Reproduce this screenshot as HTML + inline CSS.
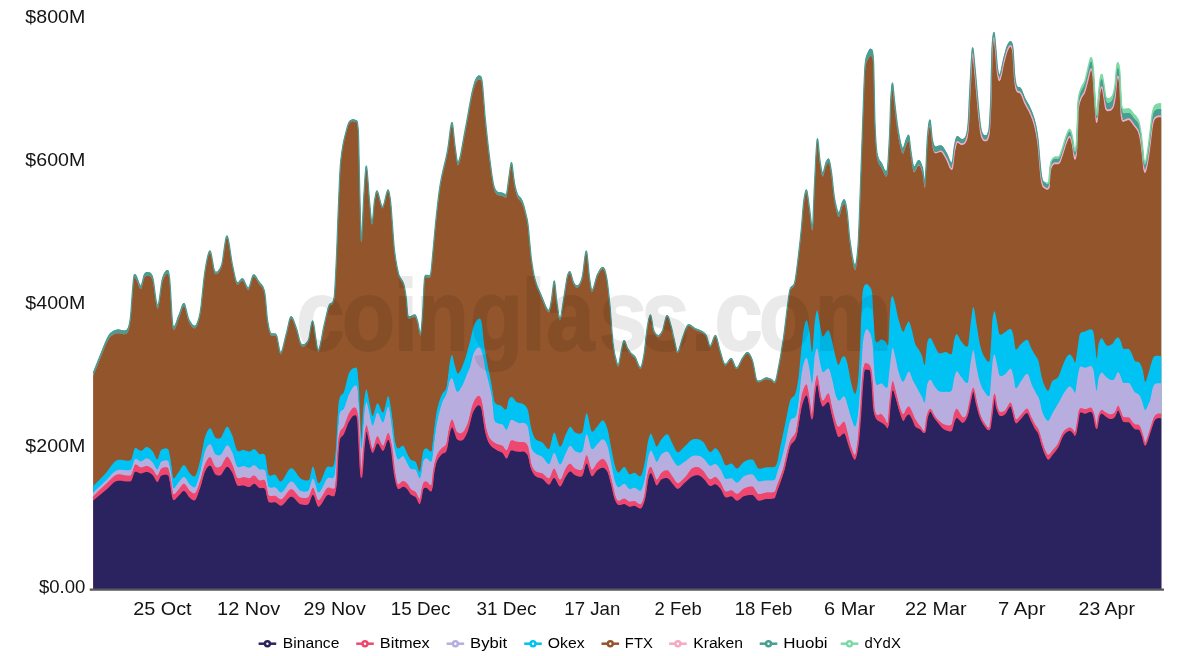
<!DOCTYPE html>
<html lang="en">
<head>
<meta charset="utf-8">
<title>Open Interest by Exchange</title>
<style>
html,body{margin:0;padding:0;background:#fff;}
body{width:1183px;height:656px;overflow:hidden;position:relative;font-family:"Liberation Sans",sans-serif;}
svg{position:absolute;left:0;top:0;display:block;}
.ax{font-family:"Liberation Sans",sans-serif;font-size:18.4px;fill:#141414;}
.lg{font-family:"Liberation Sans",sans-serif;font-size:15.4px;fill:#000;}
.wm{font-family:"Liberation Sans",sans-serif;font-weight:700;font-size:101px;fill:#000;stroke:#000;stroke-width:2px;stroke-linejoin:round;opacity:0.08;}
</style>
</head>
<body>
<svg width="1183" height="656" viewBox="0 0 1183 656">
<rect width="1183" height="656" fill="#fff"/>
<g>
<path d="M93.20 589.6L93.20 372.59L97.95 360.58L105.20 342.58L106.45 339.77L107.70 337.21L108.95 335.00L109.95 333.57L110.95 332.54L112.95 331.18L114.70 330.31L116.45 329.77L117.70 329.58L118.70 329.60L119.95 329.78L122.45 330.31L123.70 330.46L124.70 330.44L125.70 330.23L126.45 329.92L126.95 329.55L127.20 329.28L127.70 328.53L128.20 327.46L128.70 326.00L129.20 324.11L129.70 321.71L130.20 318.62L130.95 310.95L132.45 290.24L133.20 281.15L133.70 276.91L133.95 275.54L134.20 274.67L134.45 274.19L134.70 274.01L134.95 274.06L135.70 274.69L136.20 275.44L136.95 277.14L138.70 282.12L139.45 283.96L139.95 284.86L140.20 285.18L140.45 285.39L140.70 285.49L140.95 285.45L141.20 285.16L141.70 283.98L142.20 282.20L143.45 276.88L143.95 275.08L144.45 273.88L144.95 273.20L145.45 272.69L146.20 272.20L146.95 271.97L147.70 271.96L148.95 272.18L149.70 272.42L150.45 272.89L151.20 273.70L151.70 274.50L152.20 275.54L152.70 276.93L152.95 277.94L153.45 280.61L153.95 283.93L155.45 295.37L156.20 300.40L156.70 302.94L156.95 303.88L157.20 304.55L157.45 304.93L157.70 304.98L157.95 304.71L158.20 304.13L158.45 303.29L158.95 300.93L159.70 296.13L161.45 283.28L161.95 280.28L162.45 278.00L162.95 276.47L163.70 274.53L164.45 272.95L165.20 271.70L165.95 270.80L166.70 270.24L167.45 270.01L167.70 270.01L167.95 270.19L168.20 270.57L168.45 271.18L168.95 273.16L169.45 276.31L169.70 278.40L169.95 281.18L170.45 288.53L171.70 310.83L172.20 318.41L172.70 323.55L172.95 324.86L173.20 325.43L173.45 325.83L173.70 326.07L173.95 326.17L174.20 326.13L174.45 325.97L174.70 325.71L175.20 324.88L175.70 323.74L176.20 322.38L178.20 316.40L179.20 314.11L179.70 312.79L181.45 307.41L182.20 305.33L182.70 304.22L183.20 303.43L183.45 303.17L183.70 303.02L183.95 302.99L184.20 303.11L184.45 303.40L184.70 303.86L185.20 305.19L185.95 307.96L187.45 314.49L187.95 316.42L188.45 317.99L188.95 319.09L189.95 320.93L190.95 322.60L191.95 324.00L192.70 324.81L193.45 325.38L194.20 325.66L194.95 325.62L195.45 325.36L195.70 325.15L196.45 324.18L196.95 323.26L197.45 322.10L197.95 320.72L198.70 318.21L199.20 316.24L200.20 311.54L200.70 308.27L201.20 304.28L203.70 280.08L204.70 271.91L205.95 264.49L206.95 259.12L207.70 255.68L208.45 252.96L208.95 251.65L209.20 251.16L209.45 250.81L209.70 250.58L209.95 250.50L210.20 250.61L210.45 250.98L210.70 251.58L211.20 253.41L211.70 255.85L213.70 267.29L214.20 269.45L214.70 270.88L214.95 271.26L215.20 271.44L215.70 271.68L216.20 271.78L216.95 271.65L217.45 271.39L217.95 270.99L218.45 270.47L218.95 269.82L219.95 268.17L220.95 266.08L221.45 264.87L221.70 264.08L222.20 261.86L222.70 258.95L224.70 244.57L225.45 239.87L225.95 237.50L226.20 236.62L226.45 235.98L226.70 235.60L226.95 235.50L227.20 235.67L227.45 236.05L227.70 236.64L227.95 237.42L228.45 239.47L229.45 245.08L231.45 258.57L232.20 263.02L234.45 273.94L235.20 277.26L235.95 279.93L236.45 281.21L236.70 281.65L236.95 281.96L237.45 282.23L237.70 282.25L238.20 282.10L238.95 281.50L240.70 279.39L241.45 278.64L241.95 278.34L242.20 278.28L242.70 278.34L243.20 278.73L243.95 279.84L244.70 281.39L246.20 284.86L246.95 286.31L247.45 287.02L247.70 287.27L247.95 287.43L248.20 287.51L248.45 287.49L248.70 287.32L248.95 286.99L249.20 286.53L249.70 285.26L250.20 283.65L251.70 278.17L252.45 275.92L252.95 274.92L253.20 274.62L253.45 274.48L253.95 274.46L254.20 274.54L254.70 274.84L255.20 275.33L255.70 275.97L256.45 277.12L258.20 280.18L258.95 281.37L259.70 282.33L261.20 283.90L261.95 284.81L262.70 286.00L263.20 287.03L263.70 288.29L264.20 289.83L264.70 291.74L264.95 293.23L265.45 297.51L266.95 314.40L267.45 318.94L268.45 325.06L268.95 327.57L269.45 329.66L269.95 331.29L270.20 331.90L270.70 332.72L271.20 333.20L271.70 333.47L272.20 333.59L272.70 333.59L274.20 333.40L274.95 333.47L275.70 333.84L276.20 334.33L276.45 334.68L276.70 335.23L276.95 336.02L277.45 338.19L278.95 346.69L279.45 349.20L279.95 351.06L280.20 351.65L280.45 351.96L280.70 351.98L280.95 351.83L281.45 351.17L281.95 350.08L282.70 347.79L283.70 343.90L285.70 335.25L286.95 330.47L289.20 320.33L289.70 318.54L290.20 317.19L290.45 316.73L290.70 316.42L290.95 316.29L291.20 316.28L291.45 316.35L291.70 316.52L292.20 317.06L292.70 317.87L293.45 319.48L294.45 322.12L296.95 329.24L297.70 332.00L299.45 339.07L300.20 341.58L300.70 342.83L301.20 343.63L301.70 343.97L302.45 344.26L303.20 344.33L303.95 344.21L304.70 343.89L305.45 343.39L306.20 342.70L306.95 341.83L307.95 340.40L308.45 339.45L308.70 338.65L309.20 336.45L310.95 326.06L311.45 323.47L311.95 321.57L312.20 320.96L312.45 320.62L312.70 320.60L312.95 320.90L313.20 321.50L313.45 322.37L313.95 324.79L314.70 329.67L316.45 342.69L317.20 347.00L317.70 348.85L317.95 349.38L318.20 349.60L318.45 349.56L318.70 349.34L318.95 348.95L319.45 347.72L320.20 344.91L320.95 341.26L322.95 330.07L323.70 326.31L326.95 312.08L328.20 307.35L328.95 305.13L329.20 304.54L329.70 303.72L329.95 303.46L330.45 303.14L331.45 302.86L331.95 302.62L332.45 302.12L332.70 301.74L333.20 300.61L333.45 299.83L333.95 297.75L334.20 296.18L334.45 293.73L334.95 286.62L335.70 272.28L336.70 250.62L337.95 216.18L339.45 180.14L340.20 166.14L340.70 160.59L341.20 156.21L341.95 150.55L342.45 147.31L343.20 143.10L344.45 137.34L347.20 126.63L347.95 124.28L348.45 122.97L348.95 121.89L349.45 121.08L349.95 120.54L350.95 119.89L351.95 119.46L352.70 119.28L353.45 119.25L354.20 119.38L354.95 119.67L355.70 120.09L356.45 120.08L356.70 120.24L356.95 120.62L357.20 121.29L357.45 122.36L357.70 123.89L358.20 128.71L358.45 132.78L358.70 140.35L359.70 187.45L360.45 218.24L360.95 235.91L361.20 240.14L361.45 240.05L361.70 237.95L361.95 234.43L362.45 224.42L363.45 201.20L364.95 176.93L365.45 170.41L365.70 167.99L365.95 166.32L366.20 165.53L366.45 165.73L366.70 166.71L367.20 170.59L367.70 176.35L369.20 196.72L370.70 213.79L371.20 218.79L371.45 220.65L371.70 221.92L371.95 222.48L372.20 222.18L372.45 220.97L372.70 219.04L373.95 204.79L374.45 200.31L375.20 195.95L375.70 193.45L376.20 191.58L376.45 190.95L376.70 190.58L376.95 190.48L377.20 190.65L377.45 190.98L377.95 192.07L378.70 194.50L380.45 201.62L380.95 203.43L381.70 205.47L381.95 205.91L382.20 206.19L382.45 206.30L382.70 206.23L382.95 205.98L383.20 205.56L383.45 205.00L383.95 203.50L384.70 200.59L386.20 194.08L386.95 191.42L387.45 190.18L387.70 189.77L387.95 189.53L388.20 189.50L388.45 189.76L388.70 190.28L388.95 191.05L389.45 193.24L390.20 197.83L390.70 201.68L391.20 207.23L392.45 224.73L393.95 244.50L394.45 249.60L395.70 258.53L396.45 263.11L397.20 267.13L398.20 271.60L398.95 274.29L399.45 275.69L400.20 277.27L400.70 278.09L402.20 280.24L402.95 281.60L403.70 283.49L404.45 286.28L404.95 288.74L405.45 291.65L406.45 298.81L407.45 311.67L407.70 314.10L407.95 315.41L408.45 315.94L408.95 316.25L409.45 316.39L409.95 316.39L410.45 316.27L410.95 316.07L412.95 314.91L413.95 314.50L414.45 314.43L414.95 314.49L415.20 314.60L415.45 314.85L415.95 315.67L416.45 316.86L417.70 320.73L418.20 323.17L419.45 330.36L419.95 332.33L420.20 332.87L420.45 333.02L420.70 332.63L420.95 331.54L421.20 329.84L421.70 324.99L422.45 315.65L422.95 307.18L423.95 285.23L424.20 281.10L424.45 278.35L424.70 276.89L424.95 275.89L425.20 275.24L425.45 274.88L425.70 274.75L425.95 274.77L426.70 275.07L427.45 274.87L427.95 274.98L428.95 275.39L429.45 275.35L429.70 275.19L429.95 274.92L430.20 274.51L430.45 273.94L430.70 273.05L431.20 269.67L431.70 264.75L432.70 253.21L435.45 223.44L437.70 202.56L439.20 190.37L440.20 183.80L441.70 175.81L442.95 170.14L445.95 157.50L447.45 150.26L447.95 147.30L448.45 143.71L450.20 129.82L450.70 126.51L451.20 123.94L451.45 123.01L451.70 122.36L451.95 122.03L452.20 122.14L452.45 122.89L452.70 124.18L453.20 128.02L454.70 142.74L456.70 157.67L457.20 160.44L457.45 161.37L457.70 161.92L457.95 162.03L458.45 161.40L458.95 160.30L459.70 157.92L460.20 155.92L460.95 152.41L461.95 147.06L464.20 134.19L466.70 121.02L470.20 101.32L471.45 94.85L472.70 89.15L473.45 86.13L474.20 83.44L474.95 81.11L475.70 79.20L476.45 77.75L477.20 76.67L477.95 75.93L478.70 75.54L479.20 75.47L480.20 75.66L480.70 76.03L480.95 76.39L481.45 77.61L481.70 78.54L482.20 81.28L482.45 83.34L482.95 88.68L484.45 108.65L484.95 114.49L486.45 129.22L487.95 142.96L489.70 157.64L491.95 174.71L492.70 179.54L493.20 182.30L493.70 184.60L494.20 186.42L494.95 188.45L495.70 189.83L496.45 190.77L496.95 191.25L497.45 191.63L498.20 191.93L499.95 192.19L503.45 193.09L503.95 193.34L504.95 194.19L505.45 194.42L505.70 194.40L505.95 194.25L506.20 193.96L506.45 193.45L506.70 192.51L507.20 189.60L508.45 179.88L509.20 174.78L510.45 165.48L510.95 162.94L511.20 162.23L511.45 161.98L511.70 162.29L511.95 163.12L512.45 166.05L513.95 178.85L514.45 182.24L515.45 187.00L516.20 189.98L516.70 191.66L517.20 193.08L517.95 194.70L518.70 195.80L520.45 197.59L521.20 198.53L521.95 199.89L522.45 201.09L523.45 204.07L524.45 207.61L526.70 216.63L527.20 218.87L527.95 223.42L528.45 227.71L530.45 249.61L531.20 256.71L531.95 262.28L532.95 268.80L533.95 274.26L534.70 277.63L535.45 280.41L536.20 282.85L536.95 285.01L537.95 287.57L541.70 295.93L544.45 302.88L545.70 305.81L546.45 307.32L546.95 308.17L547.45 308.89L547.95 309.46L548.45 309.84L548.70 309.97L548.95 309.98L549.20 309.68L549.45 309.08L549.95 307.18L551.45 299.15L551.70 297.48L552.95 286.95L553.45 283.30L553.70 281.93L553.95 280.98L554.20 280.52L554.45 280.68L554.70 281.55L555.20 285.01L556.70 300.22L558.45 312.53L558.95 315.38L559.45 317.32L559.70 317.85L559.95 318.01L560.20 317.81L560.45 317.32L560.95 315.58L561.70 311.54L563.20 301.27L564.45 293.46L565.95 283.18L566.70 278.62L567.45 275.18L568.20 272.94L568.70 271.93L568.95 271.57L569.20 271.33L569.45 271.19L569.70 271.17L569.95 271.27L570.20 271.50L570.45 271.91L570.70 272.46L571.20 273.92L572.70 279.48L573.45 281.78L573.70 282.32L574.20 283.13L575.20 284.47L575.70 284.97L576.20 285.34L576.70 285.54L576.95 285.58L577.45 285.52L577.95 285.28L578.45 284.92L578.95 284.41L579.45 283.74L579.95 282.91L580.70 281.32L581.45 279.29L582.20 276.69L582.95 272.10L584.95 255.75L585.45 252.73L585.70 251.64L585.95 250.89L586.20 250.53L586.45 250.63L586.70 251.32L587.20 254.24L587.70 258.65L588.95 272.04L589.45 276.66L590.95 286.71L591.45 288.94L591.70 289.58L591.95 289.81L592.20 289.68L592.45 289.42L592.95 288.56L593.45 287.31L594.20 284.90L596.20 277.44L596.70 275.81L597.20 274.45L598.95 271.08L599.70 269.83L600.45 268.74L601.20 267.87L601.95 267.28L602.70 267.01L603.20 267.05L603.70 267.41L604.20 268.13L604.70 269.20L605.45 271.48L605.95 273.43L606.45 275.74L607.20 280.24L607.95 285.90L608.95 294.74L610.20 307.12L610.70 313.26L612.20 333.94L612.70 339.72L613.20 344.10L614.20 350.73L615.20 355.66L616.95 362.39L617.45 363.86L617.70 364.35L617.95 364.61L618.20 364.59L618.45 364.26L618.70 363.63L619.20 361.64L620.95 351.66L622.95 342.39L623.45 340.78L623.70 340.27L623.95 340.02L624.20 340.01L624.45 340.17L624.70 340.47L625.20 341.44L626.95 346.30L627.45 347.41L628.20 348.69L629.70 350.97L631.45 353.17L632.20 353.85L633.95 355.15L634.45 355.63L634.95 356.23L635.45 357.03L635.95 358.06L638.20 363.80L638.95 365.44L639.45 366.27L639.95 366.81L640.20 366.95L640.45 367.00L640.70 366.92L640.95 366.66L641.20 366.23L641.45 365.64L641.95 364.04L642.70 360.82L643.70 355.56L644.20 352.46L644.70 348.58L646.45 332.68L647.20 326.84L647.95 322.53L648.70 318.77L649.20 316.73L649.70 315.27L649.95 314.80L650.20 314.53L650.45 314.48L650.70 314.72L650.95 315.32L651.20 316.23L651.70 318.75L653.20 327.76L653.70 329.74L653.95 330.34L654.95 332.29L655.95 333.69L656.45 334.20L656.95 334.58L657.45 334.83L658.20 335.00L658.70 334.94L659.20 334.72L659.70 334.35L660.20 333.83L661.20 332.43L662.45 330.10L662.95 328.83L663.45 327.09L665.20 319.55L665.95 316.83L666.45 315.60L666.70 315.22L666.95 315.02L667.20 315.00L667.45 315.11L667.95 315.71L668.70 317.37L669.45 319.68L671.45 326.82L672.45 330.89L674.20 339.06L675.20 343.34L676.45 349.10L676.95 350.72L677.20 351.17L677.45 351.31L677.70 351.18L677.95 350.93L678.45 350.12L678.95 348.96L679.70 346.74L681.95 339.05L683.20 335.60L685.20 329.70L685.95 327.72L686.45 326.58L687.20 325.26L687.70 324.69L687.95 324.52L688.70 324.31L689.20 324.32L689.70 324.43L690.45 324.75L691.20 325.22L693.70 327.19L694.70 327.85L696.20 328.52L699.95 329.99L701.45 330.70L703.70 332.08L704.45 332.68L704.95 333.16L705.95 334.43L706.45 335.29L706.70 335.89L707.20 337.45L708.45 342.16L708.95 343.81L709.45 344.99L709.70 345.34L709.95 345.50L710.20 345.46L710.45 345.29L710.70 345.01L711.20 344.16L711.95 342.36L713.70 337.42L714.45 335.82L714.95 335.17L715.20 335.02L715.45 334.99L715.70 335.11L715.95 335.40L716.20 335.83L716.95 337.89L717.70 340.74L719.45 348.11L722.70 359.17L723.45 361.33L723.95 362.48L724.45 363.31L724.95 363.78L725.20 363.86L725.70 363.82L725.95 363.71L726.45 363.34L727.20 362.47L729.20 359.52L729.95 358.62L730.70 358.07L731.20 357.99L731.45 358.05L731.95 358.51L732.70 359.85L734.70 364.97L735.45 366.54L735.95 367.23L736.20 367.42L736.45 367.50L736.95 367.37L737.20 367.21L737.70 366.70L738.45 365.58L739.20 364.14L741.70 358.81L742.20 357.94L744.70 354.21L745.70 352.95L746.45 352.29L746.95 352.05L747.20 351.99L747.70 352.04L748.20 352.28L748.70 352.67L749.20 353.22L749.95 354.31L750.45 355.20L751.20 356.76L751.95 358.56L752.70 360.60L753.45 363.78L755.70 376.18L756.20 378.23L756.45 379.01L756.70 379.60L756.95 379.96L757.45 380.29L758.20 380.59L758.95 380.66L759.70 380.55L760.45 380.30L761.20 379.94L763.70 378.44L764.95 377.82L765.95 377.54L767.20 377.53L767.95 377.64L768.95 377.90L771.45 378.88L771.95 379.29L773.20 380.81L773.70 381.32L774.20 381.60L774.45 381.62L774.70 381.54L774.95 381.35L775.20 381.02L775.45 380.52L775.95 379.08L776.70 376.02L779.70 360.24L781.45 350.21L782.95 340.74L784.20 332.11L787.20 307.26L788.70 295.88L789.45 291.09L789.95 288.95L790.20 288.26L790.70 287.22L790.95 286.84L791.45 286.29L792.70 285.45L793.20 285.02L793.70 284.35L793.95 283.89L794.45 282.65L794.70 281.81L795.45 278.00L796.20 272.79L797.95 258.92L798.95 250.52L800.20 239.18L801.45 226.94L802.95 208.27L803.45 202.87L803.70 200.72L804.20 197.35L804.70 194.39L805.20 191.96L805.70 190.27L805.95 189.74L806.20 189.47L806.45 189.47L806.70 189.79L806.95 190.50L807.20 191.54L807.95 196.14L808.95 203.72L809.70 208.85L810.95 219.89L811.45 223.80L811.70 225.25L811.95 226.24L812.20 226.67L812.45 226.43L812.70 224.92L812.95 221.28L813.45 209.61L814.20 189.03L815.95 153.96L816.70 142.66L816.95 140.25L817.20 138.73L817.45 138.21L817.70 138.65L817.95 139.87L818.20 141.74L819.45 155.23L819.95 159.67L821.45 169.33L821.95 171.51L822.20 172.18L822.45 172.49L822.70 172.45L822.95 172.20L823.45 171.15L823.95 169.57L825.70 162.86L826.20 161.50L827.20 159.65L827.70 158.96L827.95 158.72L828.20 158.60L828.45 158.58L828.70 158.71L828.95 159.00L829.45 160.25L830.20 163.48L831.45 171.01L832.20 177.29L833.70 191.72L834.45 197.22L835.45 202.46L836.20 205.94L836.95 208.85L837.70 211.02L838.20 211.97L838.45 212.28L838.70 212.46L838.95 212.50L839.20 212.30L839.45 211.89L839.70 211.30L840.20 209.68L841.95 202.74L842.45 201.40L842.95 200.46L843.45 199.70L843.70 199.44L843.95 199.29L844.20 199.29L844.45 199.45L844.70 199.79L845.20 200.98L845.70 202.79L846.20 205.17L846.70 208.05L847.20 211.47L847.70 216.06L849.20 232.84L849.70 237.67L851.20 248.31L852.20 254.80L853.20 260.18L853.70 262.26L854.20 263.81L854.70 264.76L854.95 264.98L855.20 264.98L855.45 264.67L855.70 264.06L855.95 263.15L856.45 260.46L857.20 254.28L857.95 245.66L858.45 237.40L859.20 219.27L863.95 85.88L864.70 69.06L864.95 65.54L865.20 63.11L865.70 59.41L866.20 56.92L866.45 56.01L866.95 54.66L867.70 53.16L868.70 50.91L869.45 49.52L869.95 48.91L870.20 48.72L870.45 48.63L870.70 48.64L871.70 49.19L871.95 49.47L872.20 49.98L872.45 50.81L872.70 52.06L872.95 53.83L873.45 59.29L873.70 64.64L873.95 74.35L874.70 111.92L874.95 121.16L875.45 132.66L875.95 141.57L876.20 145.11L876.70 150.42L876.95 152.21L877.45 154.74L877.95 156.68L878.45 158.14L879.20 159.65L880.95 161.95L881.45 162.77L882.20 164.35L883.95 168.50L884.45 169.50L884.95 170.30L885.45 170.82L885.70 170.96L885.95 171.01L886.20 170.95L886.45 170.79L886.70 170.51L886.95 170.10L887.20 169.31L887.45 167.68L887.70 165.29L888.20 158.67L889.45 135.96L889.70 130.27L890.45 105.86L890.70 99.36L890.95 95.17L891.45 88.56L891.70 86.05L891.95 84.16L892.20 82.95L892.45 82.50L892.70 82.90L892.95 84.20L893.20 86.19L894.45 99.56L896.45 117.07L897.45 124.67L898.70 132.51L899.70 138.03L900.70 142.70L901.20 144.64L901.70 146.29L902.20 147.50L902.45 147.87L902.70 148.06L902.95 148.03L903.20 147.80L903.45 147.40L904.20 145.46L905.95 139.66L907.20 136.59L907.70 135.47L907.95 135.06L908.20 134.80L908.45 134.73L908.70 134.87L908.95 135.37L909.20 136.54L909.45 138.27L910.70 149.33L912.20 159.59L912.95 163.88L913.45 165.71L913.70 166.20L913.95 166.39L914.20 166.44L914.45 166.37L914.95 165.95L915.70 164.77L917.45 161.27L917.95 160.53L918.20 160.26L918.45 160.08L918.70 160.00L918.95 160.03L919.45 160.34L919.95 160.97L920.45 161.86L921.20 163.62L922.20 166.54L922.70 168.35L922.95 169.90L924.20 179.75L924.45 180.94L924.70 181.47L924.95 181.17L925.20 179.67L925.45 176.62L925.95 167.18L926.95 144.04L927.45 135.58L928.20 127.93L928.70 123.94L929.20 121.09L929.45 120.17L929.70 119.63L929.95 119.48L930.20 119.90L930.45 121.12L930.95 125.29L931.95 135.92L932.45 139.75L933.20 142.88L933.95 144.98L934.20 145.47L934.70 146.11L934.95 146.28L935.45 146.42L935.95 146.47L936.70 146.39L939.20 145.58L940.20 145.38L940.95 145.41L941.45 145.56L942.20 146.09L942.95 146.95L943.70 148.06L946.45 152.75L947.20 154.24L949.20 159.13L949.95 160.75L950.70 161.96L951.20 162.44L951.45 162.56L951.70 162.59L951.95 162.53L952.20 162.16L952.45 161.17L952.95 157.76L953.95 148.79L954.45 145.26L955.70 139.45L956.20 137.73L956.70 136.61L956.95 136.33L957.20 136.22L957.45 136.18L957.95 136.28L958.70 136.79L960.20 138.22L960.95 138.71L962.45 138.92L963.20 138.88L963.95 138.58L964.70 137.91L965.45 136.78L966.20 135.10L966.70 133.36L967.20 130.91L967.70 127.54L968.20 122.70L968.70 113.76L969.70 90.81L971.45 58.12L971.95 51.22L972.20 48.93L972.45 47.63L972.70 47.37L972.95 47.93L973.20 49.20L973.70 53.33L975.70 74.77L978.45 106.49L979.95 120.98L980.45 125.10L980.95 128.38L981.45 130.54L982.20 132.69L982.70 133.68L982.95 134.05L983.45 134.60L983.70 134.77L984.20 134.97L985.70 135.15L986.20 135.12L986.70 134.91L986.95 134.71L987.45 134.05L987.70 133.58L988.20 132.28L988.45 131.44L988.95 129.16L989.20 127.07L989.70 120.55L990.45 105.91L990.95 92.75L991.70 56.90L991.95 48.52L992.45 40.68L992.95 35.66L993.20 34.03L993.45 32.92L993.70 32.26L993.95 32.01L994.20 32.33L994.45 33.57L994.95 38.01L995.95 49.11L996.95 62.08L997.45 67.14L997.95 70.37L998.45 72.97L998.95 74.63L999.20 75.01L999.45 75.04L999.70 74.75L999.95 74.28L1000.20 73.65L1000.70 71.98L1001.45 68.71L1002.95 61.19L1003.70 57.88L1005.95 49.44L1006.70 47.03L1007.20 45.69L1007.95 44.08L1008.70 42.72L1009.45 41.71L1009.95 41.30L1010.45 41.16L1010.95 41.32L1011.45 41.83L1011.95 42.92L1012.45 44.78L1012.70 46.08L1012.95 47.65L1013.20 50.00L1014.45 72.25L1014.70 74.95L1015.20 79.10L1015.45 80.80L1015.95 83.47L1016.45 85.17L1016.70 85.68L1017.20 86.37L1017.45 86.61L1017.95 86.89L1019.45 87.19L1019.95 87.40L1020.45 87.82L1021.20 88.96L1022.20 91.16L1023.95 95.77L1024.95 98.10L1026.20 100.49L1028.95 105.30L1030.45 108.38L1032.45 113.26L1033.95 117.70L1035.20 122.31L1036.20 126.84L1037.20 132.51L1037.95 137.74L1038.45 142.16L1039.70 157.67L1040.45 165.80L1041.20 172.88L1041.70 176.20L1041.95 177.34L1042.45 179.12L1042.70 179.78L1043.20 180.64L1043.45 180.87L1044.95 181.79L1045.95 182.33L1046.70 182.57L1047.45 182.59L1048.20 182.31L1048.95 181.66L1049.20 179.73L1049.70 169.63L1049.95 167.14L1050.20 165.32L1050.70 162.59L1050.95 161.61L1051.45 160.26L1051.95 159.26L1052.70 158.14L1053.20 157.61L1053.95 157.04L1054.70 156.68L1055.20 156.56L1055.70 156.53L1057.45 156.60L1058.20 156.48L1058.70 156.27L1059.20 155.91L1059.70 155.19L1060.20 154.10L1060.70 152.75L1062.45 147.47L1064.95 139.15L1065.70 136.87L1067.70 131.64L1068.45 130.03L1068.95 129.27L1069.45 128.86L1069.70 128.80L1069.95 128.89L1070.20 129.17L1070.45 129.60L1070.95 130.85L1071.70 133.43L1072.45 136.47L1072.95 139.52L1073.95 146.69L1074.45 149.18L1074.70 149.80L1074.95 149.98L1075.20 149.80L1075.45 149.23L1075.70 148.27L1075.95 146.90L1076.20 145.10L1076.45 142.46L1076.70 138.67L1077.20 128.29L1077.45 121.71L1077.70 109.12L1077.95 101.70L1078.20 99.42L1078.70 95.84L1078.95 94.47L1079.45 92.34L1079.95 90.78L1081.20 87.35L1081.95 85.69L1083.95 82.37L1084.45 81.31L1084.95 79.96L1085.95 76.27L1089.70 60.22L1090.20 58.49L1090.45 57.84L1090.70 57.38L1090.95 57.12L1091.20 57.11L1091.45 57.36L1091.70 57.88L1092.20 59.71L1092.70 62.63L1093.20 66.89L1093.70 74.13L1094.70 91.55L1095.70 105.90L1096.20 111.74L1096.45 113.45L1096.70 114.00L1096.95 113.28L1097.20 111.53L1097.45 108.97L1098.70 92.36L1099.70 81.80L1100.20 77.83L1100.45 76.62L1100.95 74.82L1101.20 74.23L1101.45 73.88L1101.70 73.78L1101.95 73.96L1102.20 74.49L1102.45 75.36L1102.95 77.83L1103.95 83.79L1105.20 93.15L1105.45 94.66L1105.70 95.73L1105.95 96.32L1106.20 96.78L1106.70 97.45L1107.20 97.85L1107.70 98.03L1108.45 98.06L1109.45 97.89L1110.20 97.58L1110.70 97.26L1111.20 96.81L1111.70 96.23L1112.20 95.50L1112.70 94.60L1113.20 93.38L1113.95 90.42L1114.70 86.22L1115.20 82.70L1116.20 70.26L1116.45 67.59L1116.70 65.76L1117.20 63.22L1117.45 62.45L1117.70 62.08L1117.95 62.15L1118.20 62.48L1118.45 63.01L1118.70 63.78L1118.95 64.84L1119.45 67.96L1119.70 70.11L1119.95 73.08L1120.20 77.98L1120.95 96.51L1121.20 101.00L1121.45 103.57L1121.70 105.38L1121.95 106.67L1122.20 107.54L1122.45 108.07L1122.70 108.37L1123.45 108.71L1124.20 108.83L1124.95 108.82L1127.20 108.44L1128.20 108.37L1129.20 108.53L1129.95 108.95L1130.95 109.92L1133.70 113.50L1135.95 115.90L1136.70 116.81L1137.70 118.37L1138.45 119.92L1138.95 121.41L1139.70 124.57L1140.45 128.55L1140.95 131.61L1141.45 135.45L1142.45 144.44L1143.20 152.85L1143.70 157.73L1144.20 160.60L1144.45 161.50L1144.70 162.07L1144.95 162.27L1145.20 162.08L1145.45 161.60L1145.95 159.90L1146.70 156.12L1147.45 151.60L1148.45 144.31L1150.20 130.30L1151.95 115.21L1152.45 112.15L1153.20 108.93L1153.70 107.36L1153.95 106.73L1154.45 105.75L1155.20 104.85L1155.95 104.24L1156.95 103.76L1158.45 103.42L1159.70 103.33L1161.20 103.44L1161.20 589.6Z" fill="#7ed9a4"/>
<path d="M93.20 589.6L93.20 372.59L97.95 360.58L105.20 342.58L106.45 339.77L107.70 337.21L108.95 335.00L109.95 333.57L110.95 332.54L112.95 331.18L114.70 330.31L116.45 329.77L117.70 329.58L118.70 329.60L119.95 329.78L122.45 330.31L123.70 330.46L124.70 330.44L125.70 330.23L126.45 329.92L126.95 329.55L127.20 329.28L127.70 328.53L128.20 327.46L128.70 326.00L129.20 324.11L129.70 321.71L130.20 318.62L130.95 310.95L132.45 290.24L133.20 281.15L133.70 276.91L133.95 275.54L134.20 274.67L134.45 274.19L134.70 274.01L134.95 274.06L135.70 274.69L136.20 275.44L136.95 277.14L138.70 282.12L139.45 283.96L139.95 284.86L140.20 285.18L140.45 285.39L140.70 285.49L140.95 285.45L141.20 285.16L141.70 283.98L142.20 282.20L143.45 276.88L143.95 275.08L144.45 273.88L144.95 273.20L145.45 272.69L146.20 272.20L146.95 271.97L147.70 271.96L148.95 272.18L149.70 272.42L150.45 272.89L151.20 273.70L151.70 274.50L152.20 275.54L152.70 276.93L152.95 277.94L153.45 280.61L153.95 283.93L155.45 295.37L156.20 300.40L156.70 302.94L156.95 303.88L157.20 304.55L157.45 304.93L157.70 304.98L157.95 304.71L158.20 304.13L158.45 303.29L158.95 300.93L159.70 296.13L161.45 283.28L161.95 280.28L162.45 278.00L162.95 276.47L163.70 274.53L164.45 272.95L165.20 271.70L165.95 270.80L166.70 270.24L167.45 270.01L167.70 270.01L167.95 270.19L168.20 270.57L168.45 271.18L168.95 273.16L169.45 276.31L169.70 278.40L169.95 281.18L170.45 288.53L171.70 310.83L172.20 318.41L172.70 323.55L172.95 324.86L173.20 325.43L173.45 325.83L173.70 326.07L173.95 326.17L174.20 326.13L174.45 325.97L174.70 325.71L175.20 324.88L175.70 323.74L176.20 322.38L178.20 316.40L179.20 314.11L179.70 312.79L181.45 307.41L182.20 305.33L182.70 304.22L183.20 303.43L183.45 303.17L183.70 303.02L183.95 302.99L184.20 303.11L184.45 303.40L184.70 303.86L185.20 305.19L185.95 307.96L187.45 314.49L187.95 316.42L188.45 317.99L188.95 319.09L189.95 320.93L190.95 322.60L191.95 324.00L192.70 324.81L193.45 325.38L194.20 325.66L194.95 325.62L195.45 325.36L195.70 325.15L196.45 324.18L196.95 323.26L197.45 322.10L197.95 320.72L198.70 318.21L199.20 316.24L200.20 311.54L200.70 308.27L201.20 304.28L203.70 280.08L204.70 271.91L205.95 264.49L206.95 259.12L207.70 255.68L208.45 252.96L208.95 251.65L209.20 251.16L209.45 250.81L209.70 250.58L209.95 250.50L210.20 250.61L210.45 250.98L210.70 251.58L211.20 253.41L211.70 255.85L213.70 267.29L214.20 269.45L214.70 270.88L214.95 271.26L215.20 271.44L215.70 271.68L216.20 271.78L216.95 271.65L217.45 271.39L217.95 270.99L218.45 270.47L218.95 269.82L219.95 268.17L220.95 266.08L221.45 264.87L221.70 264.08L222.20 261.86L222.70 258.95L224.70 244.57L225.45 239.87L225.95 237.50L226.20 236.62L226.45 235.98L226.70 235.60L226.95 235.50L227.20 235.67L227.45 236.05L227.70 236.64L227.95 237.42L228.45 239.47L229.45 245.08L231.45 258.57L232.20 263.02L234.45 273.94L235.20 277.26L235.95 279.93L236.45 281.21L236.70 281.65L236.95 281.96L237.45 282.23L237.70 282.25L238.20 282.10L238.95 281.50L240.70 279.39L241.45 278.64L241.95 278.34L242.20 278.28L242.70 278.34L243.20 278.73L243.95 279.84L244.70 281.39L246.20 284.86L246.95 286.31L247.45 287.02L247.70 287.27L247.95 287.43L248.20 287.51L248.45 287.49L248.70 287.32L248.95 286.99L249.20 286.53L249.70 285.26L250.20 283.65L251.70 278.17L252.45 275.92L252.95 274.92L253.20 274.62L253.45 274.48L253.95 274.46L254.20 274.54L254.70 274.84L255.20 275.33L255.70 275.97L256.45 277.12L258.20 280.18L258.95 281.37L259.70 282.33L261.20 283.90L261.95 284.81L262.70 286.00L263.20 287.03L263.70 288.29L264.20 289.83L264.70 291.74L264.95 293.23L265.45 297.51L266.95 314.40L267.45 318.94L268.45 325.06L268.95 327.57L269.45 329.66L269.95 331.29L270.20 331.90L270.70 332.72L271.20 333.20L271.70 333.47L272.20 333.59L272.70 333.59L274.20 333.40L274.95 333.47L275.70 333.84L276.20 334.33L276.45 334.68L276.70 335.23L276.95 336.02L277.45 338.19L278.95 346.69L279.45 349.20L279.95 351.06L280.20 351.65L280.45 351.96L280.70 351.98L280.95 351.83L281.45 351.17L281.95 350.08L282.70 347.79L283.70 343.90L285.70 335.25L286.95 330.47L289.20 320.33L289.70 318.54L290.20 317.19L290.45 316.73L290.70 316.42L290.95 316.29L291.20 316.28L291.45 316.35L291.70 316.52L292.20 317.06L292.70 317.87L293.45 319.48L294.45 322.12L296.95 329.24L297.70 332.00L299.45 339.07L300.20 341.58L300.70 342.83L301.20 343.63L301.70 343.97L302.45 344.26L303.20 344.33L303.95 344.21L304.70 343.89L305.45 343.39L306.20 342.70L306.95 341.83L307.95 340.40L308.45 339.45L308.70 338.65L309.20 336.45L310.95 326.06L311.45 323.47L311.95 321.57L312.20 320.96L312.45 320.62L312.70 320.60L312.95 320.90L313.20 321.50L313.45 322.37L313.95 324.79L314.70 329.67L316.45 342.69L317.20 347.00L317.70 348.85L317.95 349.38L318.20 349.60L318.45 349.56L318.70 349.34L318.95 348.95L319.45 347.72L320.20 344.91L320.95 341.26L322.95 330.07L323.70 326.31L326.95 312.08L328.20 307.35L328.95 305.13L329.20 304.54L329.70 303.72L329.95 303.46L330.45 303.14L331.45 302.86L331.95 302.62L332.45 302.12L332.70 301.74L333.20 300.61L333.45 299.83L333.95 297.75L334.20 296.18L334.45 293.73L334.95 286.62L335.70 272.28L336.70 250.62L337.95 216.18L339.45 180.14L340.20 166.14L340.70 160.59L341.20 156.21L341.95 150.55L342.45 147.31L343.20 143.10L344.45 137.34L347.20 126.63L347.95 124.28L348.45 122.97L348.95 121.89L349.45 121.08L349.95 120.54L350.95 119.89L351.95 119.46L352.70 119.28L353.45 119.25L354.20 119.38L354.95 119.67L355.70 120.09L356.45 120.08L356.70 120.24L356.95 120.62L357.20 121.29L357.45 122.36L357.70 123.89L358.20 128.71L358.45 132.78L358.70 140.35L359.70 187.45L360.45 218.24L360.95 235.91L361.20 240.14L361.45 240.05L361.70 237.95L361.95 234.43L362.45 224.42L363.45 201.20L364.95 176.93L365.45 170.41L365.70 167.99L365.95 166.32L366.20 165.53L366.45 165.73L366.70 166.71L367.20 170.59L367.70 176.35L369.20 196.72L370.70 213.79L371.20 218.79L371.45 220.65L371.70 221.92L371.95 222.48L372.20 222.18L372.45 220.97L372.70 219.04L373.95 204.79L374.45 200.31L375.20 195.95L375.70 193.45L376.20 191.58L376.45 190.95L376.70 190.58L376.95 190.48L377.20 190.65L377.45 190.98L377.95 192.07L378.70 194.50L380.45 201.62L380.95 203.43L381.70 205.47L381.95 205.91L382.20 206.19L382.45 206.30L382.70 206.23L382.95 205.98L383.20 205.56L383.45 205.00L383.95 203.50L384.70 200.59L386.20 194.08L386.95 191.42L387.45 190.18L387.70 189.77L387.95 189.53L388.20 189.50L388.45 189.76L388.70 190.28L388.95 191.05L389.45 193.24L390.20 197.83L390.70 201.68L391.20 207.23L392.45 224.73L393.95 244.50L394.45 249.60L395.70 258.53L396.45 263.11L397.20 267.13L398.20 271.60L398.95 274.29L399.45 275.69L400.20 277.27L400.70 278.09L402.20 280.24L402.95 281.60L403.70 283.49L404.45 286.28L404.95 288.74L405.45 291.65L406.45 298.81L407.45 311.67L407.70 314.10L407.95 315.41L408.45 315.94L408.95 316.25L409.45 316.39L409.95 316.39L410.45 316.27L410.95 316.07L412.95 314.91L413.95 314.50L414.45 314.43L414.95 314.49L415.20 314.60L415.45 314.85L415.95 315.67L416.45 316.86L417.70 320.73L418.20 323.17L419.45 330.36L419.95 332.33L420.20 332.87L420.45 333.02L420.70 332.63L420.95 331.54L421.20 329.84L421.70 324.99L422.45 315.65L422.95 307.18L423.95 285.23L424.20 281.10L424.45 278.35L424.70 276.89L424.95 275.89L425.20 275.24L425.45 274.88L425.70 274.75L425.95 274.77L426.70 275.07L427.45 274.87L427.95 274.98L428.95 275.39L429.45 275.35L429.70 275.19L429.95 274.92L430.20 274.51L430.45 273.94L430.70 273.05L431.20 269.67L431.70 264.75L432.70 253.21L435.45 223.44L437.70 202.56L439.20 190.37L440.20 183.80L441.70 175.81L442.95 170.14L445.95 157.50L447.45 150.26L447.95 147.30L448.45 143.71L450.20 129.82L450.70 126.51L451.20 123.94L451.45 123.01L451.70 122.36L451.95 122.03L452.20 122.14L452.45 122.89L452.70 124.18L453.20 128.02L454.70 142.74L456.70 157.67L457.20 160.44L457.45 161.37L457.70 161.92L457.95 162.03L458.45 161.40L458.95 160.30L459.70 157.92L460.20 155.92L460.95 152.41L461.95 147.06L464.20 134.19L466.70 121.02L470.20 101.32L471.45 94.85L472.70 89.15L473.45 86.13L474.20 83.44L474.95 81.11L475.70 79.20L476.45 77.75L477.20 76.67L477.95 75.93L478.70 75.54L479.20 75.47L480.20 75.66L480.70 76.03L480.95 76.39L481.45 77.61L481.70 78.54L482.20 81.28L482.45 83.34L482.95 88.68L484.45 108.65L484.95 114.49L486.45 129.22L487.95 142.96L489.70 157.64L491.95 174.71L492.70 179.54L493.20 182.30L493.70 184.60L494.20 186.42L494.95 188.45L495.70 189.83L496.45 190.77L496.95 191.25L497.45 191.63L498.20 191.93L499.95 192.19L503.45 193.09L503.95 193.34L504.95 194.19L505.45 194.42L505.70 194.40L505.95 194.25L506.20 193.96L506.45 193.45L506.70 192.51L507.20 189.60L508.45 179.88L509.20 174.78L510.45 165.48L510.95 162.94L511.20 162.23L511.45 161.98L511.70 162.29L511.95 163.12L512.45 166.05L513.95 178.85L514.45 182.24L515.45 187.00L516.20 189.98L516.70 191.66L517.20 193.08L517.95 194.70L518.70 195.80L520.45 197.59L521.20 198.53L521.95 199.89L522.45 201.09L523.45 204.07L524.45 207.61L526.70 216.63L527.20 218.87L527.95 223.42L528.45 227.71L530.45 249.61L531.20 256.71L531.95 262.28L532.95 268.80L533.95 274.26L534.70 277.63L535.45 280.41L536.20 282.85L536.95 285.01L537.95 287.57L541.70 295.93L544.45 302.88L545.70 305.81L546.45 307.32L546.95 308.17L547.45 308.89L547.95 309.46L548.45 309.84L548.70 309.97L548.95 309.98L549.20 309.68L549.45 309.08L549.95 307.18L551.45 299.15L551.70 297.48L552.95 286.95L553.45 283.30L553.70 281.93L553.95 280.98L554.20 280.52L554.45 280.68L554.70 281.55L555.20 285.01L556.70 300.22L558.45 312.53L558.95 315.38L559.45 317.32L559.70 317.85L559.95 318.01L560.20 317.81L560.45 317.32L560.95 315.58L561.70 311.54L563.20 301.27L564.45 293.46L565.95 283.18L566.70 278.62L567.45 275.18L568.20 272.94L568.70 271.93L568.95 271.57L569.20 271.33L569.45 271.19L569.70 271.17L569.95 271.27L570.20 271.50L570.45 271.91L570.70 272.46L571.20 273.92L572.70 279.48L573.45 281.78L573.70 282.32L574.20 283.13L575.20 284.47L575.70 284.97L576.20 285.34L576.70 285.54L576.95 285.58L577.45 285.52L577.95 285.28L578.45 284.92L578.95 284.41L579.45 283.74L579.95 282.91L580.70 281.32L581.45 279.29L582.20 276.69L582.95 272.10L584.95 255.75L585.45 252.73L585.70 251.64L585.95 250.89L586.20 250.53L586.45 250.63L586.70 251.32L587.20 254.24L587.70 258.65L588.95 272.04L589.45 276.66L590.95 286.71L591.45 288.94L591.70 289.58L591.95 289.81L592.20 289.68L592.45 289.42L592.95 288.56L593.45 287.31L594.20 284.90L596.20 277.44L596.70 275.81L597.20 274.45L598.95 271.08L599.70 269.83L600.45 268.74L601.20 267.87L601.95 267.28L602.70 267.01L603.20 267.05L603.70 267.41L604.20 268.13L604.70 269.20L605.45 271.48L605.95 273.43L606.45 275.74L607.20 280.24L607.95 285.90L608.95 294.74L610.20 307.12L610.70 313.26L612.20 333.94L612.70 339.72L613.20 344.10L614.20 350.73L615.20 355.66L616.95 362.39L617.45 363.86L617.70 364.35L617.95 364.61L618.20 364.59L618.45 364.26L618.70 363.63L619.20 361.64L620.95 351.66L622.95 342.39L623.45 340.78L623.70 340.27L623.95 340.02L624.20 340.01L624.45 340.17L624.70 340.47L625.20 341.44L626.95 346.30L627.45 347.41L628.20 348.69L629.70 350.97L631.45 353.17L632.20 353.85L633.95 355.15L634.45 355.63L634.95 356.23L635.45 357.03L635.95 358.06L638.20 363.80L638.95 365.44L639.45 366.27L639.95 366.81L640.20 366.95L640.45 367.00L640.70 366.92L640.95 366.66L641.20 366.23L641.45 365.64L641.95 364.04L642.70 360.82L643.70 355.56L644.20 352.46L644.70 348.58L646.45 332.68L647.20 326.84L647.95 322.53L648.70 318.77L649.20 316.73L649.70 315.27L649.95 314.80L650.20 314.53L650.45 314.48L650.70 314.72L650.95 315.32L651.20 316.23L651.70 318.75L653.20 327.76L653.70 329.74L653.95 330.34L654.95 332.29L655.95 333.69L656.45 334.20L656.95 334.58L657.45 334.83L658.20 335.00L658.70 334.94L659.20 334.72L659.70 334.35L660.20 333.83L661.20 332.43L662.45 330.10L662.95 328.83L663.45 327.09L665.20 319.55L665.95 316.83L666.45 315.60L666.70 315.22L666.95 315.02L667.20 315.00L667.45 315.11L667.95 315.71L668.70 317.37L669.45 319.68L671.45 326.82L672.45 330.89L674.20 339.06L675.20 343.34L676.45 349.10L676.95 350.72L677.20 351.17L677.45 351.31L677.70 351.18L677.95 350.93L678.45 350.12L678.95 348.96L679.70 346.74L681.95 339.05L683.20 335.60L685.20 329.70L685.95 327.72L686.45 326.58L687.20 325.26L687.70 324.69L687.95 324.52L688.70 324.31L689.20 324.32L689.70 324.43L690.45 324.75L691.20 325.22L693.70 327.19L694.70 327.85L696.20 328.52L699.95 329.99L701.45 330.70L703.70 332.08L704.45 332.68L704.95 333.16L705.95 334.43L706.45 335.29L706.70 335.89L707.20 337.45L708.45 342.16L708.95 343.81L709.45 344.99L709.70 345.34L709.95 345.50L710.20 345.46L710.45 345.29L710.70 345.01L711.20 344.16L711.95 342.36L713.70 337.42L714.45 335.82L714.95 335.17L715.20 335.02L715.45 334.99L715.70 335.11L715.95 335.40L716.20 335.83L716.95 337.89L717.70 340.74L719.45 348.11L722.70 359.17L723.45 361.33L723.95 362.48L724.45 363.31L724.95 363.78L725.20 363.86L725.70 363.82L725.95 363.71L726.45 363.34L727.20 362.47L729.20 359.52L729.95 358.62L730.70 358.07L731.20 357.99L731.45 358.05L731.95 358.51L732.70 359.85L734.70 364.97L735.45 366.54L735.95 367.23L736.20 367.42L736.45 367.50L736.95 367.37L737.20 367.21L737.70 366.70L738.45 365.58L739.20 364.14L741.70 358.81L742.20 357.94L744.70 354.21L745.70 352.95L746.45 352.29L746.95 352.05L747.20 351.99L747.70 352.04L748.20 352.28L748.70 352.67L749.20 353.22L749.95 354.31L750.45 355.20L751.20 356.76L751.95 358.56L752.70 360.60L753.45 363.78L755.70 376.18L756.20 378.23L756.45 379.01L756.70 379.60L756.95 379.96L757.45 380.29L758.20 380.59L758.95 380.66L759.70 380.55L760.45 380.30L761.20 379.94L763.70 378.44L764.95 377.82L765.95 377.54L767.20 377.53L767.95 377.64L768.95 377.90L771.45 378.88L771.95 379.29L773.20 380.81L773.70 381.32L774.20 381.60L774.45 381.62L774.70 381.54L774.95 381.35L775.20 381.02L775.45 380.52L775.95 379.08L776.70 376.02L779.70 360.24L781.45 350.21L782.95 340.74L784.20 332.11L787.20 307.26L788.70 295.88L789.45 291.09L789.95 288.95L790.20 288.26L790.70 287.22L790.95 286.84L791.45 286.29L792.70 285.45L793.20 285.02L793.70 284.35L793.95 283.89L794.45 282.65L794.70 281.81L795.45 278.00L796.20 272.79L797.95 258.92L798.95 250.52L800.20 239.18L801.45 226.94L802.95 208.27L803.45 202.87L803.70 200.72L804.20 197.35L804.70 194.39L805.20 191.96L805.70 190.27L805.95 189.74L806.20 189.47L806.45 189.47L806.70 189.79L806.95 190.50L807.20 191.54L807.95 196.14L808.95 203.72L809.70 208.85L810.95 219.89L811.45 223.80L811.70 225.25L811.95 226.24L812.20 226.67L812.45 226.43L812.70 224.92L812.95 221.28L813.45 209.61L814.20 189.03L815.95 153.96L816.70 142.66L816.95 140.25L817.20 138.73L817.45 138.21L817.70 138.65L817.95 139.87L818.20 141.74L819.45 155.23L819.95 159.67L821.45 169.33L821.95 171.51L822.20 172.18L822.45 172.49L822.70 172.45L822.95 172.20L823.45 171.15L823.95 169.57L825.70 162.86L826.20 161.50L827.20 159.65L827.70 158.96L827.95 158.72L828.20 158.60L828.45 158.58L828.70 158.71L828.95 159.00L829.45 160.25L830.20 163.48L831.45 171.01L832.20 177.29L833.70 191.72L834.45 197.22L835.45 202.46L836.20 205.94L836.95 208.85L837.70 211.02L838.20 211.97L838.45 212.28L838.70 212.46L838.95 212.50L839.20 212.30L839.45 211.89L839.70 211.30L840.20 209.68L841.95 202.74L842.45 201.40L842.95 200.46L843.45 199.70L843.70 199.44L843.95 199.29L844.20 199.29L844.45 199.45L844.70 199.79L845.20 200.98L845.70 202.79L846.20 205.17L846.70 208.05L847.20 211.47L847.70 216.06L849.20 232.84L849.70 237.67L851.20 248.31L852.20 254.80L853.20 260.18L853.70 262.26L854.20 263.81L854.70 264.76L854.95 264.98L855.20 264.98L855.45 264.67L855.70 264.06L855.95 263.15L856.45 260.46L857.20 254.28L857.95 245.66L858.45 237.40L859.20 219.27L863.95 85.88L864.70 69.06L864.95 65.54L865.20 63.11L865.70 59.41L866.20 56.92L866.45 56.01L866.95 54.66L867.70 53.16L868.70 50.91L869.45 49.52L869.95 48.91L870.20 48.72L870.45 48.63L870.70 48.64L871.70 49.19L871.95 49.47L872.20 49.98L872.45 50.81L872.70 52.06L872.95 53.83L873.45 59.29L873.70 64.64L873.95 74.35L874.70 111.92L874.95 121.16L875.45 132.66L875.95 141.57L876.20 145.11L876.70 150.42L876.95 152.21L877.45 154.74L877.95 156.68L878.45 158.14L879.20 159.65L880.95 161.95L881.45 162.77L882.20 164.35L883.95 168.50L884.45 169.50L884.95 170.30L885.45 170.82L885.70 170.96L885.95 171.01L886.20 170.95L886.45 170.79L886.70 170.51L886.95 170.10L887.20 169.31L887.45 167.68L887.70 165.29L888.20 158.67L889.45 135.96L889.70 130.27L890.45 105.86L890.70 99.36L890.95 95.17L891.45 88.56L891.70 86.05L891.95 84.16L892.20 82.95L892.45 82.50L892.70 82.90L892.95 84.20L893.20 86.19L894.45 99.56L896.45 117.07L897.45 124.67L898.70 132.51L899.70 138.03L900.70 142.70L901.20 144.64L901.70 146.29L902.20 147.50L902.45 147.87L902.70 148.06L902.95 148.03L903.20 147.80L903.45 147.40L904.20 145.46L905.95 139.66L907.20 136.59L907.70 135.47L907.95 135.06L908.20 134.80L908.45 134.73L908.70 134.87L908.95 135.37L909.20 136.54L909.45 138.27L910.70 149.33L912.20 159.59L912.95 163.88L913.45 165.71L913.70 166.20L913.95 166.39L914.20 166.44L914.45 166.37L914.95 165.95L915.70 164.77L917.45 161.27L917.95 160.53L918.20 160.26L918.45 160.08L918.70 160.00L918.95 160.03L919.45 160.34L919.95 160.97L920.45 161.86L921.20 163.62L922.20 166.54L922.70 168.35L922.95 169.90L924.20 179.75L924.45 180.94L924.70 181.47L924.95 181.17L925.20 179.67L925.45 176.62L925.95 167.18L926.95 144.04L927.45 135.58L928.20 127.93L928.70 123.94L929.20 121.09L929.45 120.17L929.70 119.63L929.95 119.48L930.20 119.90L930.45 121.12L930.95 125.29L931.95 135.92L932.45 139.75L933.20 142.88L933.95 144.98L934.20 145.47L934.70 146.11L934.95 146.28L935.45 146.42L935.95 146.47L936.70 146.39L939.20 145.58L940.20 145.38L940.95 145.41L941.45 145.56L942.20 146.09L942.95 146.95L943.70 148.06L946.45 152.75L947.20 154.24L949.20 159.13L949.95 160.75L950.70 161.96L951.20 162.44L951.45 162.56L951.70 162.59L951.95 162.53L952.20 162.16L952.45 161.17L952.95 157.76L953.95 148.79L954.45 145.26L955.70 139.45L956.20 137.73L956.70 136.61L956.95 136.33L957.20 136.22L957.45 136.18L957.95 136.28L958.70 136.79L960.20 138.22L960.95 138.71L962.45 138.92L963.20 138.88L963.95 138.58L964.70 137.91L965.45 136.78L966.20 135.10L966.70 133.36L967.20 130.91L967.70 127.54L968.20 122.70L968.70 113.76L969.70 90.81L971.45 58.12L971.95 51.22L972.20 48.93L972.45 47.63L972.70 47.37L972.95 47.93L973.20 49.20L973.70 53.33L975.70 74.77L978.45 106.49L979.95 120.98L980.45 125.10L980.95 128.38L981.45 130.54L982.20 132.69L982.70 133.68L982.95 134.05L983.45 134.60L983.70 134.77L984.20 134.97L985.70 135.15L986.20 135.12L986.70 134.91L986.95 134.71L987.45 134.05L987.70 133.58L988.20 132.28L988.45 131.44L988.95 129.16L989.20 127.07L989.70 120.55L990.45 105.91L990.95 92.75L991.70 56.90L991.95 48.52L992.45 40.68L992.95 35.66L993.20 34.03L993.45 32.92L993.70 32.26L993.95 32.01L994.20 32.33L994.45 33.57L994.95 38.01L995.95 49.11L996.95 62.08L997.45 67.14L997.95 70.37L998.45 72.97L998.95 74.63L999.20 75.01L999.45 75.04L999.70 74.75L999.95 74.28L1000.20 73.65L1000.70 71.98L1001.45 68.71L1002.95 61.19L1003.70 57.88L1005.95 49.44L1006.70 47.03L1007.20 45.69L1007.95 44.08L1008.70 42.72L1009.45 41.71L1009.95 41.30L1010.45 41.16L1010.95 41.32L1011.45 41.83L1011.95 42.92L1012.45 44.78L1012.70 46.08L1012.95 47.65L1013.20 50.00L1014.45 72.25L1014.70 74.95L1015.20 79.10L1015.45 80.80L1015.95 83.47L1016.45 85.17L1016.70 85.68L1017.20 86.37L1017.45 86.61L1017.95 86.89L1019.45 87.19L1019.95 87.40L1020.45 87.82L1021.20 88.96L1022.20 91.16L1023.95 95.77L1024.95 98.10L1026.20 100.49L1028.95 105.30L1030.45 108.39L1032.45 113.31L1033.95 117.81L1035.20 122.49L1036.20 127.09L1037.20 132.83L1037.95 138.12L1038.45 142.58L1039.70 158.20L1040.45 166.39L1041.20 173.53L1041.70 176.89L1041.95 178.06L1042.45 179.88L1042.70 180.55L1043.20 181.46L1043.45 181.71L1045.20 182.96L1046.20 183.57L1046.95 183.84L1047.70 183.87L1048.45 183.57L1048.95 183.16L1049.20 181.27L1049.70 171.23L1049.95 168.78L1050.45 165.52L1050.70 164.32L1051.20 162.65L1051.70 161.59L1052.45 160.42L1052.95 159.87L1053.70 159.29L1054.45 158.93L1055.20 158.78L1057.45 158.96L1058.20 158.88L1058.70 158.70L1059.20 158.37L1059.70 157.68L1060.20 156.61L1060.70 155.28L1062.45 150.08L1064.95 141.88L1065.70 139.63L1067.70 134.51L1068.45 132.95L1068.95 132.22L1069.45 131.84L1069.70 131.80L1069.95 131.91L1070.20 132.20L1070.45 132.65L1070.95 133.95L1071.70 136.60L1072.45 139.71L1072.95 142.81L1073.95 150.09L1074.45 152.63L1074.70 153.28L1074.95 153.48L1075.20 153.33L1075.45 152.79L1075.70 151.86L1075.95 150.51L1076.20 148.74L1076.45 146.12L1076.70 142.36L1077.20 132.03L1077.45 125.48L1077.70 112.91L1077.95 105.52L1078.20 103.26L1078.70 99.73L1078.95 98.38L1079.45 96.30L1079.95 94.77L1081.20 91.45L1081.95 89.85L1083.95 86.70L1084.45 85.68L1084.95 84.37L1085.95 80.76L1088.20 71.43L1089.70 64.90L1090.20 63.18L1090.45 62.54L1090.70 62.08L1090.95 61.82L1091.20 61.80L1091.45 62.03L1091.70 62.51L1092.20 64.22L1092.70 66.96L1093.20 71.02L1093.70 78.05L1094.70 95.03L1095.70 109.03L1096.20 114.78L1096.45 116.46L1096.70 117.00L1096.95 116.30L1097.20 114.60L1097.45 112.13L1098.70 96.26L1099.70 86.48L1100.20 82.88L1100.45 81.84L1100.95 80.33L1101.20 79.86L1101.45 79.60L1101.70 79.56L1101.95 79.76L1102.20 80.29L1102.45 81.15L1102.95 83.58L1103.95 89.40L1105.20 98.51L1105.45 99.97L1105.70 100.98L1105.95 101.52L1106.45 102.25L1106.95 102.69L1107.45 102.89L1108.20 102.91L1109.45 102.70L1110.20 102.46L1110.95 102.03L1111.45 101.62L1111.95 101.07L1112.45 100.37L1112.95 99.48L1113.45 98.08L1113.95 96.08L1114.70 92.06L1115.20 88.65L1115.45 86.09L1116.20 76.40L1116.45 73.77L1116.70 71.97L1117.20 69.48L1117.45 68.73L1117.70 68.37L1117.95 68.45L1118.20 68.78L1118.45 69.29L1118.70 70.03L1118.95 71.04L1119.45 74.06L1119.70 76.15L1119.95 79.04L1120.20 83.86L1120.95 102.12L1121.20 106.52L1121.45 108.99L1121.70 110.70L1121.95 111.90L1122.20 112.67L1122.45 113.12L1122.70 113.33L1122.95 113.40L1124.20 113.40L1127.20 112.98L1127.95 112.94L1128.70 113.01L1129.20 113.15L1129.95 113.60L1130.45 114.06L1131.20 114.92L1133.95 118.58L1135.95 120.68L1136.70 121.55L1137.70 123.02L1138.45 124.50L1138.95 125.93L1139.70 129.00L1140.45 132.89L1140.95 135.89L1141.45 139.68L1142.45 148.57L1143.20 156.91L1143.70 161.77L1144.20 164.61L1144.45 165.51L1144.70 166.07L1144.95 166.27L1145.20 166.09L1145.45 165.62L1145.95 163.99L1146.70 160.39L1147.45 156.10L1148.45 149.19L1150.20 135.81L1151.95 121.01L1152.45 117.95L1153.20 114.73L1153.70 113.16L1153.95 112.53L1154.45 111.55L1155.20 110.65L1155.95 110.04L1156.95 109.56L1158.45 109.22L1159.70 109.13L1161.20 109.24L1161.20 589.6Z" fill="#4a9d93"/>
<path d="M93.20 589.6L93.20 376.29L97.95 364.28L105.20 346.28L106.45 343.47L107.70 340.91L108.95 338.70L109.95 337.27L110.95 336.24L112.95 334.88L114.70 334.01L116.45 333.47L117.70 333.28L118.70 333.30L119.95 333.48L122.45 334.01L123.70 334.16L124.70 334.14L125.70 333.93L126.45 333.62L126.95 333.25L127.20 332.98L127.70 332.23L128.20 331.16L128.70 329.70L129.20 327.81L129.70 325.41L130.20 322.32L130.95 314.65L132.45 293.94L133.20 284.85L133.70 280.61L133.95 279.24L134.20 278.37L134.45 277.89L134.70 277.71L134.95 277.76L135.70 278.39L136.20 279.14L136.95 280.84L138.70 285.82L139.45 287.66L139.95 288.56L140.20 288.88L140.45 289.09L140.70 289.19L140.95 289.15L141.20 288.86L141.70 287.68L142.20 285.90L143.45 280.58L143.95 278.78L144.45 277.58L144.95 276.90L145.45 276.39L146.20 275.90L146.95 275.67L147.70 275.66L148.95 275.88L149.70 276.12L150.45 276.59L151.20 277.40L151.70 278.20L152.20 279.24L152.70 280.63L152.95 281.64L153.45 284.31L153.95 287.63L155.45 299.07L156.20 304.10L156.70 306.64L156.95 307.58L157.20 308.25L157.45 308.63L157.70 308.68L157.95 308.41L158.20 307.83L158.45 306.99L158.95 304.63L159.70 299.83L161.45 286.98L161.95 283.98L162.45 281.70L162.95 280.17L163.70 278.23L164.45 276.65L165.20 275.40L165.95 274.50L166.70 273.94L167.45 273.71L167.70 273.71L167.95 273.89L168.20 274.27L168.45 274.88L168.95 276.86L169.45 280.01L169.70 282.10L169.95 284.88L170.45 292.23L171.70 314.52L172.20 322.09L172.70 327.22L172.95 328.52L173.20 329.10L173.45 329.49L173.70 329.72L173.95 329.81L174.20 329.77L174.45 329.60L174.70 329.33L175.20 328.48L175.70 327.33L176.20 325.94L178.20 319.88L179.20 317.55L179.70 316.20L181.45 310.72L182.20 308.61L182.70 307.47L183.20 306.65L183.45 306.38L183.70 306.22L183.95 306.17L184.20 306.27L184.45 306.55L184.70 307.00L185.20 308.30L185.95 311.03L187.45 317.48L187.95 319.38L188.45 320.93L188.95 322.00L189.95 323.79L190.95 325.42L191.95 326.78L192.70 327.57L193.45 328.12L194.20 328.38L194.95 328.32L195.45 328.05L195.70 327.84L196.45 326.86L196.95 325.92L197.45 324.76L197.95 323.36L198.70 320.84L199.20 318.86L200.20 314.15L200.70 310.87L201.20 306.88L203.70 282.65L204.70 274.46L205.95 267.02L206.95 261.65L207.70 258.20L208.45 255.47L208.95 254.15L209.20 253.67L209.45 253.31L209.70 253.08L209.95 253.00L210.20 253.10L210.45 253.47L210.70 254.08L211.20 255.90L211.70 258.33L213.70 269.77L214.20 271.92L214.70 273.35L214.95 273.72L215.20 273.91L215.70 274.15L216.20 274.24L216.95 274.10L217.45 273.84L217.95 273.44L218.45 272.92L218.95 272.27L219.95 270.61L220.95 268.51L221.45 267.30L221.70 266.51L222.20 264.29L222.70 261.38L224.70 246.99L225.45 242.29L225.95 239.91L226.20 239.03L226.45 238.39L226.70 238.01L226.95 237.91L227.20 238.08L227.45 238.46L227.70 239.05L227.95 239.82L228.45 241.87L229.45 247.48L231.45 260.96L232.20 265.41L234.45 276.32L235.20 279.63L235.95 282.31L236.45 283.58L236.70 284.02L236.95 284.33L237.45 284.59L237.70 284.61L238.20 284.46L238.95 283.86L240.70 281.75L241.45 281.00L241.95 280.70L242.20 280.63L242.70 280.69L243.20 281.08L243.95 282.19L244.70 283.74L246.20 287.20L246.95 288.65L247.45 289.36L247.70 289.60L247.95 289.77L248.20 289.84L248.45 289.82L248.70 289.65L248.95 289.32L249.20 288.86L249.70 287.59L250.20 285.98L251.70 280.49L252.45 278.24L252.95 277.24L253.20 276.94L253.45 276.80L253.95 276.78L254.20 276.85L254.70 277.16L255.20 277.65L255.70 278.28L256.45 279.44L258.20 282.49L258.95 283.68L259.70 284.63L261.20 286.19L261.95 287.10L262.70 288.29L263.20 289.32L263.70 290.58L264.20 292.12L264.70 294.03L264.95 295.51L265.45 299.80L266.95 316.68L267.45 321.22L268.45 327.34L268.95 329.85L269.45 331.94L269.95 333.56L270.20 334.18L270.70 334.99L271.20 335.47L271.70 335.74L272.20 335.85L272.70 335.86L274.20 335.67L274.95 335.73L275.70 336.10L276.20 336.59L276.45 336.93L276.70 337.48L276.95 338.28L277.45 340.44L278.95 348.94L279.45 351.45L279.95 353.31L280.20 353.89L280.45 354.21L280.70 354.23L280.95 354.08L281.45 353.41L281.95 352.32L282.70 350.04L283.70 346.14L285.70 337.49L286.95 332.71L289.20 322.56L289.70 320.77L290.20 319.42L290.45 318.95L290.70 318.64L290.95 318.51L291.20 318.50L291.45 318.58L291.70 318.74L292.20 319.28L292.70 320.09L293.45 321.70L294.45 324.33L296.95 331.44L297.70 334.20L299.45 341.27L300.20 343.78L300.70 345.03L301.20 345.82L301.70 346.17L302.45 346.45L303.20 346.52L303.95 346.40L304.70 346.08L305.45 345.57L306.20 344.88L306.95 344.00L307.95 342.57L308.45 341.62L308.70 340.82L309.20 338.62L310.95 328.21L311.45 325.62L311.95 323.72L312.20 323.11L312.45 322.77L312.70 322.75L312.95 323.05L313.20 323.65L313.45 324.52L313.95 326.93L314.70 331.81L316.45 344.82L317.20 349.13L317.70 350.98L317.95 351.50L318.20 351.72L318.45 351.68L318.70 351.46L318.95 351.07L319.45 349.83L320.20 347.02L320.95 343.37L322.95 332.17L323.70 328.40L326.95 314.16L328.20 309.42L328.95 307.20L329.20 306.61L329.70 305.79L329.95 305.52L330.45 305.21L331.45 304.92L331.95 304.67L332.45 304.17L332.70 303.79L333.20 302.66L333.45 301.87L333.95 299.80L334.20 298.22L334.45 295.77L334.95 288.66L335.70 274.32L336.70 252.66L337.95 218.21L339.45 182.17L340.20 168.16L340.70 162.61L341.20 158.22L341.95 152.56L342.45 149.32L343.20 145.11L344.45 139.35L347.20 128.64L347.95 126.28L348.45 124.97L348.95 123.90L349.45 123.08L349.95 122.54L350.95 121.90L351.95 121.46L352.70 121.28L353.45 121.25L354.20 121.38L354.95 121.67L355.70 122.09L356.45 122.09L356.70 122.24L356.95 122.62L357.20 123.29L357.45 124.36L357.70 125.89L358.20 130.71L358.45 134.79L358.70 142.36L359.70 189.46L360.45 220.25L360.95 237.92L361.20 242.15L361.45 242.05L361.70 239.95L361.95 236.44L362.45 226.42L363.45 203.21L364.95 178.94L365.45 172.42L365.70 170.00L365.95 168.33L366.20 167.55L366.45 167.74L366.70 168.73L367.20 172.61L367.70 178.37L369.20 198.74L370.70 215.82L371.20 220.82L371.45 222.68L371.70 223.95L371.95 224.52L372.20 224.21L372.45 223.01L372.70 221.07L373.95 206.83L374.45 202.35L375.20 197.99L375.70 195.50L376.20 193.63L376.45 193.00L376.70 192.63L376.95 192.53L377.20 192.70L377.45 193.03L377.95 194.12L378.70 196.56L380.45 203.69L380.95 205.50L381.70 207.54L381.95 207.98L382.20 208.26L382.45 208.37L382.70 208.30L382.95 208.05L383.20 207.64L383.45 207.08L383.95 205.59L384.70 202.68L386.20 196.18L386.95 193.52L387.45 192.28L387.70 191.87L387.95 191.63L388.20 191.61L388.45 191.87L388.70 192.39L388.95 193.16L389.45 195.35L390.20 199.95L390.70 203.80L391.20 209.36L392.45 226.86L393.95 246.64L394.45 251.75L395.70 260.68L396.45 265.27L397.20 269.29L398.20 273.77L398.95 276.46L399.45 277.87L400.20 279.46L400.70 280.28L402.20 282.44L402.95 283.80L403.70 285.70L404.45 288.49L404.95 290.96L405.45 293.88L406.45 301.04L407.45 313.91L407.70 316.34L407.95 317.65L408.45 318.19L408.95 318.50L409.45 318.64L409.95 318.65L410.45 318.53L410.95 318.34L412.95 317.20L413.95 316.79L414.45 316.73L414.95 316.79L415.20 316.90L415.45 317.15L415.95 317.98L416.45 319.17L417.70 323.06L418.20 325.51L419.45 332.72L419.95 334.70L420.20 335.24L420.45 335.39L420.70 335.01L420.95 333.92L421.20 332.22L421.70 327.39L422.45 318.07L422.95 309.60L423.95 287.68L424.20 283.56L424.45 280.81L424.70 279.36L424.95 278.36L425.20 277.72L425.45 277.37L425.70 277.24L425.95 277.26L426.70 277.58L427.45 277.40L427.95 277.53L428.95 277.96L429.45 277.93L429.70 277.78L429.95 277.52L430.20 277.11L430.45 276.55L430.70 275.67L431.20 272.30L431.70 267.40L432.70 255.89L435.45 226.20L437.70 205.40L439.20 193.25L440.20 186.71L441.70 178.77L442.95 173.13L445.95 160.58L447.45 153.39L447.95 150.44L448.45 146.87L450.20 133.03L450.70 129.72L451.20 127.17L451.45 126.25L451.70 125.61L451.95 125.28L452.20 125.40L452.45 126.16L452.70 127.46L453.20 131.31L454.70 146.08L456.70 161.08L457.20 163.86L457.45 164.80L457.70 165.36L457.95 165.49L458.45 164.87L458.95 163.79L459.70 161.44L460.20 159.45L460.95 155.97L461.95 150.65L464.20 137.86L466.70 124.77L470.20 105.17L471.45 98.74L472.70 93.06L473.45 90.07L474.20 87.38L474.95 85.07L475.70 83.17L476.45 81.72L477.20 80.66L477.95 79.93L478.70 79.53L479.20 79.46L480.20 79.66L480.70 80.02L480.95 80.38L481.45 81.60L481.70 82.53L482.20 85.26L482.45 87.32L482.95 92.64L484.45 112.56L484.95 118.38L486.45 133.05L487.95 146.72L489.70 161.30L491.95 178.25L492.70 183.05L493.20 185.79L493.70 188.07L494.20 189.86L494.70 191.27L495.45 192.82L495.95 193.55L496.45 194.13L496.95 194.60L497.45 194.96L498.20 195.24L499.95 195.49L503.45 196.48L503.95 196.75L504.95 197.66L505.45 197.92L505.70 197.91L505.95 197.78L506.20 197.50L506.45 197.00L506.70 196.08L507.20 193.19L508.45 183.52L509.20 178.45L510.45 169.17L510.95 166.64L511.20 165.93L511.45 165.68L511.70 165.99L511.95 166.82L512.45 169.74L513.95 182.52L514.45 185.89L515.45 190.63L516.20 193.58L516.70 195.25L517.20 196.65L517.95 198.24L518.70 199.31L520.45 201.02L521.20 201.92L521.95 203.24L522.45 204.41L523.45 207.33L524.45 210.82L526.70 219.71L527.20 221.91L527.95 226.42L528.45 230.68L530.45 252.47L531.20 259.53L531.95 265.06L532.95 271.53L533.95 276.94L534.70 280.28L535.45 283.03L536.20 285.44L536.95 287.58L537.95 290.11L541.70 298.41L544.45 305.33L545.70 308.24L546.45 309.74L546.95 310.60L547.45 311.31L547.95 311.87L548.45 312.25L548.70 312.37L548.95 312.38L549.20 312.08L549.45 311.47L549.95 309.57L551.45 301.53L551.70 299.86L552.95 289.32L553.45 285.66L553.70 284.29L553.95 283.33L554.20 282.88L554.45 283.03L554.70 283.90L555.20 287.36L556.70 302.55L558.45 314.85L558.95 317.69L559.45 319.64L559.70 320.16L559.95 320.32L560.20 320.12L560.45 319.63L560.95 317.88L561.70 313.84L563.20 303.56L564.45 295.74L565.95 285.45L566.70 280.89L567.45 277.44L568.20 275.20L568.70 274.18L568.95 273.83L569.20 273.58L569.45 273.44L569.70 273.42L569.95 273.51L570.20 273.75L570.45 274.15L570.70 274.70L571.20 276.16L572.70 281.71L573.45 284.01L573.70 284.55L574.20 285.36L575.20 286.69L575.70 287.19L576.20 287.55L576.70 287.75L576.95 287.79L577.45 287.73L577.95 287.49L578.45 287.12L578.95 286.61L579.45 285.94L579.95 285.11L580.70 283.51L581.45 281.48L582.20 278.88L582.95 274.28L584.95 257.92L585.45 254.90L585.70 253.81L585.95 253.06L586.20 252.70L586.45 252.79L586.70 253.49L587.20 256.40L587.70 260.81L588.95 274.19L589.45 278.81L590.95 288.85L591.45 291.09L591.70 291.72L591.95 291.95L592.20 291.82L592.45 291.56L592.95 290.70L593.45 289.45L594.20 287.03L596.20 279.56L596.70 277.93L597.20 276.57L598.95 273.19L599.70 271.93L600.45 270.84L601.20 269.97L601.95 269.37L602.70 269.09L603.20 269.13L603.70 269.49L604.20 270.21L604.70 271.28L605.45 273.55L605.95 275.49L606.45 277.80L607.20 282.30L607.95 287.95L608.95 296.79L610.20 309.16L610.70 315.30L612.20 335.98L612.70 341.75L613.20 346.12L614.20 352.75L615.20 357.68L616.95 364.39L617.45 365.86L617.70 366.35L617.95 366.61L618.20 366.59L618.45 366.26L618.70 365.63L619.20 363.64L620.95 353.65L622.95 344.37L623.45 342.75L623.70 342.24L623.95 341.99L624.20 341.97L624.45 342.13L624.70 342.44L625.20 343.40L626.95 348.25L627.45 349.36L628.20 350.64L629.70 352.90L631.45 355.09L632.20 355.77L633.95 357.06L634.45 357.54L634.95 358.14L635.45 358.94L635.95 359.97L638.20 365.69L638.95 367.32L639.45 368.15L639.95 368.69L640.20 368.83L640.45 368.88L640.70 368.80L640.95 368.54L641.20 368.10L641.45 367.51L641.95 365.91L642.70 362.69L643.70 357.42L644.20 354.32L644.70 350.43L646.45 334.53L647.20 328.69L647.95 324.37L648.70 320.61L649.20 318.57L649.70 317.10L649.95 316.63L650.20 316.36L650.45 316.31L650.70 316.55L650.95 317.15L651.20 318.06L651.70 320.57L653.20 329.58L653.70 331.56L653.95 332.16L654.95 334.10L655.95 335.50L656.45 336.00L656.95 336.38L657.45 336.63L658.20 336.79L658.70 336.74L659.20 336.52L659.70 336.14L660.20 335.62L661.20 334.21L662.45 331.88L662.95 330.61L663.45 328.86L665.20 321.31L665.95 318.60L666.45 317.36L666.70 316.98L666.95 316.78L667.20 316.76L667.45 316.87L667.95 317.47L668.70 319.12L669.45 321.43L671.45 328.57L672.45 332.63L674.20 340.80L675.20 345.07L676.45 350.83L676.95 352.45L677.20 352.90L677.45 353.04L677.70 352.91L677.95 352.65L678.45 351.84L678.95 350.68L679.70 348.46L681.95 340.77L683.20 337.31L685.20 331.41L685.95 329.42L686.45 328.28L687.20 326.96L687.70 326.40L687.95 326.22L688.70 326.01L689.20 326.02L689.70 326.12L690.45 326.45L691.20 326.92L693.70 328.88L694.70 329.53L696.20 330.21L699.95 331.67L701.45 332.37L703.70 333.75L704.45 334.34L704.95 334.83L705.95 336.10L706.45 336.95L706.70 337.55L707.20 339.11L708.45 343.82L708.95 345.47L709.45 346.65L709.70 347.00L709.95 347.15L710.20 347.12L710.45 346.95L710.70 346.67L711.20 345.82L711.95 344.01L713.70 339.07L714.45 337.47L714.95 336.82L715.20 336.67L715.45 336.64L715.70 336.76L715.95 337.04L716.20 337.48L716.95 339.54L717.70 342.39L719.45 349.76L722.70 360.81L723.45 362.97L723.95 364.11L724.45 364.95L724.95 365.41L725.20 365.49L725.70 365.46L725.95 365.34L726.45 364.97L727.20 364.10L729.20 361.15L729.95 360.25L730.70 359.70L731.20 359.61L731.45 359.68L731.95 360.13L732.70 361.47L734.70 366.59L735.45 368.16L735.95 368.84L736.20 369.04L736.45 369.12L736.95 368.99L737.20 368.83L737.70 368.32L738.45 367.20L739.20 365.76L741.70 360.42L742.20 359.56L744.70 355.82L745.70 354.55L746.45 353.90L746.95 353.65L747.20 353.60L747.70 353.65L748.20 353.88L748.70 354.28L749.20 354.83L749.95 355.92L750.45 356.81L751.20 358.37L751.95 360.16L752.70 362.21L753.45 365.39L755.70 377.78L756.20 379.84L756.45 380.62L756.70 381.20L756.95 381.56L757.45 381.90L758.20 382.19L758.95 382.26L759.70 382.15L760.45 381.90L761.20 381.54L763.70 380.04L764.95 379.42L765.95 379.14L767.20 379.13L767.95 379.25L768.95 379.51L771.45 380.51L771.95 380.93L773.20 382.47L773.70 382.98L774.20 383.27L774.45 383.29L774.70 383.22L774.95 383.04L775.20 382.71L775.45 382.22L775.95 380.78L776.70 377.74L779.70 362.03L781.45 352.04L782.95 342.61L784.20 334.02L787.20 309.27L788.70 297.93L789.45 293.17L789.95 291.05L790.20 290.37L790.70 289.35L790.95 288.98L791.45 288.46L792.70 287.70L793.20 287.30L793.70 286.68L793.95 286.24L794.45 285.04L794.70 284.22L795.45 280.48L796.20 275.35L798.20 259.65L800.20 242.17L801.45 230.06L802.95 211.53L803.45 206.18L803.70 204.06L804.20 200.73L804.70 197.80L805.20 195.41L805.70 193.75L805.95 193.24L806.20 192.98L806.45 192.99L806.70 193.33L806.95 194.05L807.20 195.11L807.95 199.74L808.95 207.38L809.70 212.54L810.95 223.65L811.45 227.58L811.70 229.05L811.95 230.05L812.20 230.48L812.45 230.26L812.70 228.75L812.95 225.12L813.45 213.48L814.20 192.93L815.95 157.92L816.70 146.65L816.95 144.25L817.20 142.74L817.45 142.23L817.70 142.67L817.95 143.91L818.20 145.78L819.45 159.31L819.95 163.76L821.45 173.47L821.95 175.66L822.20 176.33L822.45 176.65L822.70 176.62L822.95 176.38L823.45 175.34L823.95 173.77L825.70 167.11L826.20 165.76L827.20 163.93L827.70 163.25L827.95 163.02L828.20 162.90L828.45 162.89L828.70 163.02L828.95 163.32L829.45 164.58L830.20 167.82L831.45 175.38L832.20 181.67L833.70 196.12L834.45 201.63L835.45 206.88L836.20 210.37L836.95 213.29L837.70 215.48L838.20 216.43L838.45 216.74L838.70 216.93L838.95 216.97L839.20 216.78L839.45 216.37L839.70 215.78L840.20 214.17L841.95 207.26L842.45 205.92L842.95 205.00L843.45 204.24L843.70 203.98L843.95 203.84L844.20 203.84L844.45 204.01L844.70 204.35L845.20 205.55L845.70 207.37L846.20 209.76L846.70 212.66L847.20 216.09L847.70 220.69L849.20 237.52L849.70 242.36L851.20 253.05L852.20 259.60L853.20 265.05L853.70 267.16L854.20 268.75L854.70 269.74L854.95 269.98L855.20 270.00L855.45 269.72L855.70 269.13L855.95 268.25L856.45 265.60L857.20 259.51L857.95 250.97L858.45 242.76L859.20 224.72L863.95 91.94L864.70 75.22L864.95 71.73L865.20 69.34L865.70 65.73L866.20 63.34L866.45 62.49L866.95 61.26L867.70 59.93L868.95 57.46L869.45 56.68L869.95 56.14L870.45 55.91L870.70 55.93L871.70 56.46L871.95 56.71L872.20 57.19L872.45 57.99L872.70 59.19L872.95 60.91L873.45 66.26L873.70 71.55L873.95 81.19L874.70 118.54L874.95 127.70L875.45 139.04L875.95 147.79L876.20 151.25L876.70 156.39L876.95 158.10L877.45 160.48L877.95 162.27L878.45 163.59L879.20 164.94L880.70 166.71L881.45 167.88L882.20 169.49L884.20 174.37L884.70 175.35L885.20 176.10L885.70 176.55L885.95 176.64L886.20 176.62L886.45 176.50L886.70 176.26L886.95 175.89L887.20 175.14L887.45 173.57L887.70 171.25L888.20 164.77L889.45 142.52L889.70 136.91L890.45 112.77L890.70 106.35L890.95 102.23L891.45 95.74L891.70 93.28L891.95 91.43L892.20 90.24L892.45 89.80L892.70 90.20L892.95 91.49L893.20 93.47L894.45 106.73L896.20 121.83L897.20 129.60L898.45 137.41L899.70 144.19L900.70 148.68L901.70 152.15L902.20 153.31L902.45 153.67L902.70 153.84L902.95 153.81L903.20 153.57L903.45 153.18L904.20 151.27L905.95 145.62L907.20 142.67L907.70 141.58L907.95 141.19L908.20 140.94L908.45 140.87L908.70 141.01L908.95 141.50L909.20 142.66L909.45 144.38L910.70 155.33L912.20 165.38L912.95 169.55L913.45 171.29L913.70 171.74L913.95 171.88L914.20 171.89L914.45 171.78L914.95 171.26L915.70 169.96L917.45 166.21L917.95 165.41L918.20 165.12L918.45 164.92L918.70 164.82L918.95 164.84L919.20 164.94L919.70 165.41L920.45 166.68L921.20 168.51L922.20 171.56L922.70 173.46L922.95 175.04L924.20 185.13L924.45 186.38L924.70 186.96L924.95 186.71L925.20 185.26L925.45 182.26L925.95 172.91L926.95 149.95L927.45 141.56L928.20 133.99L928.70 130.04L929.20 127.22L929.45 126.31L929.70 125.76L929.95 125.61L930.20 126.03L930.45 127.23L930.95 131.37L931.95 141.94L932.45 145.73L933.20 148.79L933.95 150.83L934.20 151.29L934.70 151.88L934.95 152.02L935.45 152.12L935.95 152.11L936.70 151.96L939.20 150.95L940.20 150.70L940.70 150.68L941.20 150.76L941.70 150.99L942.20 151.39L942.95 152.29L943.70 153.44L946.70 158.83L947.45 160.52L949.45 165.57L950.20 167.12L950.95 168.18L951.45 168.51L951.70 168.54L951.95 168.47L952.20 168.11L952.45 167.10L952.95 163.66L953.95 154.58L954.45 150.97L955.70 144.96L956.20 143.16L956.70 141.96L956.95 141.65L957.20 141.50L957.45 141.42L957.95 141.45L958.70 141.84L959.95 142.83L960.70 143.30L961.20 143.42L962.45 143.40L963.20 143.30L963.95 142.98L964.70 142.33L965.20 141.66L965.70 140.85L966.20 139.72L966.70 138.09L967.20 135.75L967.70 132.50L968.20 127.78L968.70 118.96L969.70 96.25L971.45 63.85L971.95 56.99L972.20 54.71L972.45 53.41L972.70 53.15L972.95 53.72L973.20 54.98L973.70 59.09L975.70 80.37L978.45 111.75L979.95 126.05L980.45 130.11L980.95 133.33L981.45 135.43L981.95 136.90L982.70 138.45L982.95 138.81L983.45 139.32L983.70 139.48L984.20 139.66L985.70 139.83L986.20 139.81L986.70 139.63L986.95 139.44L987.45 138.82L987.70 138.36L988.20 137.10L988.45 136.27L988.95 134.03L989.20 131.96L989.70 125.48L990.45 110.90L990.95 97.79L991.70 61.99L991.95 53.62L992.45 45.81L992.95 40.81L993.20 39.19L993.45 38.08L993.70 37.42L993.95 37.17L994.20 37.49L994.45 38.73L994.95 43.15L995.95 54.17L996.95 67.04L997.45 72.04L997.95 75.21L998.45 77.75L998.70 78.70L998.95 79.37L999.20 79.72L999.45 79.73L999.70 79.43L999.95 78.94L1000.20 78.29L1000.70 76.60L1001.45 73.29L1002.95 65.69L1003.70 62.34L1005.95 53.80L1006.70 51.36L1007.20 49.99L1007.95 48.36L1008.70 46.98L1009.45 45.96L1009.95 45.55L1010.45 45.41L1010.95 45.56L1011.45 46.08L1011.95 47.17L1012.45 49.04L1012.70 50.33L1012.95 51.91L1013.20 54.26L1014.45 76.53L1014.70 79.23L1015.20 83.39L1015.45 85.09L1015.95 87.77L1016.45 89.49L1016.70 90.00L1017.20 90.70L1017.45 90.94L1017.95 91.24L1019.45 91.58L1019.95 91.80L1020.45 92.24L1021.20 93.39L1022.20 95.63L1023.95 100.29L1024.95 102.67L1026.20 105.10L1028.95 110.00L1030.45 113.13L1032.45 118.08L1033.95 122.58L1035.20 127.24L1036.20 131.81L1037.20 137.53L1037.95 142.79L1038.45 147.24L1039.70 162.81L1040.45 170.97L1041.20 178.10L1041.70 181.44L1041.95 182.59L1042.45 184.40L1042.70 185.06L1043.20 185.95L1043.45 186.19L1044.95 187.20L1045.95 187.79L1046.70 188.07L1047.45 188.13L1048.20 187.89L1048.95 187.28L1049.20 185.37L1049.70 175.29L1049.95 172.82L1050.20 171.01L1050.70 168.31L1050.95 167.35L1051.45 166.02L1051.95 165.05L1052.70 163.98L1053.20 163.48L1053.95 162.96L1054.70 162.64L1055.20 162.56L1055.70 162.56L1057.45 162.74L1058.20 162.67L1058.70 162.50L1059.20 162.17L1059.70 161.49L1060.20 160.44L1060.70 159.12L1062.45 153.95L1064.95 145.82L1065.70 143.59L1067.70 138.54L1068.45 137.01L1068.95 136.30L1069.45 135.94L1069.70 135.91L1069.95 136.04L1070.20 136.35L1070.45 136.82L1070.95 138.16L1071.70 140.89L1072.45 144.10L1072.95 147.28L1073.95 154.71L1074.45 157.34L1074.70 158.03L1074.95 158.28L1075.20 158.17L1075.45 157.67L1075.70 156.79L1075.95 155.48L1076.20 153.75L1076.45 151.18L1076.70 147.47L1077.20 137.22L1077.45 130.71L1077.70 118.19L1077.95 110.84L1078.20 108.62L1078.70 105.17L1078.95 103.85L1079.45 101.84L1079.95 100.38L1081.20 97.21L1081.95 95.71L1083.95 92.83L1084.45 91.87L1084.95 90.63L1085.95 87.14L1088.20 78.03L1089.70 71.58L1090.20 69.88L1090.45 69.24L1090.70 68.78L1090.95 68.53L1091.20 68.51L1091.45 68.70L1091.70 69.13L1092.20 70.68L1092.70 73.22L1093.20 77.03L1093.70 83.79L1094.70 100.23L1095.70 113.81L1096.20 119.43L1096.45 121.08L1096.70 121.61L1096.95 120.93L1097.20 119.27L1097.45 116.87L1098.70 101.69L1099.70 92.60L1100.20 89.33L1100.45 88.43L1100.95 87.17L1101.20 86.78L1101.45 86.58L1101.70 86.57L1101.95 86.77L1102.20 87.29L1102.45 88.15L1102.95 90.56L1103.95 96.35L1105.20 105.40L1105.45 106.85L1105.70 107.85L1105.95 108.38L1106.45 109.10L1106.95 109.51L1107.45 109.70L1108.20 109.71L1109.45 109.51L1110.20 109.31L1110.95 108.95L1111.45 108.58L1111.95 108.08L1112.45 107.44L1112.95 106.60L1113.45 105.26L1113.95 103.33L1114.70 99.38L1115.20 96.03L1115.45 93.48L1116.20 83.86L1116.45 81.24L1116.70 79.45L1117.20 76.98L1117.45 76.23L1117.70 75.88L1117.95 75.95L1118.20 76.27L1118.45 76.76L1118.70 77.47L1118.95 78.45L1119.45 81.38L1119.70 83.42L1119.95 86.26L1120.20 91.03L1120.95 109.13L1121.20 113.48L1121.45 115.90L1121.70 117.57L1121.95 118.72L1122.20 119.47L1122.45 119.89L1122.70 120.08L1123.20 120.17L1123.70 120.14L1124.45 119.96L1126.95 118.84L1127.95 118.55L1128.45 118.51L1128.95 118.56L1129.70 118.90L1130.20 119.31L1130.95 120.14L1133.70 124.13L1136.70 127.86L1137.70 129.47L1138.45 131.00L1138.95 132.41L1139.70 135.38L1140.45 139.10L1140.95 141.96L1141.45 145.59L1142.45 154.17L1143.70 167.03L1144.20 169.79L1144.45 170.65L1144.70 171.18L1144.95 171.37L1145.20 171.19L1145.45 170.75L1145.95 169.28L1146.95 164.91L1147.70 160.90L1148.70 154.33L1149.70 146.83L1151.95 127.71L1152.20 126.01L1152.70 123.39L1153.45 120.46L1153.95 119.06L1154.45 118.06L1155.20 117.15L1155.95 116.54L1156.95 116.06L1158.45 115.72L1159.70 115.63L1161.20 115.74L1161.20 589.6Z" fill="#f4a9c4"/>
<path d="M93.20 589.6L93.20 376.29L97.95 364.28L105.20 346.28L106.45 343.47L107.70 340.91L108.95 338.70L109.95 337.27L110.95 336.24L112.95 334.88L114.70 334.01L116.45 333.47L117.70 333.28L118.70 333.30L119.95 333.48L122.45 334.01L123.70 334.16L124.70 334.14L125.70 333.93L126.45 333.62L126.95 333.25L127.20 332.98L127.70 332.23L128.20 331.16L128.70 329.70L129.20 327.81L129.70 325.41L130.20 322.32L130.95 314.65L132.45 293.94L133.20 284.85L133.70 280.61L133.95 279.24L134.20 278.37L134.45 277.89L134.70 277.71L134.95 277.76L135.70 278.39L136.20 279.14L136.95 280.84L138.70 285.82L139.45 287.66L139.95 288.56L140.20 288.88L140.45 289.09L140.70 289.19L140.95 289.15L141.20 288.86L141.70 287.68L142.20 285.90L143.45 280.58L143.95 278.78L144.45 277.58L144.95 276.90L145.45 276.39L146.20 275.90L146.95 275.67L147.70 275.66L148.95 275.88L149.70 276.12L150.45 276.59L151.20 277.40L151.70 278.20L152.20 279.24L152.70 280.63L152.95 281.64L153.45 284.31L153.95 287.63L155.45 299.07L156.20 304.10L156.70 306.64L156.95 307.58L157.20 308.25L157.45 308.63L157.70 308.68L157.95 308.41L158.20 307.83L158.45 306.99L158.95 304.63L159.70 299.83L161.45 286.98L161.95 283.98L162.45 281.70L162.95 280.17L163.70 278.23L164.45 276.65L165.20 275.40L165.95 274.50L166.70 273.94L167.45 273.71L167.70 273.71L167.95 273.89L168.20 274.27L168.45 274.88L168.95 276.86L169.45 280.01L169.70 282.10L169.95 284.88L170.45 292.23L171.70 314.52L172.20 322.09L172.70 327.22L172.95 328.52L173.20 329.10L173.45 329.49L173.70 329.72L173.95 329.81L174.20 329.77L174.45 329.60L174.70 329.33L175.20 328.48L175.70 327.33L176.20 325.94L178.20 319.88L179.20 317.55L179.70 316.20L181.45 310.72L182.20 308.61L182.70 307.47L183.20 306.65L183.45 306.38L183.70 306.22L183.95 306.17L184.20 306.27L184.45 306.55L184.70 307.00L185.20 308.30L185.95 311.03L187.45 317.48L187.95 319.38L188.45 320.93L188.95 322.00L189.95 323.79L190.95 325.42L191.95 326.78L192.70 327.57L193.45 328.12L194.20 328.38L194.95 328.32L195.45 328.05L195.70 327.84L196.45 326.86L196.95 325.92L197.45 324.76L197.95 323.36L198.70 320.84L199.20 318.86L200.20 314.15L200.70 310.87L201.20 306.88L203.70 282.65L204.70 274.46L205.95 267.02L206.95 261.65L207.70 258.20L208.45 255.47L208.95 254.15L209.20 253.67L209.45 253.31L209.70 253.08L209.95 253.00L210.20 253.10L210.45 253.47L210.70 254.08L211.20 255.90L211.70 258.33L213.70 269.77L214.20 271.92L214.70 273.35L214.95 273.72L215.20 273.91L215.70 274.15L216.20 274.24L216.95 274.10L217.45 273.84L217.95 273.44L218.45 272.92L218.95 272.27L219.95 270.61L220.95 268.51L221.45 267.30L221.70 266.51L222.20 264.29L222.70 261.38L224.70 246.99L225.45 242.29L225.95 239.91L226.20 239.03L226.45 238.39L226.70 238.01L226.95 237.91L227.20 238.08L227.45 238.46L227.70 239.05L227.95 239.82L228.45 241.87L229.45 247.48L231.45 260.96L232.20 265.41L234.45 276.32L235.20 279.63L235.95 282.31L236.45 283.58L236.70 284.02L236.95 284.33L237.45 284.59L237.70 284.61L238.20 284.46L238.95 283.86L240.70 281.75L241.45 281.00L241.95 280.70L242.20 280.63L242.70 280.69L243.20 281.08L243.95 282.19L244.70 283.74L246.20 287.20L246.95 288.65L247.45 289.36L247.70 289.60L247.95 289.77L248.20 289.84L248.45 289.82L248.70 289.65L248.95 289.32L249.20 288.86L249.70 287.59L250.20 285.98L251.70 280.49L252.45 278.24L252.95 277.24L253.20 276.94L253.45 276.80L253.95 276.78L254.20 276.85L254.70 277.16L255.20 277.65L255.70 278.28L256.45 279.44L258.20 282.49L258.95 283.68L259.70 284.63L261.20 286.19L261.95 287.10L262.70 288.29L263.20 289.32L263.70 290.58L264.20 292.12L264.70 294.03L264.95 295.51L265.45 299.80L266.95 316.68L267.45 321.22L268.45 327.34L268.95 329.85L269.45 331.94L269.95 333.56L270.20 334.18L270.70 334.99L271.20 335.47L271.70 335.74L272.20 335.85L272.70 335.86L274.20 335.67L274.95 335.73L275.70 336.10L276.20 336.59L276.45 336.93L276.70 337.48L276.95 338.28L277.45 340.44L278.95 348.94L279.45 351.45L279.95 353.31L280.20 353.89L280.45 354.21L280.70 354.23L280.95 354.08L281.45 353.41L281.95 352.32L282.70 350.04L283.70 346.14L285.70 337.49L286.95 332.71L289.20 322.56L289.70 320.77L290.20 319.42L290.45 318.95L290.70 318.64L290.95 318.51L291.20 318.50L291.45 318.58L291.70 318.74L292.20 319.28L292.70 320.09L293.45 321.70L294.45 324.33L296.95 331.44L297.70 334.20L299.45 341.27L300.20 343.78L300.70 345.03L301.20 345.82L301.70 346.17L302.45 346.45L303.20 346.52L303.95 346.40L304.70 346.08L305.45 345.57L306.20 344.88L306.95 344.00L307.95 342.57L308.45 341.62L308.70 340.82L309.20 338.62L310.95 328.21L311.45 325.62L311.95 323.72L312.20 323.11L312.45 322.77L312.70 322.75L312.95 323.05L313.20 323.65L313.45 324.52L313.95 326.93L314.70 331.81L316.45 344.82L317.20 349.13L317.70 350.98L317.95 351.50L318.20 351.72L318.45 351.68L318.70 351.46L318.95 351.07L319.45 349.83L320.20 347.02L320.95 343.37L322.95 332.17L323.70 328.40L326.95 314.16L328.20 309.42L328.95 307.20L329.20 306.61L329.70 305.79L329.95 305.52L330.45 305.21L331.45 304.92L331.95 304.67L332.45 304.17L332.70 303.79L333.20 302.66L333.45 301.87L333.95 299.80L334.20 298.22L334.45 295.77L334.95 288.66L335.70 274.32L336.70 252.66L337.95 218.21L339.45 182.17L340.20 168.16L340.70 162.61L341.20 158.22L341.95 152.56L342.45 149.32L343.20 145.11L344.45 139.35L347.20 128.64L347.95 126.28L348.45 124.97L348.95 123.90L349.45 123.08L349.95 122.54L350.95 121.90L351.95 121.46L352.70 121.28L353.45 121.25L354.20 121.38L354.95 121.67L355.70 122.09L356.45 122.09L356.70 122.24L356.95 122.62L357.20 123.29L357.45 124.36L357.70 125.89L358.20 130.71L358.45 134.79L358.70 142.36L359.70 189.46L360.45 220.25L360.95 237.92L361.20 242.15L361.45 242.05L361.70 239.95L361.95 236.44L362.45 226.42L363.45 203.21L364.95 178.94L365.45 172.42L365.70 170.00L365.95 168.33L366.20 167.55L366.45 167.74L366.70 168.73L367.20 172.61L367.70 178.37L369.20 198.74L370.70 215.82L371.20 220.82L371.45 222.68L371.70 223.95L371.95 224.52L372.20 224.21L372.45 223.01L372.70 221.07L373.95 206.83L374.45 202.35L375.20 197.99L375.70 195.50L376.20 193.63L376.45 193.00L376.70 192.63L376.95 192.53L377.20 192.70L377.45 193.03L377.95 194.12L378.70 196.56L380.45 203.69L380.95 205.50L381.70 207.54L381.95 207.98L382.20 208.26L382.45 208.37L382.70 208.30L382.95 208.05L383.20 207.64L383.45 207.08L383.95 205.59L384.70 202.68L386.20 196.18L386.95 193.52L387.45 192.28L387.70 191.87L387.95 191.63L388.20 191.61L388.45 191.87L388.70 192.39L388.95 193.16L389.45 195.35L390.20 199.95L390.70 203.80L391.20 209.36L392.45 226.86L393.95 246.64L394.45 251.75L395.70 260.68L396.45 265.27L397.20 269.29L398.20 273.77L398.95 276.46L399.45 277.87L400.20 279.46L400.70 280.28L402.20 282.44L402.95 283.80L403.70 285.70L404.45 288.49L404.95 290.96L405.45 293.88L406.45 301.04L407.45 313.91L407.70 316.34L407.95 317.65L408.45 318.19L408.95 318.50L409.45 318.64L409.95 318.65L410.45 318.53L410.95 318.34L412.95 317.20L413.95 316.79L414.45 316.73L414.95 316.79L415.20 316.90L415.45 317.15L415.95 317.98L416.45 319.17L417.70 323.06L418.20 325.51L419.45 332.72L419.95 334.70L420.20 335.24L420.45 335.39L420.70 335.01L420.95 333.92L421.20 332.22L421.70 327.39L422.45 318.07L422.95 309.60L423.95 287.68L424.20 283.56L424.45 280.81L424.70 279.36L424.95 278.36L425.20 277.72L425.45 277.37L425.70 277.24L425.95 277.26L426.70 277.58L427.45 277.40L427.95 277.53L428.95 277.96L429.45 277.93L429.70 277.78L429.95 277.52L430.20 277.11L430.45 276.55L430.70 275.67L431.20 272.30L431.70 267.40L432.70 255.89L435.45 226.20L437.70 205.40L439.20 193.25L440.20 186.71L441.70 178.77L442.95 173.13L445.95 160.58L447.45 153.39L447.95 150.44L448.45 146.87L450.20 133.03L450.70 129.72L451.20 127.17L451.45 126.25L451.70 125.61L451.95 125.28L452.20 125.40L452.45 126.16L452.70 127.46L453.20 131.31L454.70 146.08L456.70 161.08L457.20 163.86L457.45 164.80L457.70 165.36L457.95 165.49L458.45 164.87L458.95 163.79L459.70 161.44L460.20 159.45L460.95 155.97L461.95 150.65L464.20 137.86L466.70 124.77L470.20 105.17L471.45 98.74L472.70 93.06L473.45 90.07L474.20 87.38L474.95 85.07L475.70 83.17L476.45 81.72L477.20 80.66L477.95 79.93L478.70 79.53L479.20 79.46L480.20 79.66L480.70 80.02L480.95 80.38L481.45 81.60L481.70 82.53L482.20 85.26L482.45 87.32L482.95 92.64L484.45 112.56L484.95 118.38L486.45 133.05L487.95 146.72L489.70 161.30L491.95 178.25L492.70 183.05L493.20 185.79L493.70 188.07L494.20 189.86L494.70 191.27L495.45 192.82L495.95 193.55L496.45 194.13L496.95 194.60L497.45 194.96L498.20 195.24L499.95 195.49L503.45 196.48L503.95 196.75L504.95 197.66L505.45 197.92L505.70 197.91L505.95 197.78L506.20 197.50L506.45 197.00L506.70 196.08L507.20 193.19L508.45 183.52L509.20 178.45L510.45 169.17L510.95 166.64L511.20 165.93L511.45 165.68L511.70 165.99L511.95 166.82L512.45 169.74L513.95 182.52L514.45 185.89L515.45 190.63L516.20 193.58L516.70 195.25L517.20 196.65L517.95 198.24L518.70 199.31L520.45 201.02L521.20 201.92L521.95 203.24L522.45 204.41L523.45 207.33L524.45 210.82L526.70 219.71L527.20 221.91L527.95 226.42L528.45 230.68L530.45 252.47L531.20 259.53L531.95 265.06L532.95 271.53L533.95 276.94L534.70 280.28L535.45 283.03L536.20 285.44L536.95 287.58L537.95 290.11L541.70 298.41L544.45 305.33L545.70 308.24L546.45 309.74L546.95 310.60L547.45 311.31L547.95 311.87L548.45 312.25L548.70 312.37L548.95 312.38L549.20 312.08L549.45 311.47L549.95 309.57L551.45 301.53L551.70 299.86L552.95 289.32L553.45 285.66L553.70 284.29L553.95 283.33L554.20 282.88L554.45 283.03L554.70 283.90L555.20 287.36L556.70 302.55L558.45 314.85L558.95 317.69L559.45 319.64L559.70 320.16L559.95 320.32L560.20 320.12L560.45 319.63L560.95 317.88L561.70 313.84L563.20 303.56L564.45 295.74L565.95 285.45L566.70 280.89L567.45 277.44L568.20 275.20L568.70 274.18L568.95 273.83L569.20 273.58L569.45 273.44L569.70 273.42L569.95 273.51L570.20 273.75L570.45 274.15L570.70 274.70L571.20 276.16L572.70 281.71L573.45 284.01L573.70 284.55L574.20 285.36L575.20 286.69L575.70 287.19L576.20 287.55L576.70 287.75L576.95 287.79L577.45 287.73L577.95 287.49L578.45 287.12L578.95 286.61L579.45 285.94L579.95 285.11L580.70 283.51L581.45 281.48L582.20 278.88L582.95 274.28L584.95 257.92L585.45 254.90L585.70 253.81L585.95 253.06L586.20 252.70L586.45 252.79L586.70 253.49L587.20 256.40L587.70 260.81L588.95 274.19L589.45 278.81L590.95 288.85L591.45 291.09L591.70 291.72L591.95 291.95L592.20 291.82L592.45 291.56L592.95 290.70L593.45 289.45L594.20 287.03L596.20 279.56L596.70 277.93L597.20 276.57L598.95 273.19L599.70 271.93L600.45 270.84L601.20 269.97L601.95 269.37L602.70 269.09L603.20 269.13L603.70 269.49L604.20 270.21L604.70 271.28L605.45 273.55L605.95 275.49L606.45 277.80L607.20 282.30L607.95 287.95L608.95 296.79L610.20 309.16L610.70 315.30L612.20 335.98L612.70 341.75L613.20 346.12L614.20 352.75L615.20 357.68L616.95 364.39L617.45 365.86L617.70 366.35L617.95 366.61L618.20 366.59L618.45 366.26L618.70 365.63L619.20 363.64L620.95 353.65L622.95 344.37L623.45 342.75L623.70 342.24L623.95 341.99L624.20 341.97L624.45 342.13L624.70 342.44L625.20 343.40L626.95 348.25L627.45 349.36L628.20 350.64L629.70 352.90L631.45 355.09L632.20 355.77L633.95 357.06L634.45 357.54L634.95 358.14L635.45 358.94L635.95 359.97L638.20 365.69L638.95 367.32L639.45 368.15L639.95 368.69L640.20 368.83L640.45 368.88L640.70 368.80L640.95 368.54L641.20 368.10L641.45 367.51L641.95 365.91L642.70 362.69L643.70 357.42L644.20 354.32L644.70 350.43L646.45 334.53L647.20 328.69L647.95 324.37L648.70 320.61L649.20 318.57L649.70 317.10L649.95 316.63L650.20 316.36L650.45 316.31L650.70 316.55L650.95 317.15L651.20 318.06L651.70 320.57L653.20 329.58L653.70 331.56L653.95 332.16L654.95 334.10L655.95 335.50L656.45 336.00L656.95 336.38L657.45 336.63L658.20 336.79L658.70 336.74L659.20 336.52L659.70 336.14L660.20 335.62L661.20 334.21L662.45 331.88L662.95 330.61L663.45 328.86L665.20 321.31L665.95 318.60L666.45 317.36L666.70 316.98L666.95 316.78L667.20 316.76L667.45 316.87L667.95 317.47L668.70 319.12L669.45 321.43L671.45 328.57L672.45 332.63L674.20 340.80L675.20 345.07L676.45 350.83L676.95 352.45L677.20 352.90L677.45 353.04L677.70 352.91L677.95 352.65L678.45 351.84L678.95 350.68L679.70 348.46L681.95 340.77L683.20 337.31L685.20 331.41L685.95 329.42L686.45 328.28L687.20 326.96L687.70 326.40L687.95 326.22L688.70 326.01L689.20 326.02L689.70 326.12L690.45 326.45L691.20 326.92L693.70 328.88L694.70 329.53L696.20 330.21L699.95 331.67L701.45 332.37L703.70 333.75L704.45 334.34L704.95 334.83L705.95 336.10L706.45 336.95L706.70 337.55L707.20 339.11L708.45 343.82L708.95 345.47L709.45 346.65L709.70 347.00L709.95 347.15L710.20 347.12L710.45 346.95L710.70 346.67L711.20 345.82L711.95 344.01L713.70 339.07L714.45 337.47L714.95 336.82L715.20 336.67L715.45 336.64L715.70 336.76L715.95 337.04L716.20 337.48L716.95 339.54L717.70 342.39L719.45 349.76L722.70 360.81L723.45 362.97L723.95 364.11L724.45 364.95L724.95 365.41L725.20 365.49L725.70 365.46L725.95 365.34L726.45 364.97L727.20 364.10L729.20 361.15L729.95 360.25L730.70 359.70L731.20 359.61L731.45 359.68L731.95 360.13L732.70 361.47L734.70 366.59L735.45 368.16L735.95 368.84L736.20 369.04L736.45 369.12L736.95 368.99L737.20 368.83L737.70 368.32L738.45 367.20L739.20 365.76L741.70 360.42L742.20 359.56L744.70 355.82L745.70 354.55L746.45 353.90L746.95 353.65L747.20 353.60L747.70 353.65L748.20 353.88L748.70 354.28L749.20 354.83L749.95 355.92L750.45 356.81L751.20 358.37L751.95 360.16L752.70 362.21L753.45 365.39L755.70 377.78L756.20 379.84L756.45 380.62L756.70 381.20L756.95 381.56L757.45 381.90L758.20 382.19L758.95 382.26L759.70 382.15L760.45 381.90L761.20 381.54L763.70 380.04L764.95 379.42L765.95 379.14L767.20 379.13L767.95 379.25L768.95 379.51L771.45 380.51L771.95 380.93L773.20 382.47L773.70 382.98L774.20 383.27L774.45 383.29L774.70 383.22L774.95 383.04L775.20 382.71L775.45 382.22L775.95 380.78L776.70 377.74L779.70 362.03L781.45 352.04L782.95 342.61L784.20 334.02L787.20 309.27L788.70 297.93L789.45 293.17L789.95 291.05L790.20 290.37L790.70 289.35L790.95 288.98L791.45 288.46L792.70 287.70L793.20 287.30L793.70 286.68L793.95 286.24L794.45 285.04L794.70 284.22L795.45 280.48L796.20 275.35L798.20 259.65L800.20 242.17L801.45 230.06L802.95 211.53L803.45 206.18L803.70 204.06L804.20 200.73L804.70 197.80L805.20 195.41L805.70 193.75L805.95 193.24L806.20 192.98L806.45 192.99L806.70 193.33L806.95 194.05L807.20 195.11L807.95 199.74L808.95 207.38L809.70 212.54L810.95 223.65L811.45 227.58L811.70 229.05L811.95 230.05L812.20 230.48L812.45 230.26L812.70 228.75L812.95 225.12L813.45 213.48L814.20 192.93L815.95 157.92L816.70 146.65L816.95 144.25L817.20 142.74L817.45 142.23L817.70 142.67L817.95 143.91L818.20 145.78L819.45 159.31L819.95 163.76L821.45 173.47L821.95 175.66L822.20 176.33L822.45 176.65L822.70 176.62L822.95 176.38L823.45 175.34L823.95 173.77L825.70 167.11L826.20 165.76L827.20 163.93L827.70 163.25L827.95 163.02L828.20 162.90L828.45 162.89L828.70 163.02L828.95 163.32L829.45 164.58L830.20 167.82L831.45 175.38L832.20 181.67L833.70 196.12L834.45 201.63L835.45 206.88L836.20 210.37L836.95 213.29L837.70 215.48L838.20 216.43L838.45 216.74L838.70 216.93L838.95 216.97L839.20 216.78L839.45 216.37L839.70 215.78L840.20 214.17L841.95 207.26L842.45 205.92L842.95 205.00L843.45 204.24L843.70 203.98L843.95 203.84L844.20 203.84L844.45 204.01L844.70 204.35L845.20 205.55L845.70 207.37L846.20 209.76L846.70 212.66L847.20 216.09L847.70 220.69L849.20 237.52L849.70 242.36L851.20 253.05L852.20 259.60L853.20 265.05L853.70 267.16L854.20 268.75L854.70 269.74L854.95 269.98L855.20 270.00L855.45 269.72L855.70 269.13L855.95 268.25L856.45 265.60L857.20 259.51L857.95 250.97L858.45 242.76L859.20 224.72L863.95 91.94L864.70 75.22L864.95 71.73L865.20 69.34L865.70 65.73L866.20 63.34L866.45 62.49L866.95 61.26L867.70 59.93L868.95 57.46L869.45 56.68L869.95 56.14L870.45 55.91L870.70 55.93L871.70 56.46L871.95 56.71L872.20 57.19L872.45 57.99L872.70 59.19L872.95 60.91L873.45 66.26L873.70 71.55L873.95 81.19L874.70 118.54L874.95 127.70L875.45 139.04L875.95 147.79L876.20 151.25L876.70 156.39L876.95 158.10L877.45 160.48L877.95 162.27L878.45 163.59L879.20 164.94L880.70 166.71L881.45 167.88L882.20 169.49L884.20 174.37L884.70 175.35L885.20 176.10L885.70 176.55L885.95 176.64L886.20 176.62L886.45 176.50L886.70 176.26L886.95 175.89L887.20 175.14L887.45 173.57L887.70 171.25L888.20 164.77L889.45 142.52L889.70 136.91L890.45 112.77L890.70 106.35L890.95 102.23L891.45 95.74L891.70 93.28L891.95 91.43L892.20 90.24L892.45 89.80L892.70 90.20L892.95 91.49L893.20 93.47L894.45 106.73L896.20 121.83L897.20 129.60L898.45 137.41L899.45 142.92L900.45 147.64L901.45 151.40L901.95 152.81L902.45 153.68L902.70 153.86L902.95 153.83L903.20 153.60L903.45 153.20L903.95 152.04L905.95 145.70L907.45 142.21L907.95 141.32L908.20 141.08L908.45 141.01L908.70 141.17L908.95 141.67L909.20 142.84L909.45 144.56L910.70 155.56L912.20 165.67L912.95 169.87L913.45 171.63L913.70 172.09L913.95 172.25L914.20 172.26L914.45 172.16L914.95 171.67L915.70 170.40L917.45 166.73L917.95 165.95L918.20 165.68L918.45 165.49L918.70 165.40L918.95 165.43L919.20 165.55L919.70 166.04L920.45 167.35L921.20 169.21L922.20 172.31L922.70 174.23L922.95 175.83L924.20 185.97L924.45 187.23L924.70 187.82L924.95 187.58L925.20 186.14L925.45 183.15L925.95 173.83L926.95 150.90L927.45 142.54L928.20 135.00L928.70 131.07L929.20 128.27L929.45 127.36L929.70 126.82L929.95 126.68L930.20 127.10L930.45 128.32L930.95 132.47L931.95 143.07L932.45 146.87L933.20 149.96L933.95 152.01L934.20 152.47L934.70 153.08L934.95 153.22L935.45 153.33L935.95 153.33L936.70 153.19L939.20 152.22L940.20 151.99L940.70 151.98L941.20 152.07L941.70 152.30L942.20 152.72L942.95 153.62L943.70 154.78L946.70 160.22L947.45 161.92L949.45 167.00L950.20 168.56L950.95 169.62L951.45 169.95L951.70 169.99L951.95 169.93L952.20 169.56L952.45 168.56L952.95 165.12L953.95 156.05L954.45 152.45L955.70 146.44L956.20 144.64L956.70 143.45L956.95 143.14L957.20 142.99L957.45 142.92L957.95 142.95L958.70 143.33L959.95 144.33L960.70 144.80L961.20 144.92L962.45 144.90L963.20 144.80L963.95 144.48L964.70 143.83L965.20 143.17L965.70 142.35L966.20 141.23L966.70 139.60L967.20 137.25L967.70 134.01L968.20 129.29L968.70 120.47L969.70 97.76L971.45 65.37L971.95 58.51L972.20 56.23L972.45 54.93L972.70 54.67L972.95 55.23L973.20 56.49L973.70 60.60L975.70 81.89L978.45 113.28L979.95 127.57L980.45 131.63L980.95 134.85L981.45 136.95L981.95 138.43L982.70 139.97L982.95 140.33L983.45 140.84L983.70 141.01L984.20 141.18L985.70 141.35L986.20 141.34L986.70 141.16L986.95 140.97L987.45 140.35L987.70 139.89L988.20 138.63L988.45 137.80L988.95 135.56L989.20 133.49L989.70 127.02L990.45 112.43L990.95 99.32L991.70 63.52L991.95 55.16L992.45 47.34L992.95 42.34L993.20 40.72L993.45 39.61L993.70 38.96L993.95 38.71L994.20 39.03L994.45 40.27L994.95 44.68L995.95 55.71L996.95 68.58L997.45 73.58L997.95 76.75L998.45 79.30L998.70 80.24L998.95 80.91L999.20 81.27L999.45 81.28L999.70 80.97L999.95 80.48L1000.20 79.84L1000.70 78.14L1001.45 74.83L1002.95 67.23L1003.70 63.88L1005.95 55.35L1006.70 52.91L1007.20 51.54L1007.95 49.91L1008.70 48.53L1009.45 47.51L1009.95 47.10L1010.45 46.96L1010.95 47.12L1011.45 47.63L1011.95 48.72L1012.45 50.59L1012.70 51.89L1012.95 53.46L1013.20 55.81L1014.45 78.08L1014.70 80.79L1015.20 84.94L1015.45 86.65L1015.95 89.33L1016.45 91.04L1016.70 91.56L1017.20 92.26L1017.45 92.50L1017.95 92.80L1019.45 93.13L1019.95 93.36L1020.45 93.79L1021.20 94.95L1022.20 97.19L1023.95 101.86L1024.95 104.23L1026.20 106.66L1028.95 111.57L1030.45 114.70L1032.45 119.65L1033.95 124.15L1035.20 128.81L1036.20 133.38L1037.20 139.10L1037.95 144.36L1038.45 148.81L1039.70 164.38L1040.45 172.55L1041.20 179.67L1041.70 183.01L1041.95 184.16L1042.45 185.97L1042.70 186.63L1043.20 187.53L1043.45 187.77L1044.95 188.77L1045.95 189.36L1046.70 189.64L1047.45 189.70L1048.20 189.46L1048.95 188.85L1049.20 186.94L1049.70 176.87L1049.95 174.39L1050.20 172.59L1050.70 169.88L1050.95 168.92L1051.45 167.60L1051.95 166.63L1052.70 165.56L1053.20 165.06L1053.95 164.54L1054.70 164.22L1055.20 164.14L1055.70 164.14L1057.45 164.32L1058.20 164.25L1058.70 164.08L1059.20 163.75L1059.70 163.07L1060.20 162.02L1060.70 160.70L1062.45 155.53L1064.95 147.40L1065.70 145.17L1067.70 140.12L1068.45 138.59L1068.95 137.89L1069.45 137.53L1069.70 137.50L1069.95 137.63L1070.20 137.93L1070.45 138.40L1070.95 139.74L1071.70 142.48L1072.45 145.69L1072.95 148.86L1073.95 156.29L1074.45 158.92L1074.70 159.61L1074.95 159.86L1075.20 159.75L1075.45 159.26L1075.70 158.37L1075.95 157.07L1076.20 155.34L1076.45 152.77L1076.70 149.05L1077.20 138.81L1077.45 132.30L1077.70 119.78L1077.95 112.42L1078.20 110.21L1078.70 106.76L1078.95 105.44L1079.45 103.43L1079.95 101.97L1081.20 98.80L1081.95 97.30L1083.95 94.42L1084.45 93.46L1084.95 92.22L1085.95 88.73L1088.20 79.62L1089.70 73.17L1090.20 71.47L1090.45 70.83L1090.70 70.37L1090.95 70.12L1091.20 70.10L1091.45 70.29L1091.70 70.72L1092.20 72.28L1092.70 74.81L1093.20 78.62L1093.70 85.38L1094.70 101.83L1095.70 115.41L1096.20 121.02L1096.45 122.67L1096.70 123.20L1096.95 122.52L1097.20 120.87L1097.45 118.47L1098.70 103.28L1099.70 94.20L1100.20 90.93L1100.45 90.03L1100.95 88.76L1101.20 88.38L1101.45 88.17L1101.70 88.16L1101.95 88.36L1102.20 88.89L1102.45 89.74L1102.95 92.16L1103.95 97.94L1105.20 107.00L1105.45 108.44L1105.70 109.45L1105.95 109.98L1106.45 110.69L1106.95 111.11L1107.45 111.30L1108.20 111.31L1109.45 111.11L1110.20 110.91L1110.95 110.54L1111.45 110.17L1111.95 109.68L1112.45 109.03L1112.95 108.20L1113.45 106.86L1113.95 104.92L1114.70 100.98L1115.20 97.62L1115.45 95.08L1116.20 85.45L1116.45 82.83L1116.70 81.05L1117.20 78.58L1117.45 77.83L1117.70 77.47L1117.95 77.55L1118.20 77.86L1118.45 78.36L1118.70 79.07L1118.95 80.05L1119.45 82.98L1119.70 85.02L1119.95 87.86L1120.20 92.63L1120.95 110.73L1121.20 115.07L1121.45 117.50L1121.70 119.16L1121.95 120.32L1122.20 121.06L1122.45 121.48L1122.70 121.68L1123.20 121.76L1123.70 121.74L1124.45 121.56L1126.95 120.44L1127.95 120.15L1128.45 120.11L1128.95 120.16L1129.70 120.49L1130.20 120.90L1130.95 121.74L1133.70 125.73L1136.70 129.45L1137.70 131.06L1138.45 132.59L1138.95 134.01L1139.70 136.98L1140.45 140.70L1140.95 143.56L1141.45 147.19L1142.45 155.77L1143.70 168.63L1144.20 171.39L1144.45 172.25L1144.70 172.78L1144.95 172.97L1145.20 172.79L1145.45 172.35L1145.95 170.88L1146.95 166.51L1147.70 162.50L1148.70 155.93L1149.70 148.43L1151.95 129.31L1152.20 127.61L1152.70 124.99L1153.45 122.06L1153.95 120.66L1154.45 119.66L1155.20 118.75L1155.95 118.14L1156.95 117.66L1158.45 117.32L1159.70 117.23L1161.20 117.34L1161.20 589.6Z" fill="#93552b"/>
<path d="M940.20 151.20L940.95 151.21L941.70 151.49L942.45 152.16L943.20 153.15L944.20 154.80L946.70 159.33L947.45 161.02L949.45 166.07L950.20 167.62L950.70 168.39L951.20 168.88L951.70 169.04L951.95 168.97L952.20 168.61L952.45 167.60L952.70 166.08L953.95 155.08L954.45 151.47L955.70 145.46L956.20 143.66L956.70 142.46L956.95 142.15L957.20 142.00L957.45 141.92L957.95 141.95L958.70 142.34L960.20 143.51L960.95 143.88L962.45 143.90L963.45 143.72L964.20 143.30L964.95 142.52L965.70 141.35L966.45 139.48L966.95 137.52L967.45 134.75L967.95 130.97L968.20 128.28L968.70 119.46L969.70 96.75L971.45 64.35L971.95 57.49L972.20 55.21L972.45 53.91L972.70 53.65L972.95 54.22L973.20 55.48L973.70 59.59L975.70 80.87L978.45 112.25L979.95 126.55L980.45 130.61L980.95 133.83L981.45 135.93L981.95 137.40L982.70 138.95L983.45 139.82L984.20 140.16L985.70 140.33L986.20 140.31L986.70 140.13L986.95 139.94L987.45 139.32L987.70 138.86L988.45 136.77L988.95 134.53L989.20 132.46L989.70 125.98L990.45 111.40L990.95 98.29L991.70 62.49L991.95 54.12L992.45 46.31L992.95 41.31L993.45 38.58L993.70 37.92L993.95 37.67L994.20 37.99L994.45 39.23L994.95 43.65L995.95 54.67L996.95 67.54L997.45 72.54L997.95 75.71L998.45 78.25L998.95 79.87L999.20 80.22L999.45 80.23L999.95 79.44L1000.70 77.10L1001.45 73.79L1002.95 66.19L1003.70 62.84L1005.95 54.30L1007.20 50.49L1007.95 48.86L1008.70 47.48L1009.45 46.46L1009.95 46.05L1010.45 45.91L1010.95 46.06L1011.45 46.58L1011.95 47.67L1012.45 49.54L1012.70 50.83L1013.20 54.76L1014.45 77.03L1015.20 83.89L1015.95 88.27L1016.45 89.99L1016.70 90.50L1017.20 91.20L1017.95 91.74L1019.45 92.08L1019.95 92.30L1020.45 92.74L1021.20 93.89L1022.20 96.13L1023.95 100.79L1024.95 103.17L1026.20 105.60L1028.95 110.50L1030.45 113.63L1032.45 118.58L1033.95 123.08L1035.20 127.74L1036.20 132.31L1037.20 138.03L1037.95 143.29L1038.45 147.74L1039.70 163.31L1040.45 171.47L1041.20 178.60L1041.70 181.94L1042.45 184.90L1042.70 185.56L1043.20 186.45L1043.45 186.69L1044.95 187.70L1045.95 188.29L1046.70 188.57L1047.45 188.63L1048.20 188.39L1048.95 187.78L1049.20 185.87L1049.70 175.79L1049.95 173.32L1050.70 168.81L1050.95 167.85L1051.45 166.52L1051.95 165.55L1052.70 164.48L1053.20 163.98L1053.95 163.46L1054.70 163.14L1055.20 163.06L1057.45 163.24L1058.20 163.17L1058.70 163.00L1059.20 162.67L1059.70 161.99L1060.20 160.94L1060.70 159.62L1062.45 154.45L1065.70 144.09L1067.70 139.04L1068.45 137.51L1068.95 136.80L1069.45 136.44L1069.70 136.41L1069.95 136.54L1070.45 137.32L1070.95 138.66L1071.70 141.39L1072.45 144.60L1072.95 147.78L1073.95 155.21L1074.45 157.84L1074.70 158.53L1074.95 158.78L1075.20 158.67L1075.45 158.17L1075.95 155.98L1076.20 154.25L1076.70 147.97L1077.45 131.21L1077.70 118.69L1077.95 111.34L1078.70 105.67L1079.45 102.34L1081.20 97.71L1081.95 96.21L1083.95 93.33L1084.45 92.37L1084.95 91.13L1085.95 87.64L1088.20 78.53L1089.70 72.08L1090.45 69.74L1090.70 69.28L1090.95 69.03L1091.20 69.01L1091.45 69.20L1091.70 69.63L1092.20 71.18L1092.70 73.72L1093.20 77.53L1093.70 84.29L1094.70 100.73L1095.70 114.31L1096.20 119.93L1096.45 121.58L1096.70 122.11L1096.95 121.43L1097.45 117.37L1098.70 102.19L1099.70 93.10L1100.20 89.83L1100.45 88.93L1100.95 87.67L1101.20 87.28L1101.45 87.08L1101.70 87.07L1101.95 87.27L1102.20 87.79L1102.45 88.65L1102.95 91.06L1103.95 96.85L1105.20 105.90L1105.70 108.35L1105.95 108.88L1106.45 109.60L1106.95 110.01L1107.45 110.20L1108.20 110.21L1109.45 110.01L1110.20 109.81L1110.95 109.45L1111.95 108.58L1112.45 107.94L1112.95 107.10L1113.45 105.76L1113.95 103.83L1114.70 99.88L1115.20 96.53L1116.20 84.36L1116.70 79.95L1117.20 77.48L1117.45 76.73L1117.70 76.38L1117.95 76.45L1118.20 76.77L1118.70 77.97L1118.95 78.95L1119.45 81.88L1119.70 83.92L1119.95 86.76L1120.20 91.53L1120.95 109.63L1121.20 113.98L1121.45 116.40L1121.95 119.22L1122.20 119.97L1122.45 120.39L1122.70 120.58L1123.20 120.67L1123.70 120.64L1124.45 120.46L1126.95 119.34L1127.95 119.05L1128.95 119.06L1129.70 119.40L1130.20 119.81L1130.95 120.64L1133.70 124.63L1136.70 128.36L1137.70 129.97L1138.45 131.50L1138.95 132.91L1139.70 135.88L1140.95 142.46L1141.45 146.09L1142.45 154.67L1143.70 167.53L1144.20 170.29L1144.45 171.15L1144.70 171.68L1144.95 171.87L1145.20 171.69L1145.45 171.25L1145.95 169.78L1146.95 165.41L1147.70 161.40L1148.70 154.83L1149.70 147.33L1151.95 128.21L1152.70 123.89L1153.45 120.96L1153.95 119.56L1154.45 118.56L1155.20 117.65L1155.95 117.04L1156.95 116.56L1158.45 116.22L1159.70 116.13L1161.20 116.24" fill="none" stroke="#f4a9c4" stroke-width="1.3" stroke-linejoin="round"/>
<path d="M93.20 373.19L97.95 361.18L105.20 343.18L106.45 340.37L107.70 337.81L108.95 335.60L109.95 334.17L110.95 333.14L112.95 331.78L114.70 330.91L116.45 330.37L117.70 330.18L118.70 330.20L119.95 330.38L122.45 330.91L123.70 331.06L124.70 331.04L125.70 330.83L126.45 330.52L127.20 329.88L127.70 329.13L128.20 328.06L128.70 326.60L129.20 324.71L129.70 322.31L130.20 319.22L130.95 311.55L132.45 290.84L133.20 281.75L133.70 277.51L133.95 276.14L134.20 275.27L134.45 274.79L134.70 274.61L134.95 274.66L135.70 275.29L136.20 276.04L136.95 277.74L138.70 282.72L139.45 284.56L140.20 285.78L140.70 286.09L140.95 286.05L141.20 285.76L141.70 284.58L143.95 275.68L144.45 274.48L144.95 273.80L145.45 273.29L146.20 272.80L146.95 272.57L147.70 272.56L148.95 272.78L149.70 273.02L150.45 273.49L151.20 274.30L151.70 275.10L152.20 276.14L152.70 277.53L152.95 278.54L153.45 281.21L153.95 284.53L155.45 295.97L156.20 301.00L156.95 304.48L157.20 305.15L157.45 305.53L157.70 305.58L157.95 305.31L158.20 304.73L158.45 303.89L158.95 301.53L159.70 296.73L161.45 283.88L161.95 280.88L162.45 278.60L163.70 275.13L164.45 273.55L165.20 272.30L165.95 271.40L166.70 270.84L167.45 270.61L167.70 270.61L167.95 270.79L168.20 271.17L168.45 271.78L168.95 273.76L169.70 279.00L170.45 289.13L171.70 311.43L172.20 319.01L172.70 324.15L172.95 325.46L173.20 326.03L173.70 326.67L173.95 326.77L174.20 326.73L174.70 326.31L175.20 325.48L176.20 322.98L178.20 317.00L179.70 313.39L181.45 308.01L182.20 305.93L182.70 304.82L183.20 304.03L183.70 303.62L183.95 303.59L184.20 303.71L184.45 304.00L184.70 304.46L185.20 305.79L185.95 308.56L187.95 317.02L188.45 318.59L188.95 319.69L190.95 323.20L191.95 324.60L192.70 325.41L193.45 325.98L194.20 326.26L194.95 326.22L195.70 325.75L196.45 324.78L196.95 323.86L197.95 321.32L199.20 316.84L200.20 312.14L201.20 304.88L203.70 280.68L204.70 272.51L205.95 265.09L206.95 259.72L207.70 256.28L208.45 253.56L209.20 251.76L209.70 251.18L209.95 251.10L210.20 251.21L210.45 251.58L210.70 252.18L211.20 254.01L211.70 256.45L213.70 267.89L214.20 270.05L214.70 271.48L214.95 271.86L215.20 272.04L215.70 272.28L216.20 272.38L216.95 272.25L217.45 271.99L217.95 271.59L218.95 270.42L219.95 268.77L220.95 266.68L221.70 264.68L222.20 262.46L222.70 259.55L224.70 245.17L225.45 240.47L226.20 237.22L226.45 236.58L226.70 236.20L226.95 236.10L227.20 236.27L227.70 237.24L228.45 240.07L229.45 245.68L231.45 259.17L232.20 263.62L235.20 277.86L235.95 280.53L236.45 281.81L236.70 282.25L236.95 282.56L237.45 282.83L237.70 282.85L238.20 282.70L238.95 282.10L240.70 279.99L241.45 279.24L242.20 278.88L242.70 278.94L243.20 279.33L243.95 280.44L246.20 285.46L246.95 286.91L247.70 287.87L248.20 288.11L248.45 288.09L248.70 287.92L248.95 287.59L249.70 285.86L251.70 278.77L252.45 276.52L252.95 275.52L253.20 275.22L253.45 275.08L253.95 275.06L254.70 275.44L255.70 276.57L258.95 281.97L259.70 282.93L261.20 284.50L261.95 285.41L262.70 286.60L263.20 287.63L264.20 290.43L264.70 292.34L264.95 293.83L265.45 298.11L266.95 315.00L267.45 319.54L268.45 325.66L269.45 330.26L270.20 332.50L270.70 333.32L271.20 333.80L271.70 334.07L272.20 334.19L272.70 334.19L274.20 334.00L274.95 334.07L275.70 334.44L276.45 335.28L276.95 336.62L277.45 338.79L279.45 349.80L279.95 351.66L280.20 352.25L280.45 352.56L280.70 352.58L280.95 352.43L281.45 351.77L281.95 350.68L282.70 348.39L283.70 344.50L285.70 335.85L286.95 331.07L289.20 320.93L289.70 319.14L290.20 317.79L290.70 317.02L290.95 316.89L291.45 316.95L291.70 317.12L292.20 317.66L292.70 318.47L293.45 320.08L294.45 322.72L296.95 329.84L299.45 339.67L300.20 342.18L300.70 343.43L301.20 344.23L301.70 344.57L302.45 344.86L303.20 344.93L303.95 344.81L304.70 344.49L305.45 343.99L306.20 343.30L306.95 342.43L307.95 341.00L308.45 340.05L309.20 337.05L310.95 326.66L311.45 324.07L311.95 322.17L312.20 321.56L312.45 321.22L312.70 321.20L312.95 321.50L313.20 322.10L313.45 322.97L313.95 325.39L314.70 330.27L316.45 343.29L317.20 347.60L317.70 349.45L317.95 349.98L318.20 350.20L318.45 350.16L318.70 349.94L318.95 349.55L319.45 348.32L320.20 345.51L320.95 341.86L322.95 330.67L323.70 326.91L326.95 312.68L328.20 307.95L328.95 305.73L329.20 305.14L329.70 304.32L329.95 304.06L330.45 303.74L331.45 303.46L331.95 303.22L332.45 302.72L332.70 302.34L333.20 301.21L333.45 300.43L333.95 298.35L334.20 296.78L334.45 294.33L334.95 287.22L335.70 272.88L336.70 251.22L337.95 216.78L339.45 180.74L340.20 166.74L340.70 161.19L341.95 151.15L343.20 143.70L344.45 137.94L347.20 127.23L347.95 124.88L348.45 123.57L348.95 122.49L349.45 121.68L349.95 121.14L350.95 120.49L351.95 120.06L352.70 119.88L353.45 119.85L354.20 119.98L354.95 120.27L355.70 120.69L356.45 120.68L356.70 120.84L356.95 121.22L357.20 121.89L357.45 122.96L357.70 124.49L358.20 129.31L358.45 133.38L358.70 140.95L359.70 188.05L360.45 218.84L360.95 236.51L361.20 240.74L361.45 240.65L361.70 238.55L361.95 235.03L363.45 201.80L364.95 177.53L365.70 168.59L365.95 166.92L366.20 166.13L366.45 166.33L366.70 167.31L367.20 171.19L367.70 176.95L369.20 197.32L370.70 214.39L371.45 221.25L371.70 222.52L371.95 223.08L372.20 222.78L372.45 221.57L372.70 219.64L373.95 205.39L374.45 200.91L375.70 194.05L376.20 192.18L376.45 191.55L376.70 191.18L376.95 191.08L377.20 191.25L377.45 191.58L377.95 192.67L378.70 195.10L380.95 204.03L381.70 206.07L382.20 206.79L382.45 206.90L382.70 206.83L383.20 206.16L383.95 204.10L384.70 201.19L386.20 194.68L386.95 192.02L387.45 190.78L387.70 190.37L387.95 190.13L388.20 190.10L388.45 190.36L388.95 191.65L389.45 193.84L390.20 198.43L390.70 202.28L391.20 207.83L393.95 245.10L394.45 250.20L395.70 259.13L397.20 267.73L398.20 272.20L398.95 274.89L399.45 276.29L400.20 277.87L402.20 280.84L402.95 282.20L403.70 284.09L404.45 286.88L405.45 292.25L406.45 299.41L407.45 312.27L407.70 314.70L407.95 316.01L408.45 316.54L408.95 316.85L409.45 316.99L409.95 316.99L410.95 316.67L412.95 315.51L413.95 315.10L414.45 315.03L414.95 315.09L415.20 315.20L415.45 315.45L415.95 316.27L416.45 317.46L417.70 321.33L418.20 323.77L419.45 330.96L419.95 332.93L420.20 333.47L420.45 333.62L420.70 333.23L420.95 332.14L421.20 330.44L421.70 325.59L422.45 316.25L422.95 307.78L423.95 285.83L424.45 278.95L424.95 276.49L425.20 275.84L425.45 275.48L425.70 275.35L425.95 275.37L426.70 275.67L427.45 275.47L427.95 275.58L428.95 275.99L429.45 275.95L429.95 275.52L430.20 275.11L430.45 274.54L430.70 273.65L431.20 270.27L431.70 265.35L435.45 224.04L437.70 203.16L439.20 190.97L440.20 184.40L441.70 176.41L442.95 170.74L445.95 158.10L447.45 150.86L448.45 144.31L450.20 130.42L450.70 127.11L451.20 124.54L451.70 122.96L451.95 122.63L452.20 122.74L452.45 123.49L452.70 124.78L453.20 128.62L454.70 143.34L456.70 158.27L457.20 161.04L457.45 161.97L457.70 162.52L457.95 162.63L458.45 162.00L458.95 160.90L459.70 158.52L460.95 153.01L464.20 134.79L466.70 121.62L470.20 101.92L471.45 95.45L472.70 89.75L474.20 84.04L474.95 81.71L475.70 79.80L476.45 78.35L477.20 77.27L477.95 76.53L478.70 76.14L479.20 76.07L480.20 76.26L480.70 76.63L480.95 76.99L481.45 78.21L481.70 79.14L482.20 81.88L482.95 89.28L484.95 115.09L486.45 129.82L487.95 143.56L489.70 158.24L491.95 175.31L493.20 182.90L493.70 185.20L494.20 187.02L494.95 189.05L495.70 190.43L496.45 191.37L497.45 192.23L498.20 192.53L499.95 192.79L503.45 193.69L503.95 193.94L504.95 194.79L505.45 195.02L505.70 195.00L505.95 194.85L506.20 194.56L506.45 194.05L506.70 193.11L507.20 190.20L508.45 180.48L510.45 166.08L510.95 163.54L511.20 162.83L511.45 162.58L511.70 162.89L511.95 163.72L512.45 166.65L513.95 179.45L514.45 182.84L515.45 187.60L516.20 190.58L517.20 193.68L517.95 195.30L518.70 196.40L520.45 198.19L521.20 199.13L521.95 200.49L522.45 201.69L523.45 204.67L524.45 208.21L527.20 219.47L527.95 224.02L528.45 228.31L530.45 250.21L531.20 257.31L531.95 262.88L532.95 269.40L533.95 274.86L534.70 278.23L536.20 283.45L537.95 288.17L541.70 296.53L544.45 303.48L545.70 306.41L546.95 308.77L547.95 310.06L548.45 310.44L548.70 310.57L548.95 310.58L549.20 310.28L549.45 309.68L549.95 307.78L551.45 299.75L551.70 298.08L553.45 283.90L553.95 281.58L554.20 281.12L554.45 281.28L554.70 282.15L555.20 285.61L556.70 300.82L558.45 313.13L558.95 315.98L559.45 317.92L559.70 318.45L559.95 318.61L560.20 318.41L560.45 317.92L560.95 316.18L561.70 312.14L563.20 301.87L566.70 279.22L567.45 275.78L568.20 273.54L568.95 272.17L569.45 271.79L569.70 271.77L569.95 271.87L570.20 272.10L570.45 272.51L571.20 274.52L572.70 280.08L573.45 282.38L574.20 283.73L575.20 285.07L575.70 285.57L576.20 285.94L576.95 286.18L577.45 286.12L577.95 285.88L578.45 285.52L578.95 285.01L579.95 283.51L580.70 281.92L581.45 279.89L582.20 277.29L582.95 272.70L584.95 256.35L585.70 252.24L585.95 251.49L586.20 251.13L586.45 251.23L586.70 251.92L587.20 254.84L587.70 259.25L588.95 272.64L589.45 277.26L590.95 287.31L591.45 289.54L591.70 290.18L591.95 290.41L592.20 290.28L592.45 290.02L592.95 289.16L593.45 287.91L594.20 285.50L596.20 278.04L597.20 275.05L598.95 271.68L600.45 269.34L601.20 268.47L601.95 267.88L602.70 267.61L603.20 267.65L603.70 268.01L604.20 268.73L604.70 269.80L605.45 272.08L606.45 276.34L607.20 280.84L607.95 286.50L608.95 295.34L610.20 307.72L612.20 334.54L612.70 340.32L613.20 344.70L614.20 351.33L615.20 356.26L616.95 362.99L617.45 364.46L617.70 364.95L617.95 365.21L618.20 365.19L618.45 364.86L618.70 364.23L619.20 362.24L620.95 352.26L622.95 342.99L623.45 341.38L623.70 340.87L623.95 340.62L624.20 340.61L624.45 340.77L624.70 341.07L625.20 342.04L626.95 346.90L627.45 348.01L628.20 349.29L629.70 351.57L631.45 353.77L632.20 354.45L633.95 355.75L634.95 356.83L635.45 357.63L635.95 358.66L638.20 364.40L638.95 366.04L639.45 366.87L639.95 367.41L640.45 367.60L640.70 367.52L641.20 366.83L641.95 364.64L642.70 361.42L643.70 356.16L644.20 353.06L644.70 349.18L646.45 333.28L647.20 327.44L647.95 323.13L648.70 319.37L649.20 317.33L649.70 315.87L649.95 315.40L650.20 315.13L650.45 315.08L650.70 315.32L650.95 315.92L651.70 319.35L653.20 328.36L653.70 330.34L653.95 330.94L654.95 332.89L655.95 334.29L656.95 335.18L657.45 335.43L658.20 335.60L658.70 335.54L659.20 335.32L659.70 334.95L660.20 334.43L661.20 333.03L662.45 330.70L662.95 329.43L663.45 327.69L665.20 320.15L665.95 317.43L666.45 316.20L666.70 315.82L666.95 315.62L667.20 315.60L667.45 315.71L667.95 316.31L668.70 317.97L669.45 320.28L671.45 327.42L672.45 331.49L676.45 349.70L676.95 351.32L677.20 351.77L677.45 351.91L677.95 351.53L678.45 350.72L678.95 349.56L679.70 347.34L681.95 339.65L685.20 330.30L686.45 327.18L687.20 325.86L687.70 325.29L687.95 325.12L688.70 324.91L689.20 324.92L689.70 325.03L690.45 325.35L691.20 325.82L693.70 327.79L694.70 328.45L696.20 329.12L699.95 330.59L701.45 331.30L703.70 332.68L704.95 333.76L705.95 335.03L706.45 335.89L706.70 336.49L707.20 338.05L708.95 344.41L709.45 345.59L709.70 345.94L709.95 346.10L710.20 346.06L710.45 345.89L710.70 345.61L711.20 344.76L711.95 342.96L713.70 338.02L714.45 336.42L714.95 335.77L715.20 335.62L715.45 335.59L715.70 335.71L716.20 336.43L716.95 338.49L717.70 341.34L719.45 348.71L722.70 359.77L723.45 361.93L723.95 363.08L724.45 363.91L724.95 364.38L725.20 364.46L725.70 364.42L726.45 363.94L727.20 363.07L729.20 360.12L729.95 359.22L730.70 358.67L731.20 358.59L731.45 358.65L731.95 359.11L732.70 360.45L734.70 365.57L735.45 367.14L735.95 367.83L736.20 368.02L736.45 368.10L736.95 367.97L737.70 367.30L738.45 366.18L739.20 364.74L741.70 359.41L742.20 358.54L744.70 354.81L745.70 353.55L746.45 352.89L747.20 352.59L747.70 352.64L748.20 352.88L748.70 353.27L749.20 353.82L749.95 354.91L751.20 357.36L752.70 361.20L753.45 364.38L755.70 376.78L756.45 379.61L756.70 380.20L756.95 380.56L757.45 380.89L758.20 381.19L758.95 381.26L759.70 381.15L761.20 380.54L763.70 379.04L764.95 378.42L765.95 378.14L767.20 378.13L768.95 378.50L771.45 379.48L771.95 379.89L773.70 381.92L774.20 382.20L774.45 382.22L774.95 381.95L775.45 381.12L775.95 379.68L776.70 376.62L779.70 360.84L781.45 350.81L782.95 341.34L784.20 332.71L787.20 307.86L788.70 296.48L789.45 291.69L789.95 289.55L790.70 287.82L791.45 286.89L792.70 286.05L793.20 285.62L793.95 284.49L794.45 283.25L794.70 282.41L795.45 278.60L796.20 273.39L797.95 259.52L800.20 239.78L801.45 227.54L802.95 208.87L803.45 203.47L804.20 197.95L805.20 192.56L805.70 190.87L805.95 190.34L806.20 190.07L806.45 190.07L806.70 190.39L807.20 192.14L807.95 196.74L809.70 209.45L811.45 224.40L811.95 226.84L812.20 227.27L812.45 227.03L812.70 225.52L812.95 221.88L814.20 189.63L815.95 154.56L816.70 143.26L816.95 140.85L817.20 139.33L817.45 138.81L817.70 139.25L817.95 140.47L818.20 142.34L819.45 155.83L819.95 160.27L821.45 169.93L821.95 172.11L822.20 172.78L822.45 173.09L822.70 173.05L822.95 172.80L823.45 171.75L823.95 170.17L825.70 163.46L826.20 162.10L827.20 160.25L827.95 159.32L828.20 159.20L828.45 159.18L828.70 159.31L828.95 159.60L829.45 160.85L830.20 164.08L831.45 171.61L832.20 177.89L833.70 192.32L834.45 197.82L836.20 206.54L836.95 209.45L837.70 211.62L838.20 212.57L838.70 213.06L838.95 213.10L839.20 212.90L839.45 212.49L840.20 210.28L841.95 203.34L842.45 202.00L843.45 200.30L843.95 199.89L844.20 199.89L844.45 200.05L844.70 200.39L845.20 201.58L845.70 203.39L846.20 205.77L847.20 212.07L847.70 216.66L849.20 233.44L849.70 238.27L851.20 248.91L852.20 255.40L853.20 260.78L853.70 262.86L854.20 264.41L854.70 265.36L854.95 265.58L855.20 265.58L855.45 265.27L855.70 264.66L855.95 263.75L856.45 261.06L857.20 254.88L857.95 246.26L858.45 238.00L859.20 219.87L863.95 86.48L864.70 69.66L865.20 63.71L865.70 60.01L866.20 57.52L866.95 55.26L868.70 51.51L869.45 50.12L869.95 49.51L870.20 49.32L870.45 49.23L870.70 49.24L871.70 49.79L871.95 50.07L872.20 50.58L872.70 52.66L872.95 54.43L873.45 59.89L873.70 65.24L873.95 74.95L874.70 112.52L874.95 121.76L875.45 133.26L875.95 142.17L876.70 151.02L876.95 152.81L877.45 155.34L877.95 157.28L878.45 158.74L879.20 160.25L880.95 162.55L881.45 163.37L882.20 164.95L883.95 169.10L884.95 170.90L885.45 171.42L885.70 171.56L885.95 171.61L886.20 171.55L886.70 171.11L886.95 170.70L887.20 169.91L887.70 165.89L888.20 159.27L889.45 136.56L889.70 130.87L890.45 106.46L890.70 99.96L890.95 95.77L891.70 86.65L891.95 84.76L892.20 83.55L892.45 83.10L892.70 83.50L892.95 84.80L893.20 86.79L894.45 100.16L896.45 117.67L897.45 125.27L898.70 133.11L899.70 138.63L900.70 143.30L901.70 146.89L902.20 148.10L902.45 148.47L902.70 148.66L902.95 148.63L903.20 148.40L903.45 148.00L904.20 146.06L905.95 140.26L907.20 137.19L907.95 135.66L908.20 135.40L908.45 135.33L908.70 135.47L908.95 135.97L909.45 138.87L910.70 149.93L912.20 160.19L912.95 164.48L913.45 166.31L913.70 166.80L913.95 166.99L914.20 167.04L914.45 166.97L914.95 166.55L915.70 165.37L917.45 161.87L918.20 160.86L918.70 160.60L918.95 160.63L919.45 160.94L919.95 161.57L920.45 162.46L921.20 164.22L922.20 167.14L922.70 168.95L924.20 180.35L924.45 181.54L924.70 182.07L924.95 181.77L925.20 180.27L925.45 177.22L925.95 167.78L926.95 144.64L927.45 136.18L928.20 128.53L928.70 124.54L929.20 121.69L929.45 120.77L929.70 120.23L929.95 120.08L930.20 120.50L930.45 121.72L930.95 125.89L931.95 136.52L932.45 140.35L933.20 143.48L933.95 145.58L934.20 146.07L934.70 146.71L934.95 146.88L935.45 147.02L935.95 147.07L936.70 146.99L939.20 146.18L940.20 145.98L940.95 146.01L941.45 146.16L942.20 146.69L942.95 147.55L943.70 148.66L946.45 153.35L947.20 154.84L949.20 159.73L949.95 161.35L950.70 162.56L951.20 163.04L951.45 163.16L951.95 163.13L952.20 162.76L952.45 161.77L952.95 158.36L953.95 149.39L954.45 145.86L955.70 140.05L956.20 138.33L956.70 137.21L956.95 136.93L957.20 136.82L957.45 136.78L957.95 136.88L958.70 137.39L960.20 138.82L960.95 139.31L962.45 139.52L963.20 139.48L963.95 139.18L964.70 138.51L965.45 137.38L966.20 135.70L966.70 133.96L967.20 131.51L967.70 128.14L968.20 123.30L968.70 114.36L969.70 91.41L971.45 58.72L971.95 51.82L972.20 49.53L972.45 48.23L972.70 47.97L972.95 48.53L973.20 49.80L973.70 53.93L975.70 75.37L978.45 107.09L979.95 121.58L980.45 125.70L980.95 128.98L981.45 131.14L982.20 133.29L982.70 134.28L983.45 135.20L984.20 135.57L985.70 135.75L986.20 135.72L986.70 135.51L986.95 135.31L987.45 134.65L987.70 134.18L988.45 132.04L988.95 129.76L989.20 127.67L989.70 121.15L990.45 106.51L990.95 93.35L991.70 57.50L991.95 49.12L992.45 41.28L992.95 36.26L993.45 33.52L993.70 32.86L993.95 32.61L994.20 32.93L994.45 34.17L994.95 38.61L995.95 49.71L996.95 62.68L997.45 67.74L997.95 70.97L998.45 73.57L998.95 75.23L999.20 75.61L999.45 75.64L999.95 74.88L1000.70 72.58L1001.45 69.31L1002.95 61.79L1003.70 58.48L1005.95 50.04L1007.20 46.29L1007.95 44.68L1008.70 43.32L1009.45 42.31L1009.95 41.90L1010.45 41.76L1010.95 41.92L1011.45 42.43L1011.95 43.52L1012.45 45.38L1012.70 46.68L1013.20 50.60L1014.45 72.85L1015.20 79.70L1015.95 84.07L1016.45 85.77L1016.70 86.28L1017.20 86.97L1017.95 87.49L1019.45 87.79L1019.95 88.00L1020.45 88.42L1021.20 89.56L1022.20 91.76L1023.95 96.37L1024.95 98.70L1026.20 101.09L1028.95 105.90L1030.45 108.99L1032.45 113.91L1033.95 118.41L1035.20 123.09L1036.20 127.69L1037.20 133.43L1037.95 138.72L1038.45 143.18L1039.70 158.80L1040.45 166.99L1041.20 174.13L1041.70 177.49L1042.45 180.48L1042.70 181.15L1043.20 182.06L1045.20 183.56L1046.20 184.17L1046.95 184.44L1047.70 184.47L1048.45 184.17L1048.95 183.76L1049.20 181.87L1049.70 171.83L1049.95 169.38L1050.45 166.12L1050.70 164.92L1051.20 163.25L1051.70 162.19L1052.45 161.02L1052.95 160.47L1053.70 159.89L1054.45 159.53L1055.20 159.38L1057.45 159.56L1058.20 159.48L1058.70 159.30L1059.20 158.97L1059.70 158.28L1060.20 157.21L1060.70 155.88L1062.45 150.68L1065.70 140.23L1067.70 135.11L1068.45 133.55L1068.95 132.82L1069.45 132.44L1069.70 132.40L1069.95 132.51L1070.45 133.25L1070.95 134.55L1071.70 137.20L1072.45 140.31L1072.95 143.41L1073.95 150.69L1074.45 153.23L1074.70 153.88L1074.95 154.08L1075.20 153.93L1075.45 153.39L1075.95 151.11L1076.20 149.34L1076.70 142.96L1077.45 126.08L1077.70 113.51L1077.95 106.12L1078.70 100.33L1079.45 96.90L1081.20 92.05L1081.95 90.45L1083.95 87.30L1084.45 86.28L1084.95 84.97L1085.95 81.36L1089.70 65.50L1090.45 63.14L1090.70 62.68L1090.95 62.42L1091.20 62.40L1091.45 62.63L1091.70 63.11L1092.20 64.82L1092.70 67.56L1093.20 71.62L1093.70 78.65L1094.70 95.63L1095.70 109.63L1096.20 115.38L1096.45 117.06L1096.70 117.60L1096.95 116.90L1097.45 112.73L1098.70 96.86L1099.70 87.08L1100.20 83.48L1100.45 82.44L1100.95 80.93L1101.20 80.46L1101.45 80.20L1101.70 80.16L1101.95 80.36L1102.20 80.89L1102.45 81.75L1102.95 84.18L1103.95 90.00L1105.20 99.11L1105.70 101.58L1105.95 102.12L1106.45 102.85L1106.95 103.29L1107.45 103.49L1108.20 103.51L1109.45 103.30L1110.20 103.06L1110.95 102.63L1111.95 101.67L1112.45 100.97L1112.95 100.08L1113.45 98.68L1113.95 96.68L1114.70 92.66L1115.20 89.25L1116.20 77.00L1116.70 72.57L1117.20 70.08L1117.45 69.33L1117.70 68.97L1117.95 69.05L1118.20 69.38L1118.70 70.63L1118.95 71.64L1119.45 74.66L1119.70 76.75L1119.95 79.64L1120.20 84.46L1120.95 102.72L1121.20 107.12L1121.45 109.59L1121.95 112.50L1122.20 113.27L1122.45 113.72L1122.70 113.93L1122.95 114.00L1124.20 114.00L1127.95 113.54L1128.70 113.61L1129.20 113.75L1129.95 114.20L1131.20 115.52L1133.95 119.18L1136.70 122.15L1137.70 123.62L1138.45 125.10L1138.95 126.53L1139.70 129.60L1140.95 136.49L1141.45 140.28L1142.45 149.17L1143.70 162.37L1144.20 165.21L1144.45 166.11L1144.70 166.67L1144.95 166.87L1145.20 166.69L1145.45 166.22L1145.95 164.59L1146.70 160.99L1147.45 156.70L1148.45 149.79L1150.20 136.41L1151.95 121.61L1152.45 118.55L1153.20 115.33L1153.70 113.76L1154.45 112.15L1155.20 111.25L1155.95 110.64L1156.95 110.16L1158.45 109.82L1159.70 109.73L1161.20 109.84" fill="none" stroke="#4a9d93" stroke-width="1.2" stroke-linejoin="round"/>
<path d="M1046.20 183.13L1046.95 183.31L1047.70 183.23L1048.45 182.84L1048.95 182.36L1049.20 180.43L1049.70 170.33L1049.95 167.84L1050.70 163.29L1050.95 162.31L1051.45 160.96L1051.95 159.96L1052.70 158.84L1053.20 158.31L1053.95 157.74L1054.70 157.38L1055.20 157.26L1057.45 157.30L1058.20 157.18L1058.70 156.97L1059.20 156.61L1059.70 155.89L1060.70 153.45L1062.45 148.17L1065.70 137.57L1067.70 132.34L1068.45 130.73L1068.95 129.97L1069.45 129.56L1069.70 129.50L1069.95 129.59L1070.45 130.30L1070.95 131.55L1071.70 134.13L1072.45 137.17L1072.95 140.22L1073.95 147.39L1074.45 149.88L1074.70 150.50L1074.95 150.68L1075.20 150.50L1075.45 149.93L1075.95 147.60L1076.20 145.80L1076.70 139.37L1077.45 122.41L1077.70 109.82L1077.95 102.40L1078.70 96.54L1079.45 93.04L1081.20 88.05L1081.95 86.39L1083.95 83.07L1084.45 82.01L1084.95 80.66L1085.95 76.97L1089.70 60.92L1090.45 58.54L1090.70 58.08L1090.95 57.82L1091.20 57.81L1091.45 58.06L1091.70 58.58L1092.20 60.41L1092.70 63.33L1093.20 67.59L1093.70 74.83L1094.70 92.25L1095.70 106.60L1096.20 112.44L1096.45 114.15L1096.70 114.70L1096.95 113.98L1097.45 109.67L1098.70 93.06L1099.70 82.50L1100.20 78.53L1100.45 77.32L1100.95 75.52L1101.20 74.93L1101.45 74.58L1101.70 74.48L1101.95 74.66L1102.20 75.19L1102.45 76.06L1102.95 78.53L1103.95 84.49L1105.45 95.36L1105.70 96.43L1105.95 97.02L1106.70 98.15L1107.20 98.55L1107.70 98.73L1108.45 98.76L1109.45 98.59L1110.20 98.28L1110.70 97.96L1111.70 96.93L1112.70 95.30L1113.20 94.08L1113.95 91.12L1114.70 86.92L1115.20 83.40L1116.20 70.96L1116.70 66.46L1117.20 63.92L1117.45 63.15L1117.70 62.78L1117.95 62.85L1118.20 63.18L1118.70 64.48L1118.95 65.54L1119.45 68.66L1119.70 70.81L1119.95 73.78L1120.20 78.68L1120.95 97.21L1121.20 101.70L1121.45 104.27L1121.95 107.37L1122.20 108.24L1122.45 108.77L1122.70 109.07L1123.45 109.41L1124.20 109.53L1124.95 109.52L1127.20 109.14L1128.20 109.07L1129.20 109.23L1129.95 109.65L1130.95 110.62L1133.70 114.20L1135.95 116.60L1136.70 117.51L1137.70 119.07L1138.45 120.62L1138.95 122.11L1139.70 125.27L1140.95 132.31L1141.45 136.15L1142.45 145.14L1143.70 158.43L1144.20 161.30L1144.45 162.20L1144.70 162.77L1144.95 162.97L1145.20 162.78L1145.45 162.30L1145.95 160.60L1146.70 156.82L1147.45 152.30L1148.45 145.01L1150.20 131.00L1151.95 115.91L1152.45 112.85L1153.20 109.63L1153.70 108.06L1154.45 106.45L1155.20 105.55L1155.95 104.94L1156.95 104.46L1158.45 104.12L1159.70 104.03L1161.20 104.14" fill="none" stroke="#7ed9a4" stroke-width="1.4" stroke-linejoin="round"/>
<path d="M93.20 589.6L93.20 486.10L100.70 478.55L105.70 473.27L107.45 471.10L111.20 465.86L112.70 463.89L114.20 462.19L114.95 461.48L115.70 460.88L116.45 460.42L117.20 460.10L118.20 459.85L119.20 459.74L120.20 459.73L121.20 459.80L125.70 460.52L127.45 460.66L128.45 460.64L129.45 460.50L130.45 460.23L130.95 460.00L131.20 459.68L131.45 459.19L131.95 457.80L133.70 451.15L134.20 449.57L134.70 448.51L134.95 448.23L135.20 448.11L135.70 448.01L136.20 448.07L136.95 448.41L138.95 449.95L139.70 450.46L140.45 450.76L140.95 450.80L141.45 450.68L142.20 450.27L142.95 449.67L144.95 447.83L145.95 447.18L146.45 447.02L146.95 447.01L147.45 447.10L148.20 447.39L149.20 448.01L150.20 448.84L151.45 450.10L152.95 451.78L153.70 453.06L155.20 456.44L155.95 457.96L156.45 458.70L156.70 458.96L156.95 459.13L157.20 459.20L157.45 459.15L157.70 458.91L158.20 457.98L158.70 456.61L160.20 451.76L160.70 450.56L160.95 450.15L161.45 449.74L162.70 449.04L163.70 448.64L164.45 448.45L165.20 448.36L165.95 448.39L166.70 448.53L167.45 448.81L167.95 449.07L168.20 449.30L168.45 449.78L168.95 451.35L169.70 454.81L170.70 460.46L171.95 471.75L172.45 475.66L172.70 476.99L172.95 477.73L173.20 477.98L173.70 478.20L174.20 478.10L174.70 477.75L175.20 477.19L175.95 476.10L177.45 473.66L178.95 471.65L181.20 467.83L181.95 466.68L182.45 466.04L182.95 465.54L183.45 465.22L183.95 465.10L184.20 465.13L184.70 465.38L185.20 465.84L185.70 466.49L186.45 467.70L188.70 471.87L189.70 473.30L191.70 475.22L192.70 476.01L193.20 476.29L193.70 476.44L194.20 476.45L194.70 476.29L195.20 475.92L195.45 475.62L196.20 474.26L196.95 472.32L197.70 469.94L198.95 465.34L200.70 458.36L201.45 454.63L203.45 443.73L204.20 440.10L204.70 438.05L205.20 436.40L206.20 433.74L207.20 431.53L207.95 430.21L208.70 429.23L209.45 428.61L209.95 428.42L210.20 428.40L210.45 428.43L210.70 428.57L211.20 429.12L211.70 429.97L212.45 431.64L213.95 435.33L214.45 436.36L214.95 437.16L215.20 437.44L215.70 437.79L216.95 438.38L217.70 438.57L218.20 438.63L219.20 438.55L219.95 438.32L220.45 438.07L220.95 437.64L221.45 436.97L222.45 435.12L224.45 430.55L225.45 428.52L225.95 427.72L226.45 427.12L226.95 426.77L227.20 426.70L227.45 426.70L227.95 426.93L228.70 427.72L229.70 429.45L230.70 431.67L232.45 435.86L232.95 437.26L233.70 439.80L235.45 446.27L236.20 448.60L236.95 450.25L237.45 450.84L238.20 451.22L238.70 451.30L239.20 451.27L240.20 450.96L242.20 450.08L242.95 449.91L243.45 449.91L244.70 450.19L247.70 451.37L248.45 451.55L249.20 451.60L249.70 451.51L250.45 451.16L252.95 449.41L253.70 449.12L254.20 449.09L254.70 449.22L255.45 449.76L256.20 450.57L258.20 453.10L258.70 453.61L259.20 453.99L259.70 454.21L260.45 454.29L262.45 453.86L263.20 453.83L263.95 454.06L264.70 454.67L265.20 455.39L265.45 456.17L265.70 457.33L266.20 460.49L267.45 470.03L267.95 473.00L268.20 474.02L268.45 474.63L269.20 475.33L269.95 475.65L270.70 475.68L271.45 475.52L273.20 474.85L273.95 474.64L274.70 474.59L275.20 474.70L275.45 474.82L275.95 475.27L276.45 475.95L278.45 479.56L279.20 480.73L279.70 481.28L279.95 481.47L280.45 481.62L280.70 481.57L281.20 481.35L281.95 480.75L282.45 480.21L283.20 479.21L284.45 477.20L287.45 471.83L288.20 470.66L288.95 469.66L289.70 468.88L290.20 468.51L290.95 468.22L291.45 468.21L291.95 468.32L292.70 468.71L293.45 469.31L294.20 470.09L295.45 471.68L298.95 476.68L299.95 477.86L300.70 478.56L301.20 478.93L301.70 479.20L303.20 479.83L304.45 480.26L305.95 480.54L307.20 480.49L307.95 480.29L308.70 479.95L309.20 479.61L309.45 479.18L309.70 478.51L310.20 476.59L311.45 470.44L311.95 468.32L312.45 466.90L312.70 466.56L312.95 466.52L313.20 466.70L313.45 467.04L313.70 467.53L314.20 468.89L314.95 471.64L316.70 479.02L317.45 481.55L317.95 482.70L318.20 483.06L318.45 483.26L318.70 483.30L318.95 483.24L319.45 482.92L319.95 482.37L320.45 481.62L320.95 480.69L322.20 477.80L324.95 470.65L325.95 468.57L326.70 467.42L326.95 467.14L327.45 466.75L328.20 466.49L328.95 466.52L330.95 467.04L331.70 467.02L332.20 466.84L332.70 466.48L333.20 465.90L333.70 464.97L333.95 464.22L334.45 462.12L335.20 457.52L335.95 451.25L336.70 443.23L337.20 433.41L338.20 409.04L338.45 404.81L338.70 402.30L339.20 399.72L339.70 397.82L339.95 397.09L340.45 395.99L340.70 395.59L341.20 395.01L342.45 394.10L342.95 393.63L343.45 392.92L343.95 391.83L344.45 390.34L345.20 387.61L347.20 379.14L347.95 376.23L348.70 373.86L349.20 372.70L349.70 371.79L350.45 370.63L351.20 369.70L351.95 368.99L352.45 368.63L353.20 368.25L353.95 368.04L354.70 367.97L355.70 367.39L355.95 367.34L356.20 367.42L356.45 367.65L356.70 368.09L356.95 368.77L357.20 369.74L357.70 372.70L357.95 375.68L358.45 386.86L359.20 409.04L359.70 421.55L360.70 437.81L360.95 440.53L361.20 442.19L361.45 442.52L361.70 441.30L361.95 438.70L362.45 430.49L363.45 410.21L363.95 402.81L364.45 398.26L364.95 394.56L365.45 391.80L365.95 390.11L366.20 389.70L366.45 389.61L366.70 389.86L366.95 390.43L367.20 391.27L367.70 393.58L368.95 400.62L369.70 404.21L371.20 412.38L371.70 414.48L371.95 415.24L372.20 415.75L372.45 415.99L372.70 415.95L372.95 415.73L373.45 414.83L374.20 412.61L375.70 407.00L376.20 405.37L376.70 404.11L376.95 403.68L377.20 403.40L377.45 403.29L377.70 403.32L377.95 403.46L378.20 403.70L378.70 404.43L379.45 406.00L381.20 410.28L381.95 411.68L382.45 412.26L382.70 412.40L382.95 412.44L383.20 412.35L383.45 412.07L383.95 411.02L384.45 409.42L386.45 400.78L387.20 398.07L387.70 396.86L387.95 396.49L388.20 396.31L388.45 396.36L388.70 396.72L388.95 397.37L389.20 398.28L389.70 400.71L390.45 405.47L391.70 414.23L392.20 418.45L393.70 433.05L394.45 438.90L394.95 441.48L395.45 443.53L395.95 445.20L396.45 446.51L396.95 447.47L397.45 448.10L397.95 448.42L398.45 448.47L398.95 448.31L399.45 448.00L401.45 446.21L402.20 445.75L402.70 445.64L402.95 445.66L403.20 445.74L403.70 446.16L404.20 446.88L404.70 447.82L406.95 453.09L409.20 457.61L409.95 458.86L410.45 459.45L411.20 460.00L411.95 460.32L413.70 460.75L414.45 461.01L415.20 461.45L415.95 462.19L416.20 462.63L416.70 463.87L418.20 468.81L418.70 470.24L419.20 471.27L419.45 471.57L419.70 471.70L419.95 471.64L420.20 471.26L420.45 470.38L420.95 467.47L422.20 457.24L422.70 453.68L422.95 452.34L423.20 451.40L423.45 450.75L423.95 449.74L424.45 449.08L424.95 448.69L425.45 448.49L426.45 448.40L426.95 448.52L427.45 448.83L429.45 450.78L429.95 451.17L430.45 451.39L430.95 451.41L431.45 451.15L431.70 450.90L431.95 450.22L432.20 448.86L432.45 446.97L433.70 434.82L435.45 420.00L436.20 414.31L436.70 411.30L437.70 406.83L438.70 403.15L439.70 400.08L440.95 396.82L441.95 394.46L442.45 393.53L443.20 392.51L444.95 390.66L445.70 389.50L446.45 387.74L446.95 386.11L447.20 384.82L447.70 380.94L449.20 366.35L449.45 364.60L450.20 360.44L450.70 358.06L451.20 356.25L451.45 355.61L451.70 355.19L451.95 355.01L452.20 355.12L452.45 355.59L452.95 357.30L453.95 362.09L454.45 364.14L456.20 370.34L456.70 371.86L457.20 372.99L457.45 373.35L457.70 373.56L457.95 373.59L458.20 373.52L458.70 373.22L459.45 372.39L459.95 371.62L460.70 370.21L461.95 367.34L464.20 361.55L465.70 357.04L467.20 351.87L469.95 341.74L472.70 329.69L473.20 327.78L473.70 326.18L474.45 324.38L475.20 322.86L475.95 321.56L476.70 320.48L477.45 319.63L478.20 319.02L478.95 318.65L479.45 318.54L479.95 318.65L480.20 318.82L480.70 319.47L481.20 320.63L481.70 322.45L482.20 326.11L483.70 341.53L484.45 346.79L485.45 352.97L487.95 366.67L490.20 377.56L490.95 381.48L491.45 384.58L492.95 395.25L493.70 399.51L494.20 401.28L494.95 402.61L495.70 403.54L496.45 404.17L497.20 404.56L497.95 404.81L499.95 405.26L500.95 405.70L501.95 406.52L503.70 408.39L504.45 409.08L504.95 409.41L505.45 409.60L505.95 409.61L506.20 409.54L506.45 409.35L506.70 408.76L506.95 407.84L508.20 401.47L508.45 400.48L508.70 399.80L509.45 398.49L510.20 397.56L510.95 397.02L511.45 396.89L511.70 396.89L512.20 397.04L512.95 397.66L513.70 398.58L515.45 401.02L515.95 401.57L516.45 401.97L517.20 402.35L518.20 402.69L521.20 403.27L522.45 403.65L523.45 404.17L524.95 405.25L525.70 406.02L526.45 407.06L527.20 408.47L527.95 410.34L528.20 411.22L528.70 413.59L530.45 424.60L531.20 428.42L531.95 431.05L532.95 434.07L533.70 435.95L534.45 437.48L534.95 438.30L535.45 438.94L536.20 439.67L536.95 440.21L538.20 440.81L541.20 441.79L541.95 442.17L542.45 442.51L542.95 442.96L543.70 443.83L545.70 446.61L546.70 447.85L547.45 448.53L548.20 448.90L548.70 448.93L549.20 448.73L549.45 448.42L549.95 447.28L550.70 444.56L552.70 435.65L553.20 433.99L553.45 433.37L553.70 432.92L553.95 432.66L554.20 432.60L554.45 432.70L554.70 432.93L554.95 433.28L555.45 434.29L556.20 436.41L557.95 442.38L558.70 444.59L559.20 445.69L559.45 446.10L559.70 446.40L559.95 446.56L560.20 446.60L560.45 446.53L560.95 446.13L561.45 445.42L561.95 444.46L562.70 442.66L564.70 437.02L565.70 434.52L568.45 428.70L569.20 427.51L569.70 427.01L570.20 426.80L570.45 426.82L570.70 426.91L571.20 427.28L571.95 428.20L573.45 430.61L574.20 431.69L574.70 432.24L575.20 432.57L577.95 433.53L578.70 433.72L579.45 433.80L580.20 433.72L580.70 433.57L581.45 433.16L581.95 432.75L582.20 432.47L582.45 431.96L582.95 430.23L583.45 427.77L584.95 418.84L585.45 416.26L585.95 414.35L586.20 413.72L586.45 413.37L586.70 413.31L586.95 413.50L587.20 413.91L587.70 415.28L588.45 418.35L589.95 425.89L590.70 429.10L591.20 430.61L591.45 431.11L591.70 431.40L591.95 431.55L592.45 431.65L592.95 431.51L593.45 431.19L593.95 430.71L594.70 429.78L596.45 427.30L597.95 425.57L600.20 422.42L601.20 421.23L601.70 420.79L602.20 420.50L602.70 420.39L603.20 420.49L603.70 420.81L604.20 421.35L604.70 422.08L605.20 423.00L605.70 424.08L606.45 425.98L607.70 429.83L608.70 434.28L611.20 448.23L613.95 462.08L614.70 465.12L615.45 467.43L616.45 470.02L617.20 471.47L617.70 472.12L618.20 472.46L618.70 472.47L619.20 472.25L619.70 471.85L620.20 471.30L622.20 468.55L622.95 467.66L623.70 467.06L624.20 466.90L624.45 466.91L624.95 467.17L625.70 468.10L628.20 472.92L628.70 473.64L629.20 474.10L629.70 474.28L630.45 474.26L631.20 474.03L633.45 472.95L634.20 472.80L634.70 472.83L635.20 473.00L635.95 473.45L637.95 475.14L638.70 475.69L639.45 476.05L639.95 476.13L640.45 476.06L640.95 475.79L641.45 475.08L642.20 473.19L642.95 470.52L644.45 463.87L645.20 459.98L647.20 445.76L647.95 441.38L648.95 437.38L649.70 435.15L650.20 434.16L650.45 433.84L650.70 433.65L650.95 433.60L651.20 433.72L651.45 433.98L651.95 434.88L654.20 441.01L655.70 445.57L655.95 446.10L656.20 446.46L656.45 446.60L656.95 446.43L657.20 446.24L657.70 445.69L658.45 444.53L660.20 441.17L660.95 439.87L661.45 439.17L664.20 436.01L665.20 435.06L665.70 434.69L666.20 434.43L666.70 434.27L667.20 434.25L667.70 434.38L667.95 434.55L668.45 435.10L669.20 436.36L669.95 437.98L671.95 442.72L673.20 445.12L675.45 449.70L676.20 450.94L676.70 451.57L677.20 452.00L677.70 452.20L678.20 452.20L678.95 451.96L679.45 451.67L680.20 451.07L681.20 450.06L683.70 447.26L685.70 445.40L689.20 441.84L690.70 440.53L691.95 439.71L692.70 439.37L693.45 439.15L694.45 439.00L695.45 438.96L696.70 439.04L698.45 439.29L699.20 439.46L699.95 439.73L700.95 440.25L701.95 440.93L703.20 442.01L703.95 442.82L704.45 443.53L705.20 444.79L707.20 448.63L707.95 449.95L708.95 451.34L709.70 451.97L710.20 452.14L710.45 452.13L710.70 452.07L711.20 451.80L711.95 451.13L713.95 448.89L714.45 448.49L714.95 448.24L715.45 448.21L715.95 448.36L716.45 448.65L717.20 449.31L717.95 450.20L718.70 451.25L720.70 454.44L721.70 456.70L723.95 462.74L724.70 464.23L725.20 464.88L725.45 465.07L725.95 465.27L726.45 465.31L726.95 465.25L727.70 464.97L729.45 464.01L730.20 463.66L730.95 463.48L731.70 463.55L732.20 463.82L732.95 464.52L735.45 467.65L736.20 468.28L736.70 468.48L737.20 468.47L737.70 468.30L738.20 468.01L738.70 467.61L739.70 466.57L742.45 463.19L743.20 462.44L743.70 462.04L745.95 460.87L747.70 460.10L749.20 459.62L750.70 459.39L751.70 459.42L752.70 459.63L752.95 459.77L753.45 460.24L753.95 460.93L754.45 461.78L756.45 465.85L757.20 467.19L757.95 468.14L758.20 468.34L758.70 468.56L759.70 468.73L760.95 468.64L762.20 468.35L764.95 467.51L766.20 467.29L767.70 467.23L771.20 467.28L772.95 467.16L773.95 466.98L774.70 466.76L775.20 466.42L775.70 465.80L775.95 465.39L776.45 464.36L777.20 462.28L777.70 460.29L779.95 448.24L785.20 423.83L788.20 408.42L788.95 404.99L789.45 403.00L790.20 400.60L790.70 399.45L791.20 398.61L791.95 397.75L793.70 396.33L794.20 395.73L794.70 394.92L795.20 393.80L795.70 392.30L796.20 390.40L796.70 388.14L797.95 381.15L798.70 376.18L798.95 374.04L800.20 360.57L801.70 345.60L802.95 334.15L803.70 329.10L804.45 325.38L804.95 323.37L805.45 321.81L805.70 321.22L806.20 320.45L806.45 320.30L806.70 320.30L806.95 320.52L807.20 320.97L807.70 322.51L808.45 325.96L809.70 333.12L810.20 337.44L810.95 345.45L811.45 349.87L811.70 351.31L811.95 352.00L812.20 351.79L812.45 350.53L812.95 345.53L814.20 327.64L814.70 322.40L815.45 317.02L815.95 314.02L816.45 311.81L816.70 311.07L816.95 310.62L817.20 310.50L817.45 310.79L817.70 311.51L817.95 312.58L819.70 323.60L821.45 332.87L821.95 334.92L822.20 335.66L822.45 336.14L822.70 336.36L822.95 336.42L823.20 336.37L823.70 335.99L824.45 334.92L825.95 332.34L826.45 331.74L827.70 330.54L828.20 330.32L828.45 330.35L828.70 330.50L829.20 331.24L829.70 332.46L830.20 334.05L831.70 339.68L832.45 342.86L834.45 352.28L836.45 360.23L836.95 362.01L837.45 363.48L837.95 364.49L838.20 364.78L838.45 364.91L838.70 364.85L838.95 364.62L839.20 364.24L839.70 363.16L841.20 359.03L841.70 358.04L842.45 357.11L843.20 356.41L843.70 356.16L843.95 356.13L844.45 356.28L844.70 356.48L845.20 357.14L845.70 358.13L846.20 359.41L846.70 360.96L847.20 362.82L848.20 367.62L850.45 379.78L850.95 382.01L852.95 389.73L853.70 392.00L854.20 393.08L854.45 393.45L854.70 393.69L854.95 393.80L855.20 393.73L855.45 393.46L855.70 392.99L855.95 392.33L856.45 390.49L856.95 388.02L857.45 385.00L857.95 381.43L858.20 379.04L858.70 372.82L859.20 364.96L859.70 355.51L861.20 317.30L862.20 298.08L862.70 291.64L862.95 289.94L863.45 287.78L863.70 286.96L864.20 285.76L864.45 285.34L864.95 284.80L865.45 284.53L866.45 284.26L866.70 284.24L867.20 284.34L867.70 284.59L868.20 284.99L868.95 285.80L870.70 288.02L871.20 289.01L871.45 289.77L871.95 292.02L872.20 293.60L872.45 296.78L873.20 313.78L874.20 328.69L874.95 337.39L875.20 339.33L875.45 340.60L875.70 341.16L875.95 341.50L876.45 341.94L876.95 342.13L877.45 342.09L878.20 341.74L879.95 340.30L880.70 339.80L881.20 339.62L881.45 339.60L882.20 339.71L882.95 339.98L883.70 340.37L884.95 341.20L885.95 341.95L886.20 342.39L887.20 344.86L887.45 345.27L887.70 345.44L887.95 345.29L888.20 344.75L888.45 343.21L888.70 339.01L889.45 320.27L889.95 311.24L890.45 303.70L890.70 301.11L891.20 298.35L891.70 296.79L891.95 296.38L892.20 296.18L892.45 296.18L892.70 296.36L893.20 297.22L893.95 299.45L895.45 305.21L897.45 315.02L898.20 318.28L900.45 326.02L901.20 328.23L901.95 330.03L902.45 330.92L902.95 331.52L903.20 331.70L903.45 331.72L903.70 331.54L903.95 331.19L904.45 330.11L905.45 327.31L905.95 326.09L907.70 322.53L908.20 321.80L908.45 321.58L908.70 321.48L908.95 321.52L909.20 321.74L909.70 322.68L910.20 324.10L911.70 329.45L912.45 332.42L914.20 340.21L914.70 342.18L915.20 343.84L915.70 345.12L916.20 346.09L916.70 346.85L918.20 348.72L918.70 349.50L920.45 352.61L921.70 355.22L922.20 356.48L922.45 357.36L923.45 362.13L923.95 364.14L924.20 364.77L924.45 365.05L924.70 364.90L924.95 364.05L925.20 362.40L925.70 357.47L926.70 346.15L926.95 344.09L927.20 342.70L927.70 340.96L928.20 339.67L928.70 338.77L928.95 338.45L929.45 338.05L929.95 337.89L930.45 337.94L930.70 338.09L931.20 338.66L931.95 339.99L933.45 343.33L934.70 345.73L937.20 350.93L937.95 352.14L938.45 352.74L938.95 353.13L939.45 353.31L940.20 353.41L941.20 353.29L941.95 353.08L944.45 352.19L945.20 352.03L945.70 352.00L946.20 352.05L946.95 352.35L948.95 353.66L949.95 354.12L950.45 354.20L950.95 354.14L951.45 353.90L951.70 353.70L951.95 353.22L952.45 350.99L953.70 342.39L954.20 339.68L954.95 337.19L955.45 335.84L955.95 334.85L956.20 334.51L956.45 334.29L956.70 334.20L956.95 334.24L957.20 334.39L957.70 334.93L958.45 336.19L959.95 339.33L960.45 340.25L963.70 344.45L964.45 345.34L965.45 346.24L966.20 346.60L966.70 346.65L966.95 346.61L967.45 346.38L967.70 346.19L967.95 345.83L968.20 344.90L968.70 341.56L970.20 327.34L972.20 311.30L972.70 308.45L972.95 307.54L973.20 307.06L973.45 307.05L973.70 307.43L973.95 308.16L974.45 310.44L974.95 313.52L976.20 322.19L977.20 328.20L978.70 337.89L979.45 342.27L980.20 345.80L981.45 350.19L982.20 352.33L982.95 354.13L983.45 355.17L984.20 356.49L986.20 359.74L987.20 361.10L987.95 361.70L988.45 361.82L988.70 361.78L989.20 361.46L989.45 361.17L989.70 360.41L989.95 358.52L990.20 355.74L991.20 340.80L992.20 321.54L992.70 317.46L993.20 314.48L993.70 312.45L993.95 311.79L994.20 311.38L994.45 311.20L994.70 311.34L994.95 311.88L995.45 313.86L997.20 323.07L998.45 330.38L998.95 332.69L999.20 333.54L999.45 334.11L999.70 334.38L999.95 334.55L1000.45 334.73L1000.95 334.73L1001.45 334.57L1002.20 334.14L1004.20 332.59L1005.70 331.69L1007.70 330.12L1008.70 329.43L1009.45 329.06L1009.95 328.92L1010.45 328.89L1010.70 328.92L1010.95 329.05L1011.45 329.63L1011.95 330.58L1012.70 332.64L1013.20 334.40L1013.70 337.25L1014.95 346.39L1015.20 347.75L1015.45 348.72L1015.70 349.20L1015.95 349.35L1016.45 349.40L1016.70 349.32L1017.20 348.97L1017.95 348.09L1019.70 345.39L1020.45 344.42L1023.70 341.55L1024.70 340.76L1025.45 340.30L1025.95 340.07L1026.45 339.92L1026.95 339.85L1027.45 339.89L1027.70 339.99L1028.20 340.59L1028.95 342.25L1030.45 346.47L1031.20 348.09L1032.45 350.43L1035.20 355.27L1036.95 357.78L1037.45 358.60L1038.20 360.25L1038.70 361.77L1039.20 363.88L1041.45 376.09L1041.95 378.19L1042.70 380.78L1043.70 383.71L1044.95 386.62L1046.20 388.98L1046.70 389.79L1047.20 390.41L1047.70 390.74L1047.95 390.77L1048.20 390.70L1048.45 390.50L1048.95 389.70L1049.70 387.80L1051.20 383.26L1051.70 382.07L1052.20 381.27L1052.70 380.72L1053.45 380.12L1054.20 379.69L1055.95 378.90L1056.95 378.24L1057.70 377.49L1058.45 376.39L1058.95 375.41L1059.70 373.64L1062.45 366.07L1064.70 360.79L1066.20 357.65L1066.95 356.44L1067.45 355.83L1067.95 355.35L1068.45 354.97L1069.20 354.62L1069.95 354.55L1070.45 354.70L1070.70 354.87L1071.20 355.38L1071.70 356.06L1073.20 358.50L1073.45 359.00L1074.45 361.83L1074.70 362.31L1074.95 362.53L1075.20 362.40L1075.45 361.82L1075.95 359.41L1078.95 338.60L1079.45 335.82L1079.70 334.80L1079.95 334.10L1080.70 332.98L1081.20 332.49L1081.70 332.17L1082.45 331.91L1084.20 331.73L1084.95 331.56L1088.20 329.97L1089.45 329.50L1090.45 329.31L1091.20 329.32L1091.70 329.44L1092.20 329.76L1092.70 330.39L1092.95 330.85L1093.45 332.14L1093.70 333.14L1093.95 334.68L1094.45 338.85L1095.45 348.31L1096.20 356.73L1096.45 358.25L1096.70 358.39L1096.95 357.45L1097.20 355.77L1098.20 346.53L1098.45 344.81L1098.95 342.87L1099.70 340.70L1100.45 339.20L1100.95 338.57L1101.45 338.24L1101.70 338.20L1101.95 338.28L1102.20 338.48L1102.45 338.78L1102.95 339.60L1104.20 342.04L1106.20 345.12L1106.70 345.63L1106.95 345.76L1107.95 345.83L1108.95 345.67L1109.95 345.33L1110.95 344.84L1112.20 344.02L1112.95 343.14L1114.70 340.18L1115.45 339.15L1116.45 338.15L1117.20 337.58L1117.70 337.40L1117.95 337.38L1118.45 337.55L1118.95 337.99L1119.45 338.67L1119.95 339.52L1120.70 341.02L1121.20 342.54L1122.45 347.13L1122.70 347.79L1122.95 348.24L1123.20 348.47L1123.70 348.74L1124.45 348.95L1125.20 349.00L1127.20 348.82L1127.95 348.84L1128.70 349.02L1129.20 349.26L1129.45 349.47L1130.20 350.50L1130.95 351.96L1132.70 355.77L1133.95 359.14L1134.70 360.73L1135.20 361.26L1135.95 361.62L1136.45 361.71L1137.95 361.81L1138.70 362.05L1139.45 362.65L1140.20 363.67L1140.70 364.57L1141.45 366.25L1142.20 368.28L1142.70 369.85L1143.20 372.33L1144.45 379.93L1144.70 380.94L1144.95 381.55L1145.20 381.72L1145.45 381.63L1145.70 381.38L1145.95 380.97L1146.45 379.78L1148.95 371.45L1151.45 362.41L1152.70 359.07L1153.20 357.98L1153.70 357.09L1154.20 356.46L1154.45 356.27L1155.20 355.90L1155.95 355.73L1156.70 355.68L1158.70 355.74L1161.20 356.13L1161.20 589.6Z" fill="#00c2f3"/>
<path d="M93.20 589.6L93.20 492.51L106.20 480.13L110.95 474.98L112.45 473.44L113.95 472.09L115.20 471.16L116.20 470.59L116.95 470.28L117.95 470.01L118.95 469.87L119.95 469.81L121.20 469.85L125.45 470.30L127.20 470.37L128.95 470.22L129.95 469.99L130.70 469.74L130.95 469.61L131.20 469.32L131.70 468.31L132.20 466.88L133.95 461.06L134.45 459.87L134.70 459.47L134.95 459.23L135.20 459.11L135.70 459.01L136.45 459.12L137.45 459.59L138.95 460.58L139.70 461.01L140.45 461.27L140.95 461.30L141.45 461.21L142.20 460.89L145.20 458.86L145.95 458.52L146.45 458.41L146.95 458.41L147.70 458.58L148.45 458.90L149.20 459.35L150.70 460.54L152.70 462.50L153.20 463.09L153.70 463.90L155.45 467.39L155.95 468.26L156.45 468.93L156.70 469.17L157.20 469.40L157.45 469.36L157.70 469.18L158.20 468.44L158.70 467.32L160.20 463.35L160.70 462.36L160.95 462.02L161.20 461.80L162.45 461.12L163.45 460.68L164.45 460.38L165.20 460.25L166.20 460.27L166.95 460.43L167.70 460.73L167.95 460.87L168.20 461.11L168.45 461.60L168.95 463.23L169.95 468.12L170.70 472.29L170.95 474.08L171.95 482.58L172.45 486.09L172.70 487.28L172.95 487.94L173.20 488.16L173.45 488.27L173.95 488.27L174.20 488.16L174.70 487.76L175.45 486.83L177.45 483.69L178.95 481.94L181.45 478.66L182.20 477.86L182.70 477.44L183.20 477.15L183.70 477.01L184.20 477.04L184.45 477.13L184.95 477.46L185.45 477.97L186.45 479.35L188.70 483.04L189.45 484.05L189.95 484.56L191.95 486.37L192.95 487.10L193.45 487.32L193.95 487.42L194.45 487.37L194.70 487.27L195.20 486.93L195.45 486.65L195.95 485.86L196.45 484.80L197.45 482.04L198.45 478.71L200.70 470.48L203.70 456.14L204.45 453.10L204.95 451.47L206.20 448.53L206.95 447.09L207.45 446.28L208.20 445.30L208.70 444.82L209.45 444.38L209.95 444.27L210.45 444.35L210.70 444.52L210.95 444.78L211.45 445.55L212.20 447.17L213.95 451.66L214.45 452.75L214.95 453.60L215.45 454.14L216.45 454.78L217.45 455.20L218.45 455.38L219.20 455.35L219.95 455.17L220.45 454.98L220.95 454.62L221.45 454.06L222.20 452.93L224.70 448.14L225.45 446.87L225.95 446.18L226.70 445.49L227.20 445.30L227.70 445.35L228.20 445.62L228.95 446.37L229.95 447.87L230.95 449.75L232.45 452.82L232.95 454.08L233.45 455.60L235.45 462.51L236.20 464.72L236.95 466.28L237.45 466.84L237.95 467.11L238.70 467.27L239.45 467.20L240.20 466.97L242.20 466.16L243.20 466.00L243.95 466.08L244.70 466.29L246.95 467.21L247.95 467.55L248.70 467.69L249.45 467.67L249.95 467.51L250.45 467.25L252.95 465.46L253.70 465.15L254.20 465.09L254.70 465.20L255.45 465.64L256.20 466.33L258.20 468.52L258.95 469.15L259.45 469.42L259.95 469.56L260.45 469.59L262.95 469.29L263.70 469.42L264.20 469.66L264.70 470.05L265.20 470.66L265.45 471.30L265.70 472.25L266.20 474.82L267.70 483.92L268.20 485.90L268.45 486.44L268.95 486.94L269.45 487.29L269.95 487.51L270.45 487.63L271.45 487.63L273.95 487.22L274.70 487.26L275.45 487.51L275.95 487.85L276.70 488.58L279.20 491.54L279.95 492.18L280.45 492.44L280.95 492.53L281.70 492.32L282.20 492.02L282.95 491.37L283.70 490.53L284.45 489.52L287.45 484.95L288.70 483.28L289.45 482.48L289.95 482.06L290.70 481.63L291.20 481.51L291.70 481.53L292.45 481.80L292.95 482.14L293.70 482.82L294.95 484.31L298.20 488.80L299.20 489.89L299.95 490.48L300.45 490.74L301.95 491.22L303.20 491.52L304.20 491.66L305.20 491.69L305.95 491.61L306.70 491.45L307.45 491.18L308.20 490.80L308.45 490.57L308.95 489.67L309.70 487.52L311.20 482.14L311.70 480.58L312.20 479.38L312.45 478.97L312.70 478.70L312.95 478.60L313.20 478.67L313.45 478.91L313.70 479.29L314.20 480.43L314.95 482.82L316.70 489.29L317.45 491.39L317.95 492.24L318.20 492.45L318.45 492.50L318.95 492.37L319.45 492.07L319.95 491.60L320.45 490.99L321.20 489.86L322.45 487.53L325.45 481.34L326.45 479.62L327.45 478.34L328.20 477.77L328.95 477.61L329.70 477.71L331.45 478.23L331.95 478.26L332.45 478.16L332.95 477.88L333.45 477.40L333.95 476.66L334.45 475.62L334.70 474.77L334.95 473.22L335.20 471.08L335.70 465.41L337.45 441.00L338.70 420.52L338.95 417.51L339.20 415.42L339.45 414.29L339.95 412.67L340.20 412.07L340.70 411.20L340.95 410.91L341.45 410.52L342.70 410.03L343.20 409.71L343.70 409.12L343.95 408.70L344.45 407.60L345.20 405.59L347.45 398.40L348.45 395.51L349.20 393.80L350.95 390.48L352.20 388.36L353.45 386.68L353.95 386.18L354.45 385.79L354.95 385.53L355.45 385.41L355.95 385.43L356.20 385.51L356.45 385.70L356.70 386.03L356.95 386.52L357.20 387.23L357.70 389.43L357.95 391.00L358.45 395.51L358.95 405.19L360.20 436.87L360.70 444.43L360.95 447.15L361.20 448.79L361.45 448.97L361.70 447.60L361.95 445.20L362.45 438.24L363.45 421.62L363.95 415.35L364.70 409.28L365.20 406.05L365.70 403.71L365.95 402.93L366.20 402.45L366.45 402.30L366.70 402.46L366.95 402.91L367.45 404.48L368.95 411.53L369.70 414.70L371.20 422.19L371.70 424.12L371.95 424.82L372.20 425.29L372.45 425.49L372.70 425.44L372.95 425.20L373.45 424.27L374.20 422.03L375.70 416.45L376.20 414.83L376.70 413.60L376.95 413.17L377.20 412.89L377.45 412.79L377.70 412.83L377.95 412.98L378.20 413.23L378.70 413.99L379.45 415.60L381.20 420.03L381.95 421.50L382.45 422.11L382.70 422.27L382.95 422.33L383.20 422.25L383.45 422.00L383.95 421.00L384.45 419.46L386.45 411.16L387.20 408.56L387.70 407.41L387.95 407.07L388.20 406.91L388.45 406.97L388.70 407.35L389.20 408.95L389.70 411.43L390.20 414.52L391.95 426.62L393.70 441.82L394.45 447.37L394.95 450.08L395.70 453.59L396.45 456.43L396.95 457.86L397.45 458.84L397.70 459.15L397.95 459.32L398.20 459.41L398.70 459.38L399.20 459.14L399.70 458.74L401.45 456.92L402.20 456.35L402.70 456.17L402.95 456.17L403.20 456.23L403.70 456.59L404.20 457.21L404.70 458.05L406.95 462.77L409.20 467.10L409.95 468.28L410.45 468.77L411.20 469.11L411.95 469.25L413.70 469.25L414.45 469.31L415.20 469.54L415.95 470.04L416.20 470.39L416.70 471.42L418.20 475.73L418.95 477.54L419.45 478.24L419.70 478.37L419.95 478.33L420.20 478.02L420.45 477.30L420.95 474.89L422.20 466.37L422.70 463.36L422.95 462.22L423.20 461.40L423.95 459.86L424.45 459.18L424.95 458.74L425.70 458.39L426.45 458.30L426.95 458.43L427.45 458.74L429.45 460.77L429.95 461.18L430.45 461.43L430.95 461.47L431.45 461.24L431.70 461.00L431.95 460.33L432.20 458.97L432.45 457.09L433.70 445.26L435.70 430.65L436.70 424.45L438.45 416.04L440.20 408.91L441.20 405.40L442.20 402.30L442.70 401.00L443.20 399.93L445.20 396.64L445.70 395.71L446.20 394.59L446.70 393.18L447.20 391.25L448.95 383.15L449.45 381.47L449.70 380.88L450.45 379.42L450.95 378.74L451.45 378.35L451.70 378.30L451.95 378.34L452.20 378.50L452.45 378.79L452.70 379.23L453.20 380.45L453.95 382.93L455.45 388.46L455.95 389.97L456.45 391.09L456.70 391.46L456.95 391.68L457.45 391.79L457.70 391.75L458.20 391.53L458.95 390.86L459.70 389.88L460.45 388.68L462.45 385.14L463.20 383.66L464.45 380.74L467.45 373.06L469.45 368.67L469.95 367.24L470.45 365.50L472.95 355.44L473.45 353.84L473.95 352.60L475.20 350.39L475.95 349.33L476.45 348.74L477.20 348.05L477.70 347.72L478.20 347.50L478.70 347.39L479.20 347.42L479.70 347.71L480.20 348.32L480.70 349.20L481.20 350.33L481.95 352.38L482.45 353.94L482.95 355.82L483.70 359.54L484.95 366.71L485.70 370.64L486.70 374.86L488.70 382.48L490.70 390.93L491.45 394.44L492.20 398.75L492.70 402.37L493.70 416.89L493.95 419.00L494.20 419.81L494.70 421.02L495.20 421.87L495.70 422.42L496.45 422.87L497.70 423.20L498.95 423.70L501.45 424.07L501.95 424.23L502.45 424.47L502.95 424.90L503.45 425.58L504.95 428.20L505.45 428.95L505.95 429.49L506.45 429.73L506.70 429.70L506.95 429.54L507.45 428.77L508.20 426.84L509.45 422.87L509.95 421.49L510.45 420.47L510.70 420.15L511.20 419.88L511.95 419.82L512.70 420.01L513.45 420.39L515.70 421.79L518.95 423.01L519.70 423.17L520.45 423.20L522.45 422.84L523.20 422.81L523.70 422.90L524.95 423.29L525.45 423.53L525.95 423.89L526.70 424.72L527.20 425.53L527.95 427.24L528.20 428.14L528.95 432.39L530.20 441.60L530.95 446.13L531.45 447.94L531.95 449.21L532.45 450.22L532.95 451.03L533.70 451.93L534.45 452.59L536.20 453.91L537.70 454.70L540.95 455.98L541.70 456.40L542.45 456.92L542.95 457.39L543.70 458.29L545.95 461.56L546.95 462.84L547.45 463.35L547.95 463.73L548.70 464.01L549.20 463.97L549.45 463.78L549.95 463.03L550.70 461.16L552.20 456.39L552.95 454.34L553.45 453.39L553.70 453.09L553.95 452.93L554.20 452.91L554.45 453.02L554.95 453.54L555.70 454.94L556.45 456.84L557.95 461.06L558.45 462.29L558.95 463.31L559.45 464.04L559.70 464.26L559.95 464.38L560.20 464.39L560.70 464.15L560.95 463.91L561.45 463.23L562.20 461.81L562.95 460.03L565.20 454.18L567.95 448.53L568.95 446.81L569.45 446.21L569.95 445.86L570.20 445.80L570.70 445.90L570.95 446.04L571.45 446.47L572.20 447.41L574.20 450.30L574.70 450.82L575.20 451.16L577.95 452.28L578.70 452.51L579.45 452.64L580.20 452.63L580.70 452.52L581.45 452.18L581.95 451.83L582.20 451.59L582.45 451.14L582.95 449.59L583.45 447.39L584.95 439.37L585.45 437.04L585.95 435.29L586.20 434.71L586.45 434.38L586.70 434.30L586.95 434.44L587.20 434.76L587.70 435.86L588.45 438.37L589.95 444.59L590.70 447.24L591.20 448.47L591.45 448.87L591.70 449.10L591.95 449.21L592.20 449.25L592.70 449.18L593.20 448.92L593.70 448.50L594.45 447.66L596.70 444.71L597.95 443.47L599.95 441.18L600.95 440.17L601.70 439.62L602.20 439.39L602.95 439.31L603.45 439.45L603.95 439.75L604.45 440.20L604.95 440.80L605.45 441.54L605.95 442.43L606.70 444.03L607.70 446.70L608.20 448.52L608.95 451.87L611.20 463.66L613.45 474.93L614.20 478.41L614.95 481.15L615.70 483.21L616.45 484.93L617.20 486.23L617.70 486.81L618.20 487.14L618.70 487.22L619.20 487.12L619.70 486.90L620.20 486.57L622.20 484.84L622.95 484.26L623.70 483.89L624.45 483.81L624.95 484.00L625.70 484.66L628.20 488.02L628.70 488.52L629.20 488.83L629.70 488.95L630.45 488.91L631.20 488.69L633.45 487.81L634.20 487.69L634.70 487.73L635.20 487.88L635.95 488.29L637.95 489.83L638.70 490.33L639.45 490.68L639.95 490.77L640.45 490.72L640.95 490.51L641.20 490.28L641.70 489.55L642.45 487.83L643.45 484.62L644.70 479.60L645.20 477.02L645.70 473.75L647.20 462.73L647.95 458.28L648.70 455.20L649.45 452.76L649.95 451.56L650.20 451.12L650.45 450.78L650.70 450.58L650.95 450.49L651.20 450.55L651.45 450.74L651.70 451.03L652.20 451.88L654.20 456.45L655.70 460.80L655.95 461.32L656.20 461.67L656.45 461.80L656.70 461.75L657.20 461.40L657.95 460.44L658.70 459.12L660.45 455.72L660.95 454.93L661.45 454.33L663.45 452.79L664.20 452.33L664.95 451.96L665.70 451.70L666.45 451.59L667.20 451.63L667.70 451.78L667.95 451.92L668.45 452.37L669.20 453.36L669.95 454.62L671.95 458.30L675.45 463.73L676.20 464.70L676.70 465.19L677.20 465.54L677.70 465.70L678.20 465.71L678.95 465.57L679.70 465.26L680.45 464.82L683.70 462.29L685.70 460.88L689.70 457.63L690.95 456.78L691.95 456.25L692.70 455.96L693.45 455.77L694.45 455.62L695.45 455.56L696.70 455.60L697.95 455.73L698.95 455.88L699.70 456.10L700.70 456.53L701.70 457.10L702.95 457.97L703.95 458.80L705.20 460.28L707.95 464.06L708.95 465.09L709.70 465.59L710.45 465.77L711.20 465.65L711.95 465.32L713.95 464.22L714.45 464.04L714.95 463.96L715.45 464.01L715.95 464.19L716.45 464.49L716.95 464.89L717.70 465.65L718.45 466.55L720.70 469.70L721.70 471.62L723.95 476.69L724.70 477.94L725.20 478.50L725.45 478.67L725.95 478.87L726.45 478.96L726.95 478.97L727.95 478.81L730.20 478.20L730.95 478.14L731.70 478.26L732.20 478.51L732.95 479.14L735.45 481.89L736.20 482.43L736.70 482.59L737.20 482.57L737.70 482.39L738.20 482.10L738.70 481.70L739.70 480.67L742.45 477.39L743.20 476.68L743.70 476.31L745.45 475.53L747.20 474.91L748.70 474.53L750.20 474.33L751.45 474.34L752.45 474.47L752.95 474.63L753.45 474.98L753.95 475.50L754.45 476.14L756.45 479.21L757.20 480.21L757.95 480.93L758.20 481.08L758.70 481.25L759.70 481.38L760.95 481.34L762.20 481.14L764.95 480.55L766.45 480.38L767.70 480.39L770.70 480.58L772.20 480.54L773.45 480.32L774.20 480.07L774.70 479.84L774.95 479.53L775.20 479.04L775.70 477.64L776.95 473.27L780.45 462.44L781.45 459.02L782.70 454.41L784.20 448.41L785.45 443.02L788.45 427.29L789.20 424.00L789.70 422.23L789.95 421.50L790.45 420.40L790.95 419.60L791.45 419.05L791.95 418.67L792.45 418.43L794.20 417.89L794.70 417.60L795.20 417.15L795.70 416.50L796.20 415.58L796.70 413.96L797.20 411.57L797.70 408.59L798.70 401.54L799.20 397.04L800.70 381.20L801.45 375.09L802.20 370.17L802.70 367.38L803.20 365.04L803.95 362.42L804.95 359.65L805.45 358.64L805.70 358.26L805.95 357.99L806.20 357.83L806.45 357.80L806.70 357.90L806.95 358.21L807.20 358.76L807.45 359.53L807.95 361.56L809.70 370.50L811.20 380.72L811.45 381.98L811.70 382.82L811.95 383.12L812.20 382.76L812.45 381.49L812.70 379.43L813.20 373.66L814.20 360.60L814.70 356.20L815.45 352.25L815.95 350.29L816.45 349.00L816.70 348.65L816.95 348.51L817.20 348.60L817.45 348.99L817.95 350.67L818.45 353.25L819.70 360.99L820.20 363.58L821.45 368.79L822.20 371.17L822.45 371.66L822.70 371.95L822.95 372.04L823.45 372.02L823.95 371.81L824.45 371.45L826.45 369.40L826.95 368.96L827.45 368.63L827.95 368.46L828.45 368.49L828.70 368.60L828.95 368.82L829.20 369.18L829.45 369.68L829.95 371.01L830.95 374.65L832.95 382.85L834.45 390.12L835.20 393.45L835.70 395.21L836.70 397.79L837.45 399.28L837.95 399.99L838.45 400.44L838.70 400.56L839.20 400.57L839.70 400.35L840.20 399.95L840.70 399.42L842.45 397.29L843.20 396.62L843.70 396.38L843.95 396.35L844.20 396.37L844.45 396.48L844.70 396.74L845.20 397.64L845.95 399.73L848.45 408.21L850.45 415.48L852.95 423.17L853.70 425.07L854.20 425.96L854.45 426.26L854.70 426.45L854.95 426.50L855.20 426.41L855.45 426.13L855.95 425.04L856.45 423.30L856.95 420.97L857.45 418.10L857.95 414.71L858.70 407.63L859.45 398.51L860.45 384.68L860.95 376.15L862.20 351.88L862.70 344.67L862.95 342.29L863.70 337.07L864.20 334.48L864.70 332.51L865.20 331.09L865.70 330.14L866.20 329.57L866.70 329.32L867.20 329.33L867.45 329.42L867.95 329.77L868.70 330.67L869.45 331.94L870.20 333.51L870.70 334.72L871.20 336.43L871.70 338.84L872.45 343.95L872.95 348.82L874.20 368.94L874.70 375.71L874.95 378.02L875.45 381.60L875.95 383.85L876.20 384.47L876.45 384.73L876.70 384.84L877.20 384.94L877.70 384.89L878.45 384.61L880.45 383.55L881.20 383.38L881.70 383.45L882.20 383.72L882.70 384.16L884.95 386.92L885.70 387.60L886.20 387.84L886.70 387.86L887.20 387.59L887.45 387.33L887.70 386.47L888.20 382.79L889.45 369.75L891.45 352.77L891.95 349.76L892.20 348.75L892.45 348.16L892.70 347.99L892.95 348.13L893.20 348.53L893.45 349.17L893.95 350.97L895.95 359.95L897.45 367.58L898.20 370.82L900.20 377.05L900.95 379.01L901.70 380.54L902.20 381.24L902.70 381.63L902.95 381.70L903.20 381.67L903.70 381.31L904.20 380.62L904.70 379.68L906.95 374.19L907.70 372.67L908.20 371.95L908.70 371.55L908.95 371.50L909.20 371.58L909.45 371.79L909.95 372.57L910.45 373.70L911.95 378.00L912.70 379.89L913.95 382.29L916.95 387.63L921.95 396.91L922.45 398.01L923.70 401.63L923.95 402.13L924.20 402.44L924.45 402.51L924.70 402.30L924.95 401.58L925.20 400.25L925.70 396.33L926.70 387.34L926.95 385.67L927.20 384.50L927.70 382.94L928.45 381.22L928.95 380.45L929.20 380.18L929.70 379.81L930.20 379.70L930.45 379.73L930.70 379.86L931.20 380.37L931.95 381.59L933.70 384.96L936.45 388.82L937.70 390.30L938.45 390.94L939.20 391.34L940.45 391.69L941.70 391.86L943.20 391.91L946.20 391.80L948.20 391.99L949.20 391.98L949.95 391.80L950.45 391.57L951.20 391.03L951.70 390.50L951.95 390.00L952.45 387.97L953.70 380.40L954.20 377.88L955.20 374.36L955.70 372.90L956.20 371.83L956.45 371.50L956.70 371.32L956.95 371.30L957.20 371.38L957.45 371.53L957.95 372.01L958.70 373.09L960.45 376.01L961.95 377.84L963.95 380.64L964.95 381.86L965.70 382.54L966.45 382.92L966.95 382.97L967.20 382.92L967.70 382.68L967.95 382.36L968.20 381.49L968.45 380.11L968.95 376.27L970.20 365.30L971.70 355.77L972.45 351.91L972.70 351.04L972.95 350.46L973.20 350.20L973.45 350.32L973.70 350.80L974.20 352.71L974.70 355.52L975.95 363.91L976.45 366.76L978.70 377.46L979.45 380.55L979.95 382.32L981.20 385.79L981.95 387.48L982.70 388.93L983.70 390.55L984.95 392.25L986.45 394.47L987.45 395.65L987.95 396.01L988.20 396.11L988.70 396.14L989.20 395.90L989.45 395.66L989.70 394.97L989.95 393.22L990.20 390.68L992.20 365.20L992.70 360.09L993.20 357.19L993.70 355.27L993.95 354.67L994.20 354.34L994.45 354.28L994.70 354.52L994.95 355.07L995.45 356.89L997.20 365.14L998.45 371.79L998.95 373.90L999.20 374.68L999.45 375.21L999.95 375.67L1000.45 375.92L1000.95 376.03L1001.45 376.03L1001.95 375.93L1002.70 375.64L1004.70 374.60L1005.20 374.28L1005.95 373.55L1008.20 370.56L1009.20 369.42L1009.70 369.02L1010.20 368.77L1010.70 368.71L1010.95 368.86L1011.45 369.60L1011.95 370.80L1013.20 374.99L1013.70 377.64L1014.95 385.73L1015.20 386.90L1015.45 387.72L1015.70 388.10L1015.95 388.19L1016.45 388.11L1016.95 387.75L1017.45 387.15L1018.20 385.95L1020.20 382.26L1021.70 380.19L1024.20 376.35L1025.20 375.06L1025.95 374.33L1026.70 373.88L1027.20 373.78L1027.45 373.79L1027.70 373.88L1027.95 374.11L1028.45 374.91L1028.95 376.09L1031.20 383.22L1031.70 384.57L1032.20 385.69L1033.70 388.79L1035.95 393.10L1036.45 394.01L1038.20 396.80L1038.70 397.78L1039.20 398.96L1039.70 400.50L1039.95 401.53L1041.20 407.75L1041.70 409.91L1042.45 412.22L1043.20 414.17L1044.45 416.80L1045.70 418.80L1046.45 419.85L1046.95 420.41L1047.45 420.77L1047.70 420.86L1047.95 420.87L1048.45 420.65L1048.95 420.15L1049.45 419.43L1050.20 418.03L1052.70 412.66L1058.20 403.45L1063.70 393.21L1064.70 391.63L1066.70 388.94L1067.70 387.75L1068.45 387.05L1069.20 386.58L1069.95 386.40L1070.45 386.56L1070.95 386.95L1071.45 387.51L1073.20 389.80L1073.45 390.17L1074.45 392.27L1074.70 392.57L1074.95 392.64L1075.20 392.40L1075.45 391.69L1075.70 390.46L1077.20 379.17L1078.70 371.05L1079.20 368.89L1079.70 367.43L1079.95 367.05L1080.20 366.86L1080.70 366.63L1081.20 366.56L1081.95 366.69L1083.95 367.57L1084.45 367.73L1084.95 367.80L1085.45 367.76L1086.20 367.58L1088.95 366.39L1089.70 366.15L1090.20 366.07L1090.95 366.09L1091.45 366.29L1091.95 366.75L1092.20 367.11L1092.95 368.68L1093.45 370.22L1093.70 371.31L1094.20 374.87L1094.95 381.30L1095.95 388.51L1096.20 389.90L1096.45 390.66L1096.70 390.54L1096.95 389.62L1097.20 388.11L1098.20 380.12L1098.45 378.62L1098.95 376.89L1099.70 374.92L1100.45 373.53L1100.95 372.94L1101.45 372.64L1101.70 372.59L1101.95 372.62L1102.45 372.88L1103.20 373.62L1104.70 375.58L1105.20 376.12L1107.70 378.20L1108.95 379.07L1109.70 379.46L1110.20 379.65L1111.70 380.00L1112.45 380.07L1112.95 380.02L1113.45 379.87L1113.95 379.59L1114.20 379.33L1114.95 378.06L1116.45 374.56L1117.20 373.04L1117.70 372.36L1117.95 372.17L1118.20 372.08L1118.45 372.16L1118.70 372.38L1119.20 373.16L1120.70 376.52L1121.20 377.89L1122.20 381.04L1122.70 382.22L1122.95 382.58L1123.20 382.75L1123.70 382.95L1124.45 383.09L1125.20 383.10L1127.20 382.87L1127.95 382.85L1128.95 383.04L1129.45 383.32L1129.95 383.86L1130.45 384.60L1133.95 390.90L1134.70 392.06L1135.20 392.58L1135.95 393.10L1137.70 393.84L1138.45 394.26L1138.95 394.65L1139.45 395.20L1139.95 396.00L1140.45 397.01L1141.95 400.68L1143.70 406.98L1144.20 408.53L1144.70 409.61L1144.95 409.91L1145.20 410.02L1145.45 409.99L1145.70 409.82L1145.95 409.55L1146.45 408.73L1148.20 404.64L1149.45 402.10L1149.95 400.81L1150.45 399.02L1150.70 397.87L1151.95 391.17L1152.45 388.93L1153.20 386.79L1153.95 385.29L1154.45 384.58L1154.95 384.10L1155.45 383.84L1156.20 383.58L1157.20 383.36L1158.20 383.24L1161.20 383.14L1161.20 589.6Z" fill="#b8addf"/>
<path d="M93.20 589.6L93.20 496.20L99.95 489.60L106.45 483.62L112.20 477.69L113.95 476.18L115.45 475.18L116.45 474.72L117.20 474.50L118.20 474.34L119.20 474.30L121.20 474.48L125.70 475.39L127.45 475.62L128.45 475.65L129.45 475.58L130.45 475.40L130.95 475.22L131.20 474.94L131.45 474.51L131.95 473.25L133.70 467.24L134.20 465.82L134.70 464.87L134.95 464.63L135.20 464.52L135.70 464.46L136.20 464.53L136.95 464.87L139.45 466.72L140.20 467.13L140.70 467.28L141.45 467.29L142.20 467.15L144.95 466.14L146.20 465.87L146.70 465.88L147.45 466.01L148.20 466.24L148.95 466.57L149.95 467.14L150.95 467.84L152.95 469.55L153.70 470.59L155.20 473.35L155.95 474.58L156.45 475.16L156.70 475.36L156.95 475.48L157.20 475.51L157.45 475.45L157.70 475.25L158.20 474.53L158.70 473.49L160.20 469.89L160.70 469.00L160.95 468.69L161.20 468.50L163.20 467.59L164.20 467.27L164.95 467.13L165.70 467.08L166.45 467.14L167.20 467.33L167.70 467.54L167.95 467.67L168.20 467.90L168.45 468.39L168.95 470.00L169.45 472.26L170.70 479.02L172.20 490.60L172.70 493.21L172.95 493.84L173.45 494.20L173.95 494.26L174.45 494.09L174.95 493.74L175.70 492.94L177.45 490.64L178.95 488.97L181.20 485.89L181.95 484.98L182.45 484.48L182.95 484.10L183.45 483.87L183.95 483.80L184.20 483.83L184.70 484.06L185.20 484.46L185.70 485.01L186.45 486.03L188.70 489.51L189.70 490.70L191.70 492.32L192.70 492.99L193.20 493.22L193.70 493.36L194.45 493.33L194.95 493.13L195.20 492.96L195.70 492.39L196.45 491.08L197.20 489.31L198.20 486.50L200.70 478.87L203.45 468.59L204.45 465.33L205.20 463.48L206.45 461.00L207.45 459.30L208.20 458.28L208.95 457.56L209.45 457.28L209.95 457.17L210.20 457.19L210.45 457.27L210.70 457.44L211.20 458.07L211.70 459.00L213.95 464.53L214.45 465.57L214.95 466.36L215.45 466.82L216.20 467.22L216.95 467.45L217.95 467.52L218.70 467.39L219.45 467.12L220.45 466.54L220.95 466.08L221.45 465.44L222.20 464.24L224.45 459.89L225.45 458.20L225.95 457.54L226.45 457.05L226.95 456.76L227.20 456.71L227.70 456.80L228.20 457.13L228.70 457.66L229.20 458.36L230.20 460.12L232.45 464.68L233.45 467.34L235.20 473.06L235.95 475.26L236.70 476.93L237.20 477.63L237.70 477.97L238.20 478.17L238.70 478.25L239.20 478.25L240.20 478.04L242.45 477.26L243.20 477.11L243.70 477.09L244.95 477.27L247.95 478.12L249.20 478.20L249.70 478.09L250.45 477.70L252.20 476.35L252.95 475.86L253.70 475.59L254.20 475.59L254.70 475.76L255.45 476.32L256.20 477.12L258.20 479.50L258.70 479.97L259.20 480.30L259.70 480.47L260.45 480.49L261.20 480.32L262.45 479.92L263.20 479.78L263.95 479.85L264.45 480.06L264.95 480.45L265.20 480.75L265.45 481.32L265.70 482.18L266.20 484.51L267.45 491.53L267.95 493.73L268.20 494.49L268.45 494.95L268.95 495.36L269.45 495.64L270.20 495.89L270.95 495.97L271.70 495.93L273.95 495.64L274.70 495.65L275.20 495.75L275.70 495.93L276.45 496.38L278.70 498.24L279.70 498.91L280.20 499.13L280.70 499.23L281.45 499.13L281.95 498.90L282.45 498.56L282.95 498.14L283.70 497.35L284.95 495.75L287.70 491.89L288.95 490.43L289.70 489.76L290.20 489.43L290.95 489.14L291.45 489.10L291.95 489.20L292.45 489.40L292.95 489.72L293.70 490.35L294.95 491.73L297.95 495.51L298.95 496.53L299.70 497.10L300.20 497.36L300.70 497.52L302.95 497.96L304.45 498.05L305.95 497.91L306.95 497.66L307.95 497.28L308.45 496.96L308.70 496.66L309.45 495.18L311.20 490.38L311.70 489.17L312.20 488.26L312.45 487.95L312.70 487.76L312.95 487.70L313.20 487.78L313.45 488.00L313.70 488.35L314.20 489.38L314.95 491.52L316.70 497.28L317.45 499.13L317.95 499.87L318.20 500.05L318.45 500.10L318.95 499.98L319.45 499.70L319.95 499.28L320.95 498.05L322.20 496.02L325.20 490.56L326.20 489.09L326.70 488.50L327.20 488.03L327.95 487.60L328.45 487.50L328.95 487.50L329.95 487.76L331.95 488.60L332.95 488.78L333.45 488.74L333.95 488.57L334.45 488.25L334.70 487.92L334.95 487.23L335.45 484.81L335.95 481.16L336.45 476.42L336.70 473.33L337.20 460.40L337.70 451.52L338.45 441.09L338.95 436.08L339.20 434.45L339.45 433.43L339.95 431.84L340.70 430.20L341.45 429.17L342.70 427.97L343.20 427.40L343.95 426.16L345.20 423.09L347.70 416.07L348.45 414.26L348.95 413.24L350.70 410.43L351.95 408.81L352.70 408.10L353.20 407.76L353.70 407.55L354.20 407.47L355.20 407.59L355.70 407.82L356.20 408.43L356.45 408.96L356.95 410.59L357.20 411.75L357.70 414.90L357.95 417.39L358.45 425.43L359.70 453.36L360.20 463.18L360.95 473.13L361.20 474.96L361.45 475.34L361.70 474.18L362.20 469.34L363.70 447.11L364.45 438.77L365.45 429.28L365.95 426.26L366.20 425.43L366.45 425.10L366.70 425.20L366.95 425.63L367.20 426.34L367.70 428.39L368.95 434.95L369.70 438.30L371.20 445.59L371.70 447.44L371.95 448.11L372.20 448.57L372.45 448.79L372.70 448.76L372.95 448.53L373.20 448.13L373.70 446.91L374.20 445.26L375.95 438.66L376.45 437.25L376.95 436.38L377.20 436.18L377.45 436.13L377.70 436.21L377.95 436.39L378.45 437.02L379.20 438.46L380.95 442.77L381.70 444.35L382.20 445.12L382.45 445.38L382.70 445.55L382.95 445.61L383.20 445.56L383.45 445.36L383.70 445.01L383.95 444.54L384.45 443.27L386.45 436.39L387.20 434.25L387.70 433.31L387.95 433.04L388.20 432.92L388.45 432.97L388.70 433.23L388.95 433.67L389.45 435.07L390.20 438.20L390.95 442.18L391.95 448.49L393.70 464.42L394.45 470.44L395.20 474.79L395.95 478.61L396.70 481.67L397.20 483.13L397.45 483.64L397.70 483.99L397.95 484.16L398.20 484.23L398.70 484.19L399.45 483.79L399.95 483.36L401.70 481.58L402.20 481.19L402.70 480.95L403.20 480.90L403.95 481.05L404.45 481.25L405.20 481.67L406.45 482.65L407.70 483.92L408.20 484.70L409.70 487.54L410.45 488.62L410.95 489.09L411.70 489.64L414.70 491.22L415.45 491.78L415.95 492.27L416.70 493.53L417.95 496.37L418.70 497.80L419.20 498.38L419.45 498.51L419.70 498.51L419.95 498.36L420.20 497.92L420.70 496.11L421.20 493.45L422.20 487.34L422.70 484.80L422.95 483.85L423.20 483.20L423.45 482.74L423.95 482.07L424.45 481.66L424.95 481.45L425.70 481.41L426.70 481.58L427.45 482.09L429.45 484.31L430.20 484.91L430.70 485.09L430.95 485.08L431.45 484.86L431.70 484.63L431.95 483.90L432.20 482.40L433.45 470.31L433.70 468.36L434.95 461.87L435.70 458.74L436.20 457.00L436.70 455.56L437.45 453.89L438.20 452.51L439.20 451.00L440.45 449.50L442.45 447.45L442.95 447.06L444.45 446.18L445.20 445.52L445.95 444.41L446.45 443.33L446.70 442.58L447.20 440.28L448.95 428.77L449.45 426.12L450.70 421.60L451.20 420.30L451.45 419.83L451.70 419.52L451.95 419.38L452.20 419.44L452.45 419.67L452.95 420.51L453.70 422.49L455.45 428.41L455.95 429.90L456.45 431.09L456.95 431.85L457.70 432.45L458.45 432.87L459.20 433.12L459.95 433.21L460.70 433.14L461.45 432.93L462.45 432.45L462.95 432.06L463.95 430.90L465.20 428.82L466.70 425.61L467.95 422.43L468.95 418.92L471.70 407.44L472.45 404.88L473.20 402.94L474.70 399.79L475.45 398.52L476.20 397.47L476.95 396.66L477.45 396.26L478.20 395.90L478.70 395.83L479.20 395.92L479.45 396.05L479.95 396.50L480.20 396.83L480.70 397.74L480.95 398.33L481.45 399.83L481.95 402.05L482.45 404.93L484.70 420.66L485.20 423.60L485.70 425.91L487.20 431.64L488.45 435.45L488.95 436.65L489.45 437.64L489.95 438.41L490.70 439.36L491.70 440.41L492.95 441.46L493.95 442.15L496.45 443.71L497.20 444.07L497.95 444.34L501.45 445.21L502.20 445.52L502.70 445.80L503.45 446.62L504.95 448.92L505.45 449.56L505.95 450.00L506.45 450.16L506.70 450.10L506.95 449.92L507.45 449.15L508.20 447.26L509.45 443.43L509.95 442.08L510.45 441.07L510.70 440.73L511.20 440.40L511.95 440.26L512.70 440.32L513.45 440.52L515.95 441.41L519.20 442.01L520.45 442.10L522.45 441.88L523.20 441.89L524.45 442.25L525.45 442.74L526.20 443.33L526.95 444.19L527.70 445.41L528.20 446.62L528.70 448.99L530.20 459.40L530.70 462.29L530.95 463.35L531.20 464.13L531.95 465.94L532.70 467.47L533.45 468.75L534.20 469.80L534.95 470.63L535.70 471.25L536.45 471.70L537.20 472.03L537.95 472.26L541.20 472.91L541.95 473.17L542.70 473.55L543.95 474.57L546.45 477.08L547.20 477.68L547.95 478.08L548.45 478.21L548.95 478.21L549.20 478.14L549.45 477.95L549.70 477.65L550.45 476.21L552.20 471.46L552.95 469.73L553.45 468.95L553.70 468.72L553.95 468.61L554.20 468.62L554.45 468.75L554.95 469.30L555.70 470.69L556.45 472.53L557.95 476.55L558.45 477.72L558.95 478.66L559.45 479.31L559.70 479.51L559.95 479.60L560.20 479.58L560.45 479.47L560.70 479.28L561.20 478.68L561.95 477.31L562.70 475.56L564.70 470.36L565.70 468.27L567.20 466.08L568.20 464.83L568.95 464.15L569.70 463.80L570.20 463.79L570.45 463.87L571.20 464.36L571.95 465.14L573.95 467.60L574.70 468.28L575.20 468.57L577.95 469.65L579.45 470.04L580.20 470.09L580.70 470.04L581.45 469.83L581.95 469.59L582.20 469.41L582.45 469.05L582.70 468.49L583.20 466.91L584.95 459.23L585.70 456.50L586.20 455.40L586.45 455.14L586.70 455.12L586.95 455.29L587.20 455.63L587.70 456.75L588.45 459.25L589.95 465.29L590.45 467.06L590.95 468.45L591.20 468.96L591.45 469.31L591.70 469.50L591.95 469.56L592.45 469.46L592.70 469.32L593.20 468.87L594.20 467.48L595.95 464.43L596.95 462.95L599.20 460.76L599.95 460.14L600.70 459.63L601.45 459.25L601.95 459.08L602.70 458.99L603.20 459.05L603.70 459.25L604.20 459.58L604.70 460.05L605.45 460.98L606.20 462.17L607.20 464.12L607.70 465.33L608.45 467.71L609.20 470.61L611.95 482.32L613.95 491.64L614.70 494.55L615.70 497.20L616.70 499.17L617.20 499.89L617.70 500.41L618.20 500.73L618.45 500.79L619.20 500.77L619.95 500.53L622.45 499.07L623.20 498.74L623.70 498.61L624.45 498.61L624.95 498.73L625.70 499.11L628.20 500.96L629.20 501.44L629.70 501.54L630.45 501.55L633.20 501.09L633.95 501.06L634.45 501.11L634.95 501.25L635.70 501.62L638.20 503.43L638.95 503.87L639.45 504.08L640.20 504.20L640.70 504.13L641.20 503.86L641.45 503.62L642.20 502.46L642.70 501.36L643.20 500.02L644.20 496.72L644.95 493.64L645.70 488.63L647.20 476.32L647.70 473.01L647.95 471.73L648.45 469.91L649.20 468.07L649.45 467.66L649.95 467.10L650.20 466.94L650.70 466.85L650.95 466.89L651.20 467.04L651.45 467.32L651.95 468.21L654.20 474.11L655.70 478.56L655.95 479.08L656.20 479.44L656.45 479.60L656.70 479.57L657.20 479.29L657.95 478.43L658.70 477.20L660.45 473.98L660.95 473.22L661.45 472.64L663.20 471.35L664.70 470.57L665.95 470.23L666.70 470.19L667.20 470.24L667.70 470.36L668.20 470.65L668.70 471.09L669.45 471.98L671.95 475.79L673.20 477.55L675.20 480.69L676.20 482.01L676.95 482.69L677.45 482.95L677.95 483.01L678.70 482.88L679.70 482.38L680.70 481.59L684.95 477.33L686.45 475.48L689.95 470.55L690.95 469.35L691.70 468.61L692.70 467.90L694.20 467.33L695.20 467.10L695.95 467.01L697.45 467.02L698.70 467.25L699.70 467.71L700.95 468.63L702.45 470.05L703.70 471.31L704.45 472.22L707.20 476.41L707.95 477.46L708.70 478.33L709.45 478.95L710.20 479.24L710.70 479.23L711.20 479.08L711.95 478.68L713.95 477.32L714.45 477.09L714.95 476.98L715.45 477.02L715.95 477.18L716.45 477.46L716.95 477.84L717.70 478.56L718.45 479.43L720.70 482.55L721.45 483.95L723.45 488.46L724.20 489.93L724.95 490.99L725.20 491.22L725.70 491.47L726.45 491.59L727.20 491.49L727.95 491.25L730.20 490.33L730.95 490.17L731.70 490.19L732.20 490.37L732.95 490.89L734.95 492.85L735.70 493.47L736.45 493.85L736.70 493.90L737.20 493.87L737.95 493.60L738.95 492.94L739.95 492.04L742.45 489.53L743.20 488.91L743.95 488.44L746.20 487.50L747.95 486.92L749.70 486.55L751.20 486.46L752.70 486.62L752.95 486.73L753.45 487.11L753.95 487.67L754.45 488.38L756.95 492.52L757.70 493.42L758.20 493.79L758.45 493.89L759.45 494.02L760.70 493.91L761.95 493.61L764.95 492.66L766.45 492.38L767.95 492.32L771.20 492.42L772.70 492.29L773.70 492.05L774.70 491.64L774.95 491.34L775.20 490.88L775.70 489.57L776.95 485.58L780.45 476.34L782.95 469.34L783.70 466.99L784.45 464.28L786.20 456.25L788.45 446.54L789.20 443.62L789.95 441.22L790.70 439.48L791.45 438.19L792.20 437.19L793.95 435.16L794.70 434.09L795.45 432.68L796.20 430.76L796.70 428.53L797.20 425.44L800.45 402.14L801.45 396.13L801.95 393.97L802.95 390.68L803.95 387.83L804.70 386.15L805.20 385.30L805.70 384.72L806.20 384.45L806.45 384.43L806.70 384.50L806.95 384.81L807.20 385.49L807.45 386.49L808.20 390.87L809.70 401.61L811.20 413.60L811.45 415.00L811.70 415.93L811.95 416.29L812.20 415.96L812.45 414.77L812.95 410.28L814.20 394.02L814.70 388.80L815.45 382.69L815.95 379.17L816.45 376.55L816.70 375.71L816.95 375.25L817.20 375.21L817.45 375.60L817.70 376.40L817.95 377.54L818.45 380.61L819.70 389.90L820.20 392.96L821.20 397.41L821.70 399.13L821.95 399.79L822.20 400.26L822.45 400.54L822.70 400.61L822.95 400.56L823.45 400.25L823.95 399.69L824.45 398.95L826.45 395.29L827.20 394.18L827.70 393.67L828.20 393.43L828.45 393.42L828.70 393.50L828.95 393.78L829.20 394.32L829.70 396.07L831.45 404.79L834.20 416.31L835.70 421.50L836.45 423.74L836.95 425.00L837.45 425.98L837.95 426.60L838.20 426.76L838.70 426.76L839.20 426.53L839.95 425.85L842.20 422.93L842.95 422.16L843.45 421.85L843.95 421.73L844.20 421.77L844.45 421.89L844.70 422.19L845.20 423.28L845.95 425.82L849.70 441.45L850.45 444.30L850.95 445.92L852.70 451.21L853.20 452.57L853.70 453.69L854.20 454.48L854.45 454.72L854.70 454.83L854.95 454.82L855.20 454.63L855.45 454.22L855.95 452.78L856.70 449.28L857.70 442.74L858.45 436.23L859.20 427.80L860.45 411.84L862.45 380.59L863.45 369.60L863.95 365.84L864.20 364.70L864.45 364.08L864.95 363.35L865.20 363.15L865.70 363.02L866.20 363.12L867.95 363.66L868.45 363.91L868.95 364.30L869.45 364.86L869.95 365.64L870.45 366.68L870.70 367.47L870.95 368.80L871.45 372.73L872.20 380.55L872.45 383.84L873.45 400.87L873.70 404.19L873.95 406.41L874.45 409.36L874.70 410.50L875.20 412.22L875.70 413.38L876.20 414.20L876.70 414.73L877.20 414.99L877.70 415.03L878.20 414.91L879.70 414.14L880.45 413.87L880.95 413.87L881.20 413.94L881.95 414.46L882.45 414.97L883.20 415.89L884.95 418.50L885.45 419.52L886.45 421.92L886.95 422.81L887.20 423.07L887.45 423.15L887.70 423.04L887.95 422.70L888.20 421.82L888.45 419.94L888.95 414.13L889.70 403.89L891.20 388.59L891.70 384.52L891.95 382.98L892.20 381.87L892.45 381.25L892.70 381.11L892.95 381.21L893.20 381.54L893.45 382.05L894.20 384.49L897.95 400.75L898.95 404.60L900.95 410.35L901.70 412.12L902.20 413.05L902.70 413.71L902.95 413.93L903.20 414.04L903.45 414.02L903.70 413.83L903.95 413.50L904.45 412.56L905.70 409.73L905.95 409.28L907.20 407.60L907.95 406.81L908.45 406.52L908.95 406.51L909.45 406.84L909.95 407.44L910.45 408.25L912.20 411.71L912.70 412.89L914.45 417.51L915.20 418.99L918.45 423.87L919.45 425.16L920.70 426.59L922.95 430.37L923.45 430.96L923.70 431.16L923.95 431.29L924.20 431.33L924.45 431.27L924.70 431.10L924.95 430.51L925.20 429.28L925.70 425.49L926.70 416.77L926.95 415.20L927.20 414.13L927.95 411.92L928.70 410.33L929.45 409.29L929.95 408.87L930.20 408.76L930.45 408.78L930.70 408.91L930.95 409.14L931.45 409.84L931.95 410.79L933.45 414.05L934.20 415.29L935.95 417.58L936.95 418.71L937.95 419.73L941.20 422.57L942.70 423.66L943.70 424.15L947.20 425.18L948.45 425.38L949.20 425.38L949.70 425.30L950.70 424.96L951.70 424.30L951.95 423.86L952.45 421.85L953.45 415.95L953.95 413.57L954.45 412.16L955.45 410.01L955.95 409.23L956.45 408.78L956.70 408.70L956.95 408.74L957.20 408.88L957.70 409.42L961.45 415.61L961.95 416.33L962.45 416.86L962.95 417.15L963.70 417.31L964.20 417.23L964.45 417.13L964.95 416.80L965.70 415.91L966.20 415.05L966.95 413.46L967.45 412.03L968.20 408.95L969.70 401.40L971.95 390.88L972.45 388.96L972.70 388.26L972.95 387.79L973.20 387.59L973.45 387.70L973.70 388.11L974.20 389.67L974.70 391.95L975.95 398.75L976.45 401.09L978.70 409.92L979.45 412.51L980.20 414.72L981.70 418.29L982.45 419.79L983.45 421.53L986.70 426.20L987.45 427.04L988.20 427.59L988.70 427.73L988.95 427.73L989.45 427.53L989.70 427.19L989.95 426.36L990.20 425.13L990.70 421.80L991.95 412.26L993.20 400.75L993.70 396.72L994.20 394.01L994.45 393.36L994.70 393.34L994.95 393.99L995.20 395.17L996.20 402.09L996.70 404.72L997.45 407.22L998.20 409.36L998.70 410.47L999.20 411.24L999.45 411.48L1000.20 411.80L1000.95 411.94L1001.70 411.94L1002.45 411.81L1003.20 411.56L1004.20 411.10L1004.95 410.63L1005.45 410.10L1006.20 408.98L1008.20 405.20L1009.20 403.57L1009.95 402.77L1010.45 402.52L1010.70 402.52L1010.95 402.75L1011.20 403.22L1011.70 404.70L1013.45 411.37L1014.70 416.89L1015.20 418.54L1015.45 419.05L1015.70 419.29L1016.20 419.36L1016.70 419.23L1017.20 418.93L1017.70 418.49L1018.45 417.66L1020.20 415.49L1021.70 413.90L1024.45 410.38L1025.45 409.35L1026.20 408.83L1026.70 408.64L1027.20 408.59L1027.45 408.68L1027.70 408.88L1028.20 409.60L1028.70 410.64L1030.70 415.76L1034.20 422.82L1035.45 425.00L1037.45 427.54L1037.95 428.34L1038.45 429.33L1038.95 430.63L1039.45 432.23L1041.70 440.53L1043.95 447.19L1044.95 449.66L1046.45 452.78L1047.20 454.01L1047.70 454.53L1047.95 454.66L1048.45 454.66L1048.95 454.44L1049.45 454.08L1049.95 453.58L1050.70 452.68L1052.70 450.01L1055.70 446.65L1057.20 444.68L1058.20 443.09L1058.95 441.57L1061.70 434.87L1062.70 432.80L1063.20 432.00L1063.95 431.00L1064.70 430.17L1065.45 429.49L1066.95 428.44L1068.45 427.66L1069.45 427.39L1069.95 427.37L1070.45 427.46L1070.95 427.72L1071.45 428.11L1073.20 429.87L1073.45 430.19L1074.45 431.98L1074.70 432.26L1074.95 432.35L1075.20 432.20L1075.45 431.72L1075.70 430.93L1076.45 427.26L1077.70 419.96L1078.70 412.73L1079.20 409.92L1079.45 409.08L1079.70 408.72L1080.45 408.21L1080.95 408.08L1081.70 408.10L1082.45 408.32L1083.95 408.91L1084.95 409.10L1085.45 409.06L1086.20 408.89L1088.70 407.90L1089.95 407.57L1090.95 407.59L1091.20 407.67L1091.70 408.09L1092.20 408.84L1092.70 409.90L1093.20 411.23L1093.70 412.88L1094.20 415.36L1095.70 424.24L1096.20 426.12L1096.45 426.60L1096.70 426.66L1096.95 426.12L1097.20 425.04L1098.45 416.51L1098.70 415.14L1098.95 414.20L1099.70 412.19L1100.45 410.77L1100.95 410.17L1101.20 409.97L1101.70 409.78L1101.95 409.78L1102.45 409.92L1103.20 410.40L1104.70 411.70L1105.20 412.06L1107.70 413.49L1108.95 414.08L1109.70 414.29L1110.20 414.36L1110.95 414.33L1111.70 414.20L1112.70 413.85L1113.45 413.45L1114.45 412.68L1114.95 412.14L1115.70 410.58L1117.20 406.70L1117.70 405.88L1117.95 405.66L1118.20 405.60L1118.45 405.73L1118.70 406.04L1119.20 407.04L1120.95 411.56L1122.20 415.09L1122.70 416.14L1122.95 416.48L1123.70 416.90L1124.45 417.10L1125.45 417.19L1127.70 417.16L1128.45 417.28L1129.20 417.55L1129.70 417.95L1130.20 418.53L1132.20 421.46L1133.70 423.17L1134.45 423.86L1134.95 424.18L1135.70 424.40L1137.45 424.46L1138.20 424.57L1138.95 424.91L1139.45 425.38L1139.70 425.75L1140.20 426.75L1141.20 429.48L1142.70 434.30L1143.95 439.81L1144.45 441.71L1144.70 442.36L1144.95 442.73L1145.20 442.79L1145.45 442.64L1145.95 441.93L1146.70 440.07L1149.45 431.39L1153.20 419.22L1153.70 417.80L1154.20 416.67L1154.70 415.90L1155.45 415.02L1156.20 414.38L1156.95 413.93L1157.70 413.66L1158.70 413.51L1159.70 413.50L1161.20 413.58L1161.20 589.6Z" fill="#ef476f"/>
<path d="M93.20 589.6L93.20 500.54L105.95 490.04L107.70 488.41L111.45 484.67L112.95 483.32L114.20 482.35L115.45 481.57L116.45 481.12L117.20 480.90L118.20 480.74L119.20 480.67L121.20 480.78L125.70 481.45L127.45 481.60L128.45 481.59L129.45 481.50L130.45 481.30L130.95 481.13L131.20 480.88L131.45 480.50L131.95 479.41L133.70 474.22L134.45 472.51L134.70 472.15L134.95 471.93L135.45 471.75L135.95 471.72L136.45 471.79L136.95 471.94L139.45 473.22L140.20 473.50L140.70 473.59L141.45 473.55L142.20 473.37L144.95 472.22L146.20 471.91L146.70 471.89L147.45 472.00L148.20 472.21L148.95 472.52L149.95 473.07L150.95 473.75L151.95 474.55L152.95 475.45L153.70 476.53L155.95 480.87L156.70 481.82L157.20 482.09L157.45 482.08L157.70 481.94L158.20 481.34L158.70 480.41L160.20 477.08L160.70 476.25L160.95 475.97L161.20 475.80L163.20 475.02L164.20 474.76L164.95 474.65L165.70 474.63L166.45 474.72L167.20 474.93L167.70 475.14L168.20 475.49L168.45 475.95L168.70 476.61L169.20 478.42L169.70 480.68L170.70 485.67L172.20 496.62L172.70 499.13L172.95 499.74L173.45 500.10L173.95 500.19L174.45 500.06L174.95 499.74L175.70 499.04L177.45 497.01L178.95 495.60L181.20 492.88L181.95 492.06L182.45 491.61L182.95 491.27L183.45 491.06L183.95 491.00L184.20 491.03L184.70 491.26L185.20 491.66L185.70 492.20L186.45 493.22L188.70 496.67L189.70 497.85L191.70 499.44L192.70 500.10L193.20 500.33L193.70 500.46L194.45 500.43L194.95 500.23L195.20 500.06L195.45 499.81L195.95 499.12L196.70 497.65L197.70 495.10L200.70 486.16L203.70 475.21L204.45 472.89L204.95 471.63L205.70 470.15L206.45 468.85L207.20 467.72L207.70 467.09L208.45 466.33L208.95 465.98L209.45 465.75L209.95 465.67L210.45 465.75L210.70 465.90L210.95 466.14L211.45 466.84L212.20 468.30L213.95 472.32L214.45 473.29L214.95 474.06L215.45 474.53L216.45 475.11L217.45 475.48L218.20 475.61L219.20 475.61L219.95 475.45L220.70 475.15L221.20 474.74L221.70 474.18L222.45 473.11L225.20 468.54L225.95 467.59L226.45 467.13L226.95 466.86L227.45 466.79L227.95 466.92L228.45 467.21L229.20 467.93L229.95 468.90L230.95 470.46L232.45 473.07L232.95 474.17L233.45 475.49L235.45 481.57L236.20 483.53L236.95 484.93L237.45 485.43L237.95 485.71L238.70 485.92L239.45 485.96L240.20 485.87L242.20 485.45L242.95 485.39L243.45 485.42L244.70 485.73L247.70 486.92L248.45 487.08L249.20 487.10L249.70 486.97L250.45 486.53L252.45 484.71L253.20 484.14L253.95 483.83L254.45 483.82L254.95 483.98L255.70 484.50L256.45 485.23L258.20 487.13L258.70 487.57L259.20 487.90L259.70 488.11L260.45 488.22L262.45 488.07L263.20 488.09L263.95 488.28L264.45 488.54L265.20 489.23L265.45 489.75L265.70 490.51L266.20 492.56L267.45 498.73L267.95 500.66L268.20 501.33L268.45 501.75L268.95 502.13L269.45 502.39L270.20 502.61L270.95 502.65L273.95 502.22L274.70 502.22L275.20 502.30L275.70 502.47L276.45 502.91L278.70 504.74L279.45 505.27L279.95 505.53L280.45 505.69L281.20 505.70L281.70 505.54L282.45 505.13L283.70 504.04L284.95 502.63L287.70 499.21L288.95 497.91L289.70 497.31L290.20 497.01L290.95 496.74L291.45 496.70L291.95 496.77L292.45 496.95L292.95 497.22L293.70 497.78L294.95 499.00L298.20 502.67L299.20 503.55L299.95 504.04L300.45 504.25L301.20 504.46L303.20 504.87L304.70 504.99L306.20 504.89L307.20 504.67L307.95 504.41L308.45 504.12L308.70 503.83L309.45 502.39L311.20 497.65L311.70 496.46L312.20 495.56L312.45 495.25L312.70 495.06L312.95 495.00L313.20 495.07L313.45 495.29L313.70 495.62L314.20 496.60L314.95 498.62L316.70 504.08L317.45 505.85L317.95 506.57L318.20 506.75L318.45 506.80L318.95 506.69L319.45 506.43L319.95 506.01L320.95 504.83L322.20 502.88L325.20 497.65L326.20 496.25L326.70 495.71L327.20 495.28L327.95 494.92L328.45 494.85L328.95 494.89L329.95 495.22L331.95 496.15L332.45 496.31L332.95 496.37L333.45 496.34L333.95 496.17L334.45 495.84L334.70 495.51L334.95 494.81L335.45 492.37L335.95 488.69L336.45 483.92L336.70 480.82L337.45 462.82L337.95 455.21L338.70 445.72L338.95 443.48L339.20 441.85L339.45 440.83L339.95 439.27L340.70 437.69L341.45 436.74L342.70 435.71L343.20 435.22L343.95 434.10L345.20 431.23L347.20 425.82L348.20 423.31L348.95 421.74L350.20 419.65L351.70 417.43L352.45 416.55L352.95 416.08L353.45 415.72L353.95 415.49L355.45 415.28L355.70 415.32L355.95 415.45L356.20 415.70L356.45 416.09L356.70 416.66L356.95 417.44L357.45 419.73L357.70 421.30L357.95 423.62L358.45 431.21L359.70 457.71L360.20 467.00L360.70 473.72L360.95 476.38L361.20 478.10L361.45 478.44L361.70 477.30L361.95 475.32L362.45 469.53L363.70 452.00L364.95 439.94L365.70 434.31L365.95 433.06L366.20 432.22L366.45 431.87L366.70 431.92L366.95 432.28L367.45 433.75L368.95 440.63L369.70 443.53L371.20 450.06L371.70 451.75L371.95 452.37L372.20 452.79L372.45 452.99L372.70 452.98L372.95 452.82L373.45 452.15L374.20 450.49L375.70 446.27L376.20 445.04L376.70 444.10L376.95 443.77L377.20 443.57L377.45 443.50L377.70 443.53L378.20 443.85L378.95 444.81L381.20 449.10L381.95 450.24L382.45 450.73L382.70 450.86L382.95 450.91L383.20 450.87L383.45 450.70L383.95 450.00L384.45 448.91L384.95 447.56L386.45 443.00L387.20 441.13L387.70 440.29L387.95 440.04L388.20 439.91L388.45 439.93L388.70 440.14L388.95 440.52L389.20 441.05L389.70 442.54L390.45 445.60L391.45 450.63L392.20 455.60L393.70 468.79L394.45 474.65L395.45 480.36L396.20 484.08L396.95 486.98L397.45 488.27L397.70 488.69L398.20 489.08L398.70 489.20L399.20 489.12L399.95 488.74L401.95 487.20L402.45 486.93L402.95 486.80L403.45 486.83L404.20 487.02L404.95 487.37L405.70 487.86L406.70 488.66L407.70 489.64L408.20 490.38L409.70 493.12L410.45 494.15L410.95 494.59L411.70 495.09L413.95 496.13L414.70 496.53L415.45 497.08L415.95 497.57L416.70 498.86L418.20 502.33L418.70 503.27L419.20 503.90L419.45 504.06L419.70 504.08L419.95 503.96L420.20 503.54L420.45 502.80L420.95 500.57L422.20 493.27L422.70 490.82L422.95 489.91L423.20 489.30L423.70 488.56L424.20 488.10L424.45 487.95L424.95 487.80L425.70 487.80L426.70 487.98L427.45 488.48L429.45 490.70L430.20 491.29L430.70 491.47L430.95 491.46L431.45 491.24L431.70 491.00L431.95 490.27L432.20 488.77L433.45 476.67L433.70 474.72L434.95 468.21L435.70 465.07L436.20 463.33L436.95 461.29L437.70 459.72L438.70 458.03L439.70 456.67L440.70 455.54L442.45 453.77L443.20 453.35L444.70 452.93L445.45 452.46L445.95 451.88L446.45 451.01L446.70 450.37L447.20 448.27L447.70 445.37L448.95 437.23L449.45 434.62L450.70 430.03L451.20 428.65L451.45 428.15L451.70 427.79L451.95 427.60L452.20 427.60L452.45 427.77L452.95 428.50L453.70 430.30L455.95 437.27L456.45 438.41L456.95 439.15L457.70 439.77L458.45 440.22L459.20 440.52L459.95 440.67L460.70 440.69L461.70 440.51L462.45 440.23L463.20 439.71L464.20 438.58L465.45 436.56L466.70 434.00L467.95 430.97L468.95 427.58L471.70 416.44L472.45 413.97L473.20 412.12L474.70 409.13L475.45 407.92L476.20 406.92L476.95 406.14L477.45 405.76L478.20 405.40L478.70 405.31L479.20 405.39L479.70 405.68L480.20 406.23L480.45 406.62L481.20 408.31L481.70 410.07L482.20 412.57L482.70 415.62L484.20 426.09L484.95 430.84L485.45 433.37L486.45 437.05L487.45 439.95L488.45 442.22L488.95 443.15L489.70 444.36L490.95 445.95L491.95 446.94L492.95 447.76L496.45 450.02L497.70 450.65L500.70 451.88L501.70 452.43L502.45 452.96L502.95 453.47L503.45 454.21L504.95 456.93L505.45 457.72L505.95 458.30L506.45 458.59L506.70 458.60L506.95 458.49L507.45 457.90L508.20 456.35L509.45 453.10L509.95 451.96L510.45 451.11L510.70 450.83L511.20 450.59L511.95 450.46L512.70 450.51L513.45 450.69L515.70 451.41L518.95 451.84L520.20 451.90L522.45 451.59L523.20 451.60L524.20 451.87L525.20 452.40L525.95 453.02L526.70 453.88L527.45 455.04L527.95 456.01L528.20 456.65L528.70 458.40L530.45 466.49L531.20 469.23L532.45 472.09L533.20 473.45L533.95 474.58L534.45 475.20L535.20 475.95L535.70 476.35L536.45 476.81L537.20 477.15L537.95 477.41L540.95 478.19L541.70 478.49L542.45 478.89L542.95 479.27L543.70 479.98L545.95 482.58L546.95 483.62L547.70 484.23L548.45 484.61L549.20 484.69L549.45 484.59L549.95 484.14L550.70 482.99L552.20 480.01L552.95 478.74L553.45 478.17L553.70 477.99L553.95 477.90L554.20 477.92L554.45 478.01L554.95 478.43L555.70 479.50L557.95 484.03L558.45 484.93L558.95 485.66L559.45 486.17L559.70 486.32L559.95 486.40L560.45 486.30L560.70 486.14L561.20 485.64L561.70 484.93L562.20 484.05L562.95 482.51L564.70 478.57L565.70 476.66L567.70 473.68L568.45 472.69L569.20 471.94L569.95 471.54L570.20 471.50L570.70 471.57L571.45 471.98L572.20 472.64L574.20 474.71L574.70 475.10L575.20 475.36L578.20 476.47L579.45 476.76L580.20 476.79L580.70 476.74L581.45 476.53L581.95 476.29L582.20 476.12L582.45 475.79L582.70 475.30L583.20 473.90L584.95 467.13L585.70 464.73L586.20 463.76L586.45 463.54L586.70 463.51L586.95 463.66L587.20 463.96L587.70 464.95L588.45 467.14L589.95 472.45L590.45 474.01L590.95 475.25L591.20 475.70L591.45 476.03L591.70 476.20L591.95 476.26L592.45 476.19L592.95 475.89L593.45 475.41L594.20 474.45L596.20 471.46L596.95 470.59L599.20 469.01L600.70 468.20L601.45 467.94L602.20 467.80L602.95 467.81L603.70 467.99L604.45 468.37L604.95 468.74L605.70 469.47L606.20 470.09L606.95 471.21L607.70 472.61L608.20 473.85L608.95 476.12L609.95 479.70L611.95 487.36L613.95 496.27L614.45 498.21L614.95 499.77L615.95 502.08L616.45 503.01L616.95 503.78L617.70 504.61L618.20 504.93L618.70 505.06L619.20 505.11L619.95 505.05L620.70 504.89L622.95 504.23L623.70 504.10L624.45 504.11L624.95 504.22L625.45 504.44L626.20 504.89L627.95 506.12L628.70 506.52L629.20 506.67L629.70 506.72L630.45 506.65L633.20 505.91L633.95 505.80L634.45 505.80L634.95 505.88L635.70 506.18L638.45 507.95L639.45 508.40L640.20 508.51L640.70 508.43L641.20 508.17L641.45 507.94L642.20 506.88L642.70 505.88L643.20 504.66L644.20 501.65L644.95 498.87L645.70 494.65L647.45 482.83L647.95 480.22L648.45 478.28L649.20 475.84L649.70 474.58L650.20 473.69L650.45 473.41L650.70 473.24L650.95 473.20L651.20 473.31L651.45 473.56L651.70 473.92L652.20 474.94L654.20 480.08L655.70 484.47L655.95 484.98L656.20 485.34L656.45 485.50L656.95 485.37L657.20 485.21L657.70 484.73L658.45 483.70L660.45 480.46L660.95 479.84L661.45 479.39L662.95 478.67L664.45 478.20L665.70 478.03L666.95 478.09L667.45 478.19L667.95 478.38L668.45 478.71L669.20 479.44L669.95 480.36L671.95 483.05L673.20 484.49L675.20 487.11L675.95 487.95L676.70 488.58L677.20 488.83L677.70 488.90L678.20 488.82L678.95 488.49L679.95 487.73L680.95 486.73L682.95 484.44L683.95 483.40L688.95 478.90L690.20 477.87L691.20 477.15L692.70 476.29L693.70 475.88L694.70 475.57L696.45 475.25L697.45 475.22L698.20 475.26L699.20 475.48L699.70 475.70L700.45 476.14L701.70 477.10L703.70 478.89L704.95 480.34L706.95 483.12L707.95 484.40L708.70 485.19L709.45 485.76L710.20 486.04L710.70 486.06L711.20 485.96L711.95 485.65L713.95 484.56L714.45 484.37L714.95 484.28L715.45 484.31L715.95 484.45L716.45 484.69L717.20 485.20L717.95 485.86L718.70 486.65L720.70 489.06L721.70 490.80L723.45 494.50L724.20 495.89L724.95 496.90L725.20 497.12L725.70 497.37L726.20 497.48L726.95 497.47L727.70 497.30L730.20 496.46L730.95 496.36L731.70 496.45L732.20 496.69L732.95 497.28L734.95 499.45L735.70 500.15L736.45 500.59L736.70 500.67L737.20 500.69L737.95 500.50L738.95 499.95L739.95 499.18L742.45 497.01L743.20 496.51L743.70 496.25L745.70 495.65L747.70 495.19L749.45 494.95L750.95 494.92L752.70 495.12L753.45 495.52L754.45 496.50L756.95 499.66L757.70 500.33L758.45 500.69L759.45 500.77L760.70 500.62L761.95 500.28L764.70 499.33L766.20 498.99L767.70 498.88L770.95 498.93L772.45 498.80L773.45 498.56L774.45 498.17L774.70 498.03L774.95 497.73L775.20 497.25L775.70 495.91L776.95 491.83L780.20 482.92L782.70 475.73L783.70 472.57L784.45 469.82L786.20 461.75L788.20 453.15L789.20 449.25L789.95 446.92L790.70 445.26L791.45 444.07L792.20 443.17L793.95 441.44L794.95 440.14L795.70 438.74L796.20 437.52L796.45 436.65L796.95 434.27L800.45 413.24L801.45 407.91L801.95 405.87L803.20 401.75L804.20 398.89L804.95 397.20L805.70 396.04L806.20 395.61L806.45 395.51L806.70 395.50L806.95 395.69L807.20 396.17L807.45 396.89L808.20 400.13L809.70 407.87L811.20 417.44L811.45 418.61L811.70 419.40L811.95 419.70L812.20 419.39L812.45 418.31L812.95 414.24L814.20 399.85L814.70 395.50L815.95 387.79L816.45 385.65L816.70 384.95L816.95 384.55L817.20 384.50L817.45 384.84L817.70 385.56L817.95 386.58L818.45 389.34L819.95 399.00L820.20 400.20L820.95 403.00L821.45 404.61L821.95 405.81L822.20 406.21L822.45 406.45L822.95 406.49L823.45 406.30L823.95 405.96L824.45 405.49L826.45 403.20L827.20 402.54L827.70 402.26L828.20 402.17L828.70 402.30L828.95 402.57L829.20 403.12L829.70 404.85L831.45 413.47L834.20 424.82L836.45 432.78L836.95 434.36L837.45 435.67L837.95 436.60L838.20 436.88L838.45 437.02L838.70 437.07L839.20 437.02L839.70 436.79L840.20 436.43L842.20 434.44L842.70 434.01L843.20 433.70L843.70 433.53L844.20 433.57L844.45 433.69L844.70 433.96L845.20 434.89L845.70 436.24L847.45 442.15L849.95 449.98L850.95 452.75L852.70 457.00L853.20 458.09L853.70 458.98L854.20 459.60L854.45 459.77L854.70 459.85L854.95 459.82L855.20 459.64L855.45 459.26L855.95 457.94L856.70 454.74L857.70 448.69L858.45 442.54L859.20 434.39L860.45 418.54L862.20 390.71L862.70 384.23L863.45 376.22L863.95 372.45L864.20 371.29L864.45 370.66L864.95 369.89L865.20 369.68L865.70 369.52L867.20 369.81L868.45 369.78L868.95 369.90L869.20 370.02L869.70 370.45L869.95 370.77L870.45 371.69L870.70 372.45L870.95 373.75L871.45 377.64L872.20 385.40L872.45 388.67L873.45 405.64L873.70 408.95L873.95 411.15L874.45 414.09L874.70 415.22L875.20 416.92L875.45 417.56L875.95 418.53L876.70 419.60L877.20 420.15L877.70 420.60L878.45 421.10L881.20 422.40L883.20 423.81L884.95 425.14L885.45 425.78L886.70 427.87L886.95 428.15L887.20 428.31L887.45 428.32L887.70 428.16L887.95 427.80L888.20 426.94L888.45 425.16L888.70 422.68L889.95 407.83L891.20 397.05L891.70 393.47L891.95 392.11L892.20 391.11L892.45 390.55L892.70 390.40L892.95 390.46L893.20 390.70L893.45 391.11L893.95 392.32L896.70 401.51L898.70 408.85L900.95 416.13L901.95 418.97L902.70 420.41L903.20 420.90L903.45 420.94L903.70 420.82L903.95 420.57L904.45 419.77L905.70 417.26L905.95 416.88L906.95 415.72L907.70 414.95L908.20 414.60L908.70 414.47L909.20 414.64L909.70 415.11L910.20 415.81L912.20 419.59L912.70 420.73L914.20 424.59L914.70 425.70L915.20 426.55L915.95 427.32L916.70 427.84L917.45 428.21L919.45 428.91L920.45 429.43L921.20 430.16L922.95 432.39L923.45 432.84L923.95 433.05L924.20 433.06L924.45 432.98L924.70 432.80L924.95 432.32L925.20 431.39L925.70 428.56L926.45 423.33L926.95 420.30L927.20 419.20L927.95 416.53L928.70 414.18L929.20 412.94L929.70 412.06L929.95 411.78L930.20 411.63L930.45 411.60L930.70 411.69L931.20 412.16L931.95 413.41L933.45 416.56L934.20 417.79L935.95 420.26L937.70 422.59L941.70 427.39L942.70 428.41L943.70 429.18L946.20 430.41L947.95 431.10L949.20 431.38L950.20 431.43L950.95 431.33L951.45 431.19L951.70 431.10L951.95 430.85L952.20 430.34L952.70 428.74L953.70 424.60L954.20 422.87L955.20 420.35L955.70 419.25L956.20 418.41L956.70 417.94L956.95 417.88L957.20 417.91L957.70 418.22L958.95 419.65L959.95 420.65L961.20 422.10L961.95 422.74L962.45 422.91L962.70 422.90L963.45 422.62L963.95 422.29L964.45 421.84L964.95 421.26L965.95 419.71L966.95 417.62L967.45 416.17L968.20 413.06L969.70 405.49L970.70 400.99L971.95 394.92L972.45 392.99L972.70 392.28L972.95 391.81L973.20 391.60L973.45 391.70L973.70 392.09L974.20 393.61L974.70 395.85L975.95 402.53L976.45 404.81L978.70 413.35L979.45 415.86L980.20 418.00L981.70 421.43L982.45 422.86L983.45 424.50L986.70 428.89L987.45 429.70L988.20 430.21L988.70 430.34L988.95 430.33L989.45 430.13L989.70 429.80L989.95 429.00L990.20 427.82L990.70 424.63L991.95 415.64L993.20 404.68L993.70 400.81L994.20 398.20L994.45 397.56L994.70 397.54L994.95 398.19L995.20 399.37L996.20 406.28L996.70 408.90L997.70 412.15L998.45 414.11L998.95 415.05L999.20 415.38L999.45 415.61L999.70 415.74L1000.20 415.91L1000.95 416.03L1001.45 416.03L1002.20 415.92L1003.45 415.49L1004.20 415.10L1004.95 414.61L1005.45 414.07L1006.20 412.94L1008.20 409.12L1009.20 407.48L1009.95 406.67L1010.45 406.42L1010.70 406.42L1010.95 406.65L1011.20 407.12L1011.70 408.60L1013.45 415.31L1014.45 419.81L1014.95 421.78L1015.20 422.53L1015.45 423.05L1015.70 423.30L1016.20 423.39L1016.45 423.35L1016.95 423.15L1017.45 422.80L1017.95 422.34L1020.20 419.70L1021.70 418.18L1024.20 415.07L1025.20 414.02L1025.95 413.44L1026.70 413.13L1027.20 413.10L1027.45 413.19L1027.70 413.40L1028.20 414.13L1028.70 415.19L1030.70 420.37L1034.20 427.55L1035.45 429.77L1037.45 432.36L1037.95 433.17L1038.45 434.18L1038.95 435.49L1039.45 437.11L1041.70 445.46L1043.95 452.15L1044.95 454.64L1046.45 457.77L1047.20 459.01L1047.70 459.53L1047.95 459.66L1048.45 459.66L1048.95 459.44L1049.45 459.06L1049.95 458.56L1050.70 457.62L1052.70 454.85L1055.45 451.56L1056.95 449.51L1057.95 447.89L1058.70 446.40L1059.45 444.63L1061.70 438.85L1062.70 436.69L1063.45 435.47L1064.20 434.47L1064.95 433.64L1065.70 432.94L1066.95 432.02L1068.45 431.18L1069.45 430.89L1069.95 430.87L1070.45 430.97L1070.95 431.23L1071.45 431.64L1073.20 433.50L1073.45 433.83L1074.45 435.71L1074.70 436.01L1074.95 436.13L1075.20 436.00L1075.45 435.55L1075.70 434.79L1076.45 431.20L1077.70 424.03L1078.70 416.91L1079.20 414.15L1079.45 413.34L1079.70 413.01L1080.45 412.57L1080.95 412.48L1081.70 412.57L1083.95 413.49L1084.45 413.64L1084.95 413.70L1085.45 413.66L1086.20 413.48L1088.95 412.32L1089.95 412.03L1090.95 411.99L1091.20 412.05L1091.70 412.38L1092.20 412.97L1092.70 413.83L1093.20 414.93L1093.70 416.33L1094.20 418.57L1095.70 426.86L1096.20 428.65L1096.45 429.10L1096.70 429.16L1096.95 428.63L1097.20 427.59L1098.45 419.39L1098.70 418.11L1098.95 417.26L1099.70 415.55L1100.20 414.72L1100.70 414.14L1100.95 413.95L1101.45 413.72L1101.70 413.70L1102.20 413.80L1102.95 414.27L1105.20 416.37L1108.45 418.46L1109.20 418.82L1109.95 419.04L1110.70 419.11L1111.70 419.02L1112.70 418.72L1113.45 418.35L1114.45 417.62L1114.95 417.10L1115.70 415.55L1117.20 411.70L1117.70 410.88L1117.95 410.66L1118.20 410.60L1118.45 410.73L1118.70 411.04L1119.20 412.04L1120.95 416.56L1122.20 420.09L1122.70 421.14L1122.95 421.48L1123.70 421.90L1124.45 422.10L1125.45 422.19L1127.70 422.16L1128.45 422.28L1129.20 422.55L1129.70 422.95L1130.20 423.53L1132.20 426.46L1133.70 428.17L1134.45 428.86L1134.95 429.18L1135.70 429.40L1137.45 429.46L1138.20 429.57L1138.95 429.91L1139.45 430.35L1139.95 431.08L1140.45 432.07L1141.45 434.55L1142.70 437.98L1142.95 438.82L1143.95 443.00L1144.45 444.78L1144.70 445.39L1144.95 445.74L1145.20 445.79L1145.45 445.65L1145.95 444.96L1146.70 443.17L1153.20 423.56L1153.70 422.20L1154.20 421.12L1154.70 420.39L1155.45 419.54L1156.20 418.91L1156.95 418.48L1157.70 418.22L1158.70 418.09L1161.20 418.17L1161.20 589.6Z" fill="#2b2360"/>
<path d="M93.20 489.30L105.70 476.94L107.45 474.96L111.20 470.29L112.70 468.55L114.20 467.04L115.70 465.87L116.45 465.45L117.20 465.15L118.20 464.91L119.20 464.79L121.20 464.82L125.70 465.42L127.45 465.52L128.45 465.47L129.45 465.31L130.45 465.03L130.95 464.80L131.45 464.04L131.95 462.72L133.70 456.47L134.20 454.99L134.70 453.99L134.95 453.73L135.70 453.51L136.20 453.56L136.95 453.86L139.70 455.73L140.45 456.01L140.95 456.05L141.45 455.94L142.20 455.58L144.95 453.42L145.95 452.85L146.45 452.72L146.95 452.71L147.45 452.80L148.20 453.08L149.20 453.68L150.20 454.48L151.45 455.67L152.95 457.27L153.70 458.48L155.95 463.11L156.70 464.06L157.20 464.30L157.45 464.25L157.70 464.05L158.20 463.21L158.70 461.96L160.20 457.56L160.70 456.46L161.20 455.85L162.95 454.91L163.95 454.54L164.70 454.37L165.45 454.30L166.20 454.34L167.45 454.71L167.95 454.97L168.20 455.21L168.45 455.69L168.95 457.29L169.70 460.80L170.70 466.37L172.20 479.18L172.70 482.13L172.95 482.84L173.45 483.20L173.95 483.22L174.45 482.97L174.95 482.49L175.70 481.47L177.45 478.68L178.95 476.79L181.70 472.71L182.45 471.84L182.95 471.41L183.45 471.14L183.95 471.05L184.20 471.08L184.70 471.33L185.20 471.77L185.70 472.38L186.45 473.52L188.70 477.46L189.70 478.81L191.95 480.91L192.95 481.63L193.45 481.85L193.95 481.94L194.70 481.78L195.20 481.43L195.45 481.14L196.20 479.81L196.95 477.92L197.70 475.60L198.95 471.13L200.70 464.42L203.45 450.50L204.70 445.15L205.20 443.60L206.20 441.13L207.20 439.10L207.95 437.91L208.70 437.03L209.45 436.49L210.20 436.34L210.70 436.54L211.20 437.12L211.70 438.00L213.95 443.50L214.45 444.56L214.95 445.38L215.20 445.68L215.70 446.05L216.95 446.70L217.95 446.96L218.95 446.99L219.70 446.83L220.45 446.52L220.95 446.13L221.45 445.51L222.45 443.81L224.45 439.57L225.45 437.69L225.95 436.95L226.45 436.40L226.95 436.07L227.20 436.00L227.70 436.07L228.20 436.38L228.70 436.90L229.20 437.60L230.45 439.93L232.45 444.34L233.45 447.25L235.20 453.54L235.95 455.96L236.70 457.82L237.20 458.61L237.45 458.84L238.20 459.21L238.70 459.29L239.20 459.26L240.20 458.97L242.20 458.12L242.95 457.96L243.45 457.96L244.70 458.24L247.70 459.43L248.45 459.60L249.20 459.65L249.70 459.56L250.45 459.20L252.95 457.44L253.70 457.14L254.20 457.09L254.95 457.34L255.70 457.92L258.20 460.81L259.20 461.65L259.70 461.86L260.45 461.94L262.45 461.59L263.20 461.57L263.95 461.79L264.70 462.36L265.20 463.02L265.70 464.79L266.20 467.65L267.45 476.31L267.95 479.02L268.20 479.96L268.45 480.53L268.95 481.04L269.45 481.38L269.95 481.58L270.70 481.67L271.45 481.58L273.95 480.93L274.70 480.93L275.45 481.17L275.95 481.56L276.45 482.13L278.70 485.49L279.45 486.41L280.20 486.96L280.45 487.03L280.95 487.00L281.45 486.80L282.20 486.26L283.45 484.83L284.70 482.96L287.45 478.39L288.95 476.33L289.70 475.57L290.20 475.20L290.95 474.89L291.45 474.85L291.95 474.96L292.70 475.33L293.95 476.45L295.20 478.00L298.45 482.55L299.45 483.70L300.20 484.37L301.45 485.07L303.95 485.87L305.45 486.08L306.95 485.95L307.70 485.72L308.45 485.32L309.20 484.33L309.95 482.15L311.45 475.88L311.95 474.12L312.45 472.93L312.70 472.63L312.95 472.56L313.20 472.69L313.45 472.98L313.70 473.41L314.20 474.66L314.95 477.23L316.70 484.16L317.45 486.47L317.95 487.47L318.20 487.76L318.45 487.88L318.95 487.80L319.45 487.50L319.95 486.99L320.95 485.47L322.20 482.91L325.20 475.95L326.20 474.08L326.95 473.03L327.70 472.36L328.45 472.08L329.20 472.10L330.70 472.52L331.45 472.64L331.95 472.60L332.45 472.42L332.95 472.05L333.45 471.46L333.95 470.44L334.20 469.72L334.70 467.77L335.20 464.30L336.20 453.67L336.95 443.36L338.45 414.51L338.95 409.21L339.20 407.57L339.45 406.49L339.95 404.88L340.70 403.40L341.45 402.66L342.95 401.76L343.45 401.19L343.95 400.27L344.45 398.97L345.20 396.60L347.45 388.26L348.20 385.77L348.95 383.77L349.70 382.31L351.20 379.87L351.95 378.87L352.70 378.05L353.45 377.42L353.95 377.11L355.45 376.46L355.95 376.38L356.20 376.47L356.45 376.68L356.70 377.06L357.20 378.49L357.70 381.07L357.95 383.34L358.45 391.18L359.70 423.33L360.20 433.57L360.70 441.12L360.95 443.84L361.20 445.49L361.45 445.75L361.70 444.45L361.95 441.95L362.45 434.36L363.45 415.91L363.95 409.08L364.70 402.79L365.20 399.55L365.70 397.26L365.95 396.52L366.20 396.08L366.45 395.95L366.70 396.16L366.95 396.67L367.45 398.41L368.95 406.08L369.70 409.46L371.20 417.28L371.95 420.03L372.20 420.52L372.45 420.74L372.70 420.70L372.95 420.47L373.45 419.55L374.20 417.32L376.20 410.10L376.70 408.86L376.95 408.42L377.20 408.15L377.45 408.04L377.70 408.08L377.95 408.22L378.20 408.47L378.70 409.21L379.45 410.80L381.20 415.16L381.95 416.59L382.45 417.18L382.70 417.34L382.95 417.38L383.20 417.30L383.45 417.04L383.95 416.01L384.45 414.44L386.45 405.97L387.20 403.31L387.70 402.13L387.95 401.78L388.20 401.61L388.45 401.67L388.70 402.04L388.95 402.70L389.45 404.75L390.45 410.84L391.95 421.43L393.70 437.43L394.45 443.13L395.45 448.01L396.20 450.74L396.70 452.12L397.45 453.47L397.95 453.87L398.45 453.94L398.95 453.80L399.45 453.48L401.45 451.56L402.20 451.05L402.70 450.91L402.95 450.91L403.20 450.99L403.70 451.38L404.20 452.05L404.70 452.93L406.95 457.93L409.70 463.21L410.45 464.11L411.20 464.56L411.95 464.79L413.70 465.00L414.45 465.16L415.20 465.50L415.95 466.12L416.20 466.51L416.70 467.64L418.70 473.63L419.20 474.61L419.45 474.91L419.70 475.04L419.95 474.98L420.20 474.64L420.45 473.84L420.95 471.18L422.70 458.52L423.20 456.40L423.95 454.80L424.45 454.13L424.95 453.71L425.70 453.42L426.45 453.35L426.95 453.47L427.45 453.78L429.45 455.78L429.95 456.17L430.45 456.41L430.95 456.44L431.45 456.19L431.70 455.95L431.95 455.27L432.45 452.03L433.70 440.04L435.70 424.32L436.45 419.29L437.45 414.27L438.45 410.02L439.45 406.31L440.70 402.27L441.95 398.75L442.95 396.62L445.45 393.07L446.20 391.50L446.70 390.08L447.20 388.04L447.45 386.60L449.20 374.29L449.95 371.06L450.45 369.31L450.95 367.90L451.45 366.98L451.70 366.74L451.95 366.67L452.20 366.81L452.70 367.78L453.20 369.44L454.20 373.52L455.70 378.92L456.45 381.12L456.95 382.08L457.45 382.57L457.70 382.66L457.95 382.63L458.45 382.37L459.20 381.64L460.45 379.70L462.45 375.61L463.95 372.09L465.45 368.01L469.95 354.49L470.70 351.58L472.70 343.02L473.70 339.67L474.95 337.07L475.70 335.82L476.45 334.78L477.20 333.97L477.70 333.56L478.45 333.15L478.95 333.02L479.45 333.03L479.95 333.32L480.45 333.91L480.70 334.34L481.45 336.20L481.95 338.20L482.45 341.25L483.70 350.54L485.45 361.19L486.95 368.57L490.45 384.34L491.45 389.51L492.70 397.96L493.45 405.87L493.95 409.76L494.20 410.54L494.70 411.62L495.20 412.41L495.70 412.98L496.20 413.37L496.95 413.73L498.70 414.29L500.70 414.75L501.70 415.21L502.45 415.75L502.95 416.24L504.70 418.51L505.20 419.06L505.70 419.44L506.20 419.60L506.45 419.54L506.70 419.23L506.95 418.69L507.45 417.08L508.45 413.28L509.45 410.68L509.95 409.66L510.45 408.90L510.70 408.65L511.20 408.41L511.95 408.38L512.70 408.71L513.45 409.32L515.70 411.55L516.20 411.90L516.95 412.26L518.20 412.73L519.45 413.04L520.45 413.16L522.20 413.22L522.95 413.34L524.45 413.98L525.45 414.64L526.20 415.40L526.95 416.53L527.70 418.13L528.20 419.68L528.95 423.70L530.20 432.33L530.95 436.72L531.20 437.80L531.95 440.13L532.70 442.01L533.45 443.51L534.20 444.70L534.95 445.63L535.70 446.38L536.45 446.97L537.95 447.76L540.95 448.83L541.70 449.21L542.45 449.71L542.95 450.18L543.70 451.06L545.95 454.25L546.70 455.20L547.70 456.13L548.45 456.45L548.95 456.44L549.20 456.35L549.45 456.10L549.95 455.15L550.70 452.86L552.70 445.30L553.45 443.38L553.70 443.00L553.95 442.79L554.20 442.76L554.45 442.86L554.70 443.08L555.20 443.84L556.20 446.29L557.95 451.72L558.70 453.71L559.45 455.07L559.95 455.47L560.20 455.49L560.45 455.42L560.95 455.02L561.45 454.33L561.95 453.40L562.70 451.66L564.70 446.21L565.70 443.80L568.45 438.15L569.20 437.00L569.70 436.50L570.20 436.30L570.45 436.32L570.70 436.40L571.20 436.76L571.95 437.63L574.20 441.00L574.70 441.53L575.20 441.86L577.95 442.91L578.70 443.12L579.45 443.22L580.20 443.17L580.70 443.05L581.45 442.67L581.95 442.29L582.20 442.03L582.45 441.55L582.95 439.91L583.45 437.58L584.95 429.10L585.45 426.65L585.95 424.82L586.20 424.22L586.45 423.87L586.70 423.81L586.95 423.97L587.20 424.33L587.70 425.57L588.45 428.36L589.95 435.24L590.70 438.17L591.20 439.54L591.45 439.99L591.70 440.25L591.95 440.38L592.45 440.44L592.95 440.29L593.45 439.96L593.95 439.48L596.70 435.84L597.95 434.52L600.20 431.67L601.20 430.59L601.95 430.05L602.45 429.87L602.95 429.86L603.45 430.04L603.95 430.40L604.45 430.95L605.45 432.53L606.70 435.36L607.70 438.27L608.20 440.21L608.95 443.72L611.20 455.94L614.20 470.79L614.95 473.55L615.70 475.67L616.45 477.48L617.20 478.85L617.70 479.47L618.20 479.80L618.70 479.84L619.20 479.69L620.20 478.94L622.20 476.69L622.95 475.96L623.70 475.48L624.45 475.36L624.95 475.58L625.70 476.38L628.20 480.47L628.70 481.08L629.20 481.47L629.70 481.61L630.45 481.58L631.20 481.36L633.45 480.38L634.20 480.24L634.70 480.28L635.20 480.44L635.95 480.87L638.70 483.01L639.45 483.36L639.95 483.45L640.45 483.39L640.95 483.15L641.45 482.52L642.20 480.83L643.20 477.50L644.70 471.15L645.20 468.50L647.20 454.24L647.95 449.83L648.95 445.85L649.70 443.63L650.20 442.64L650.45 442.31L650.70 442.11L650.95 442.05L651.20 442.13L651.45 442.36L652.20 443.68L654.20 448.73L655.70 453.19L656.20 454.06L656.45 454.20L656.70 454.15L657.20 453.82L657.95 452.89L658.70 451.60L660.45 448.22L661.20 447.05L661.70 446.50L663.95 444.37L665.20 443.46L665.95 443.10L666.45 442.96L667.20 442.94L667.70 443.08L668.45 443.74L669.20 444.86L671.95 450.51L675.45 456.71L676.20 457.82L676.70 458.38L677.20 458.77L677.70 458.95L678.20 458.96L678.95 458.76L680.20 458.02L681.20 457.17L683.45 454.99L685.70 453.14L689.45 449.71L690.70 448.73L691.95 447.98L692.70 447.66L693.45 447.46L694.45 447.31L695.45 447.26L696.70 447.32L698.45 447.54L699.95 447.96L700.95 448.46L701.95 449.10L703.20 450.08L703.95 450.81L705.20 452.54L707.95 457.01L708.95 458.22L709.70 458.78L710.45 458.95L711.20 458.72L711.95 458.23L713.70 456.73L714.70 456.17L715.20 456.08L715.70 456.17L716.20 456.41L716.95 456.97L717.70 457.76L718.45 458.72L720.70 462.07L721.70 464.16L723.95 469.71L724.70 471.09L725.20 471.69L725.45 471.87L725.95 472.07L726.45 472.14L726.95 472.11L727.95 471.83L730.20 470.93L730.95 470.81L731.70 470.90L732.20 471.17L732.95 471.83L735.45 474.77L736.20 475.35L736.70 475.54L737.20 475.52L737.70 475.35L738.70 474.65L739.70 473.62L742.45 470.29L743.70 469.18L745.70 468.21L747.45 467.52L748.95 467.08L750.45 466.87L751.45 466.87L752.45 467.01L752.95 467.20L753.45 467.61L754.45 468.96L756.45 472.53L757.20 473.70L757.95 474.53L758.70 474.91L759.70 475.05L760.95 474.99L762.20 474.75L764.95 474.03L766.20 473.84L767.70 473.81L770.95 473.93L772.45 473.86L773.70 473.64L774.70 473.30L774.95 473.08L775.45 472.27L776.20 470.41L777.45 466.55L778.20 463.66L782.70 444.88L784.95 435.12L785.95 430.33L788.45 417.26L789.20 413.98L789.70 412.17L790.45 410.19L791.20 408.95L791.95 408.21L793.95 407.02L794.45 406.56L794.95 405.90L795.45 404.98L795.95 403.74L796.70 401.05L797.70 395.64L798.70 388.86L800.95 366.06L802.45 353.56L803.45 347.32L803.95 345.10L804.70 342.30L805.45 340.23L805.95 339.38L806.20 339.14L806.45 339.05L806.70 339.10L806.95 339.36L807.45 340.59L808.20 343.73L809.70 351.81L811.20 364.29L811.70 367.06L811.95 367.56L812.20 367.27L812.45 366.01L812.70 363.91L814.20 344.12L814.70 339.30L815.45 334.64L815.95 332.16L816.45 330.40L816.70 329.86L816.95 329.57L817.20 329.55L817.45 329.89L817.95 331.63L819.95 343.60L821.45 350.83L822.20 353.41L822.45 353.90L822.70 354.15L823.20 354.21L823.70 353.96L824.45 353.18L826.20 350.83L827.20 349.89L827.70 349.53L828.20 349.38L828.45 349.42L828.70 349.55L828.95 349.81L829.20 350.21L829.70 351.38L830.20 352.93L831.70 358.73L832.95 364.03L834.70 372.31L835.45 375.32L836.45 378.71L837.20 380.81L837.70 381.86L838.20 382.52L838.45 382.68L838.70 382.71L838.95 382.61L839.20 382.41L839.70 381.75L841.45 378.49L842.70 376.94L843.45 376.37L843.95 376.24L844.45 376.38L844.95 376.95L845.45 377.93L845.95 379.23L846.95 382.51L848.20 387.48L850.45 397.63L852.95 406.45L853.70 408.54L854.20 409.52L854.45 409.86L854.70 410.07L854.95 410.15L855.20 410.07L855.45 409.79L855.70 409.33L856.20 407.87L856.70 405.77L857.20 403.08L857.95 398.07L858.70 390.22L859.70 375.34L861.95 329.39L862.70 318.16L862.95 316.12L863.45 313.20L863.95 310.99L864.45 309.38L864.95 308.27L865.45 307.54L865.95 307.10L866.70 306.78L866.95 306.78L867.45 306.93L867.95 307.27L868.45 307.78L869.20 308.80L870.45 310.88L870.95 311.97L871.20 312.72L871.95 316.17L872.20 317.81L872.45 320.36L873.95 345.01L874.70 355.30L875.20 359.65L875.45 361.10L875.70 362.03L876.20 363.11L876.45 363.34L876.95 363.52L877.70 363.45L878.45 363.08L880.45 361.74L881.20 361.50L881.70 361.53L882.45 361.85L883.20 362.41L884.95 364.06L885.95 364.85L887.20 366.23L887.45 366.30L887.70 365.95L887.95 365.10L888.20 363.77L888.45 361.76L889.45 345.01L890.20 335.30L890.70 330.02L891.20 326.50L891.70 323.95L892.20 322.47L892.45 322.17L892.70 322.17L892.95 322.42L893.45 323.51L894.20 326.21L895.70 332.57L897.45 341.30L898.20 344.55L900.45 351.88L901.20 353.91L901.70 355.01L902.20 355.88L902.70 356.45L903.20 356.68L903.45 356.63L903.70 356.43L903.95 356.10L904.45 355.15L905.95 351.38L907.70 347.60L908.20 346.87L908.70 346.51L908.95 346.51L909.20 346.66L909.45 346.96L909.95 347.95L910.45 349.32L913.70 359.94L914.95 363.57L915.95 365.74L918.70 370.17L920.45 373.35L921.70 375.83L922.45 377.69L923.70 382.43L924.20 383.61L924.45 383.78L924.70 383.60L924.95 382.81L925.20 381.32L926.70 366.75L927.20 363.60L927.70 361.95L928.45 360.20L928.95 359.45L929.20 359.20L929.70 358.88L930.20 358.79L930.70 358.98L931.45 359.89L933.70 364.40L936.70 369.56L937.70 371.04L938.20 371.61L938.70 372.03L939.45 372.37L940.20 372.52L941.70 372.51L944.70 371.99L945.95 371.90L946.95 372.10L948.95 372.83L949.95 372.96L950.45 372.89L950.95 372.69L951.70 372.10L951.95 371.61L952.45 369.48L953.70 361.39L954.20 358.78L954.95 356.19L955.70 354.10L956.20 353.17L956.45 352.89L956.70 352.76L957.20 352.88L957.95 353.65L958.45 354.44L960.45 358.13L964.70 363.59L965.45 364.29L966.20 364.72L966.95 364.79L967.70 364.43L967.95 364.10L968.20 363.19L968.45 361.77L968.95 357.82L970.20 346.32L971.95 333.71L972.70 329.75L972.95 329.00L973.20 328.63L973.45 328.68L973.70 329.12L974.20 330.94L974.70 333.71L976.45 345.24L978.95 358.98L979.70 362.51L980.20 364.45L981.45 368.29L982.20 370.16L982.95 371.75L983.95 373.49L986.45 377.30L987.20 378.25L987.95 378.85L988.45 378.99L988.70 378.96L989.20 378.68L989.45 378.41L989.70 377.69L989.95 375.87L990.45 369.96L991.45 355.68L991.95 347.01L992.45 340.82L992.95 337.18L993.45 334.73L993.95 333.23L994.20 332.86L994.45 332.74L994.70 332.93L994.95 333.47L995.45 335.37L997.20 344.10L998.45 351.08L998.95 353.30L999.45 354.66L999.95 355.11L1000.70 355.37L1001.45 355.30L1002.20 354.99L1005.45 352.97L1006.20 352.29L1008.20 350.16L1009.20 349.29L1009.70 349.00L1010.20 348.83L1010.70 348.82L1010.95 348.96L1011.45 349.61L1011.95 350.69L1012.45 352.11L1013.20 354.69L1013.70 357.44L1014.95 366.06L1015.45 368.22L1015.70 368.65L1015.95 368.77L1016.45 368.76L1016.95 368.46L1017.45 367.93L1018.20 366.84L1019.70 364.25L1020.45 363.15L1021.70 361.76L1023.95 359.03L1024.95 357.97L1025.95 357.20L1026.70 356.88L1027.45 356.84L1027.70 356.94L1027.95 357.17L1028.45 357.99L1028.95 359.17L1030.70 364.37L1031.70 366.81L1032.95 369.30L1035.20 373.47L1037.45 377.09L1038.45 379.11L1038.95 380.55L1039.45 382.38L1041.45 392.49L1041.95 394.47L1042.70 396.84L1043.70 399.51L1044.95 402.14L1046.70 404.97L1047.20 405.51L1047.70 405.80L1048.20 405.75L1048.45 405.57L1049.20 404.47L1049.95 402.79L1051.45 398.96L1051.95 397.90L1052.45 397.06L1053.70 395.45L1056.70 392.22L1058.20 390.13L1059.45 387.71L1062.45 380.80L1064.20 377.16L1066.20 373.62L1066.95 372.53L1067.70 371.67L1068.70 370.84L1069.45 370.52L1070.20 370.52L1070.70 370.80L1071.45 371.60L1073.20 374.15L1073.45 374.59L1074.45 377.05L1074.70 377.44L1074.95 377.59L1075.20 377.40L1075.45 376.75L1075.95 374.13L1077.20 364.82L1078.70 355.65L1079.20 353.00L1079.70 351.11L1079.95 350.57L1080.70 349.81L1081.45 349.45L1082.20 349.38L1084.20 349.70L1084.95 349.68L1086.20 349.28L1088.95 348.03L1089.70 347.79L1090.45 347.68L1090.95 347.69L1091.45 347.82L1091.95 348.16L1092.45 348.78L1092.95 349.77L1093.45 351.18L1093.95 353.80L1095.95 371.38L1096.20 373.32L1096.45 374.45L1096.70 374.46L1096.95 373.54L1098.45 361.71L1098.95 359.88L1099.70 357.81L1100.45 356.36L1100.95 355.75L1101.45 355.44L1101.70 355.39L1101.95 355.45L1102.45 355.83L1102.95 356.47L1104.20 358.48L1104.95 359.52L1105.95 360.77L1106.70 361.50L1107.20 361.81L1108.20 362.19L1109.20 362.41L1109.95 362.45L1111.20 362.29L1112.20 362.04L1112.70 361.77L1113.20 361.36L1114.20 360.18L1116.20 356.76L1116.95 355.62L1117.70 354.88L1118.20 354.76L1118.45 354.85L1118.70 355.06L1119.20 355.73L1120.70 358.77L1121.20 360.22L1122.20 363.68L1122.70 365.01L1122.95 365.41L1123.70 365.84L1124.45 366.02L1125.20 366.05L1127.20 365.85L1127.95 365.85L1128.95 366.08L1129.45 366.39L1129.95 366.98L1130.70 368.23L1132.70 372.18L1134.20 375.54L1134.70 376.40L1135.20 376.92L1135.95 377.36L1137.70 377.81L1138.45 378.10L1139.20 378.65L1139.70 379.26L1140.20 380.07L1140.95 381.62L1142.20 384.88L1142.95 387.58L1143.95 392.46L1144.45 394.53L1144.70 395.27L1144.95 395.73L1145.20 395.87L1145.45 395.81L1145.70 395.60L1145.95 395.26L1146.45 394.26L1149.20 386.61L1150.20 383.43L1152.20 375.14L1152.95 372.96L1153.70 371.41L1154.20 370.69L1154.70 370.21L1155.20 369.92L1155.95 369.69L1156.95 369.54L1158.45 369.47L1161.20 369.64" fill="none" stroke="#00c2f3" stroke-width="1.3" stroke-linejoin="round"/>
<path d="M93.20 494.35L100.20 487.58L106.20 482.00L112.45 475.45L113.95 474.13L115.45 473.09L116.45 472.60L117.20 472.35L118.20 472.16L119.20 472.07L121.20 472.16L125.45 472.82L127.45 472.99L129.45 472.85L130.45 472.62L130.95 472.41L131.45 471.69L131.95 470.44L133.70 464.51L134.20 463.11L134.70 462.17L134.95 461.93L135.70 461.73L136.20 461.79L136.95 462.09L139.45 463.80L140.20 464.17L140.70 464.29L141.45 464.25L142.20 464.02L144.95 462.57L145.95 462.21L146.45 462.14L147.20 462.20L147.95 462.41L148.70 462.74L149.70 463.35L150.70 464.10L152.95 466.16L153.70 467.25L155.95 471.42L156.70 472.26L157.20 472.46L157.45 472.40L157.70 472.22L158.20 471.48L158.70 470.41L160.20 466.62L160.70 465.68L161.20 465.15L163.20 464.18L164.20 463.85L164.95 463.70L165.70 463.66L166.45 463.72L167.70 464.14L168.20 464.51L168.45 465.00L168.95 466.62L169.45 468.88L170.70 475.66L172.20 487.55L172.70 490.25L172.95 490.89L173.45 491.23L173.95 491.26L174.45 491.04L174.95 490.61L175.70 489.70L177.45 487.17L178.95 485.45L181.70 481.82L182.45 481.06L182.95 480.69L183.45 480.46L183.95 480.40L184.70 480.67L185.20 481.08L185.70 481.64L186.45 482.69L188.70 486.27L189.70 487.51L191.95 489.44L192.95 490.11L193.45 490.31L193.95 490.40L194.70 490.26L195.20 489.94L195.45 489.68L196.20 488.47L196.95 486.73L197.95 483.83L200.70 474.67L203.70 461.93L204.45 459.22L204.95 457.75L206.45 454.51L207.70 452.43L208.45 451.53L208.95 451.10L209.45 450.83L209.95 450.72L210.45 450.81L210.70 450.98L211.45 452.03L212.20 453.65L213.95 458.09L214.45 459.16L214.95 459.98L215.45 460.48L216.20 460.93L216.95 461.24L217.95 461.42L218.70 461.39L219.45 461.21L220.45 460.76L220.95 460.35L221.45 459.75L222.20 458.58L224.70 453.78L225.45 452.53L225.95 451.86L226.70 451.18L227.20 451.00L227.70 451.08L228.20 451.38L228.95 452.18L229.70 453.32L232.45 458.75L233.45 461.47L235.20 467.37L236.20 470.30L236.95 471.81L237.45 472.33L237.95 472.60L238.70 472.76L239.45 472.71L240.20 472.51L242.20 471.75L242.95 471.58L243.45 471.55L244.70 471.75L247.95 472.83L248.70 472.95L249.45 472.92L250.45 472.48L252.95 470.66L253.70 470.37L254.20 470.34L254.70 470.48L255.45 470.98L256.20 471.72L258.20 474.01L259.20 474.80L259.70 474.99L260.45 475.04L262.45 474.62L263.20 474.55L263.95 474.69L264.45 474.95L265.20 475.70L265.70 477.21L266.20 479.66L267.45 487.06L267.95 489.39L268.20 490.19L268.45 490.69L268.70 490.94L269.20 491.32L269.70 491.58L270.20 491.74L270.95 491.82L273.95 491.43L274.70 491.46L275.20 491.57L275.70 491.80L276.45 492.35L278.70 494.62L279.70 495.45L280.20 495.73L280.70 495.87L281.45 495.78L282.45 495.20L283.70 493.94L284.95 492.27L287.70 488.24L288.95 486.71L289.70 486.01L290.20 485.66L290.95 485.35L291.45 485.30L291.95 485.39L292.45 485.60L292.95 485.93L293.70 486.58L294.95 488.02L297.95 492.00L298.95 493.08L299.70 493.70L300.70 494.18L303.20 494.75L304.70 494.87L306.20 494.71L307.20 494.43L307.95 494.11L308.45 493.77L308.70 493.42L309.45 491.75L311.70 484.88L312.20 483.82L312.45 483.46L312.70 483.23L312.95 483.15L313.20 483.23L313.45 483.46L313.70 483.82L314.20 484.91L314.95 487.17L316.70 493.28L317.45 495.26L317.95 496.06L318.20 496.25L318.45 496.30L318.95 496.18L319.45 495.89L319.95 495.44L320.45 494.86L321.20 493.77L322.20 492.02L325.45 485.75L326.45 484.20L327.20 483.32L327.95 482.76L328.45 482.59L328.95 482.55L329.70 482.69L331.70 483.38L332.20 483.45L332.70 483.41L333.45 483.07L333.95 482.61L334.45 481.93L334.70 481.34L334.95 480.23L335.45 476.63L336.20 468.73L336.70 462.32L337.45 448.19L338.45 432.65L338.95 426.80L339.20 424.94L339.45 423.86L339.95 422.26L340.70 420.70L341.45 419.85L342.70 419.00L343.20 418.55L343.95 417.43L345.20 414.34L348.20 405.51L348.95 403.78L350.20 401.53L351.70 399.13L352.95 397.60L353.95 396.83L354.45 396.64L355.20 396.52L355.70 396.61L355.95 396.74L356.45 397.33L356.70 397.85L357.20 399.49L357.45 400.68L357.95 404.20L358.45 410.47L358.70 415.13L360.20 450.02L360.70 457.38L360.95 460.14L361.20 461.87L361.45 462.16L361.70 460.89L361.95 458.66L362.45 452.12L363.70 432.62L364.20 427.31L364.95 420.61L365.45 417.02L365.95 414.59L366.20 413.94L366.45 413.70L366.70 413.83L366.95 414.27L367.45 415.88L371.20 433.89L371.95 436.47L372.20 436.93L372.45 437.14L372.70 437.10L372.95 436.87L373.45 435.93L374.20 433.65L375.45 428.89L376.20 426.37L376.70 425.17L377.20 424.54L377.45 424.46L377.95 424.69L378.70 425.72L379.45 427.32L381.20 431.69L381.95 433.14L382.45 433.74L382.70 433.91L382.95 433.97L383.20 433.91L383.45 433.68L383.95 432.77L384.45 431.37L386.45 423.78L387.20 421.41L387.70 420.36L387.95 420.05L388.20 419.91L388.45 419.97L388.70 420.29L388.95 420.85L389.70 423.71L390.45 427.83L391.45 434.09L392.20 439.58L393.95 455.22L394.70 460.40L395.45 464.30L396.20 467.65L396.70 469.44L397.20 470.77L397.70 471.57L397.95 471.74L398.20 471.82L398.70 471.79L399.20 471.55L399.70 471.16L401.45 469.36L402.20 468.77L402.95 468.54L403.45 468.65L403.95 468.96L404.45 469.43L405.20 470.35L407.45 473.65L407.95 474.45L409.70 477.74L410.45 478.70L410.95 479.06L411.70 479.43L413.95 480.02L414.70 480.29L415.45 480.72L415.95 481.15L416.70 482.47L418.20 486.31L418.70 487.41L419.20 488.17L419.45 488.37L419.70 488.44L419.95 488.35L420.20 487.97L420.70 486.17L422.45 475.38L422.95 473.04L423.45 471.78L423.95 470.97L424.45 470.42L424.95 470.09L425.70 469.90L426.45 469.90L426.95 470.07L427.45 470.42L429.45 472.54L429.95 472.96L430.45 473.23L430.95 473.28L431.45 473.05L431.70 472.81L431.95 472.11L432.45 468.71L433.45 458.87L433.95 455.16L435.70 444.70L436.45 441.05L436.95 439.05L437.95 435.62L438.95 432.61L439.95 429.96L441.20 427.06L442.70 424.12L443.20 423.42L445.20 421.08L445.95 419.79L446.45 418.63L446.70 417.88L447.20 415.77L449.20 404.79L449.95 402.26L450.95 399.82L451.45 399.09L451.70 398.91L451.95 398.86L452.20 398.97L452.70 399.63L453.20 400.77L453.70 402.27L455.20 407.59L455.95 409.94L456.45 411.09L456.95 411.76L457.70 412.10L458.20 412.14L458.70 412.05L459.70 411.54L460.95 410.45L462.70 408.47L463.95 406.43L465.45 403.25L467.95 397.17L468.95 394.38L469.70 391.91L472.45 381.09L473.20 378.77L473.95 376.94L475.20 374.66L476.45 372.96L477.20 372.25L477.70 371.91L478.20 371.70L478.70 371.61L479.20 371.67L479.45 371.79L479.95 372.24L480.20 372.58L480.95 374.03L481.70 376.25L482.70 380.68L484.95 394.45L485.45 397.13L486.20 400.39L487.20 404.20L488.45 408.46L489.45 411.67L491.45 417.31L492.45 420.75L492.70 421.82L493.70 429.44L493.95 430.57L494.70 431.82L495.20 432.40L495.70 432.83L496.70 433.40L498.45 434.00L501.20 434.57L502.45 435.06L502.95 435.46L503.45 436.10L505.45 439.26L505.95 439.75L506.45 439.94L506.70 439.90L506.95 439.73L507.45 438.96L508.20 437.05L509.95 431.79L510.45 430.77L510.70 430.44L511.20 430.14L511.95 430.04L512.70 430.17L513.45 430.46L515.70 431.57L518.95 432.49L520.45 432.65L522.45 432.36L523.20 432.35L524.70 432.77L525.70 433.30L526.45 433.99L527.20 435.04L527.95 436.57L528.20 437.38L528.70 439.88L530.20 450.50L530.95 454.74L531.20 455.65L531.70 456.99L532.20 458.11L532.95 459.48L533.70 460.53L534.45 461.34L535.45 462.21L536.20 462.74L537.70 463.44L541.20 464.51L541.95 464.86L542.70 465.34L543.70 466.31L546.70 469.92L547.70 470.76L548.45 471.09L548.95 471.12L549.20 471.05L549.45 470.87L549.95 470.14L550.70 468.38L552.20 463.92L552.95 462.03L553.45 461.17L553.70 460.90L553.95 460.77L554.20 460.77L554.45 460.89L554.95 461.42L555.70 462.81L557.95 468.81L558.95 470.99L559.45 471.67L559.95 471.99L560.20 471.99L560.70 471.71L561.45 470.75L562.20 469.29L564.70 462.89L565.70 460.68L567.70 457.23L568.45 456.09L569.20 455.23L569.95 454.82L570.20 454.80L570.70 454.94L571.45 455.53L572.20 456.42L573.95 458.79L574.70 459.55L575.20 459.86L577.95 460.97L579.45 461.34L580.20 461.36L580.70 461.28L581.45 461.01L581.95 460.71L582.20 460.50L582.45 460.09L582.95 458.68L583.45 456.67L585.45 447.16L585.95 445.57L586.20 445.06L586.45 444.76L586.70 444.71L586.95 444.86L587.20 445.19L587.70 446.30L588.45 448.81L589.95 454.94L590.70 457.52L591.20 458.71L591.45 459.09L591.70 459.30L591.95 459.38L592.20 459.40L592.70 459.25L593.45 458.65L594.20 457.72L596.70 453.99L600.20 450.43L601.20 449.66L601.95 449.28L602.70 449.14L603.45 449.29L603.95 449.57L604.45 450.00L604.95 450.56L605.70 451.66L606.95 454.11L607.45 455.31L607.95 456.81L609.20 461.86L613.70 483.33L614.45 486.55L614.95 488.24L615.70 490.21L616.45 491.84L617.20 493.06L617.70 493.61L618.20 493.94L618.70 494.02L619.20 493.95L620.20 493.49L622.95 491.55L623.70 491.25L624.45 491.21L624.95 491.37L625.70 491.89L628.20 494.49L628.70 494.88L629.20 495.14L629.70 495.24L630.45 495.23L633.45 494.44L634.20 494.38L634.70 494.45L635.20 494.62L635.95 495.03L638.70 497.04L639.45 497.38L639.95 497.48L640.45 497.45L640.95 497.27L641.20 497.07L641.70 496.42L642.20 495.47L642.70 494.24L643.70 491.08L644.70 487.20L645.20 484.60L647.20 469.52L647.95 465.00L648.70 462.20L649.45 460.21L650.20 459.03L650.70 458.71L650.95 458.69L651.20 458.80L651.45 459.03L652.20 460.34L654.20 465.28L655.70 469.68L656.20 470.55L656.45 470.70L656.70 470.66L657.20 470.35L657.95 469.43L660.45 464.85L660.95 464.08L661.45 463.49L663.20 462.16L664.70 461.32L665.95 460.94L666.70 460.89L667.20 460.94L667.70 461.07L668.20 461.39L669.20 462.51L671.95 467.05L673.20 468.86L675.20 472.03L675.95 473.06L676.95 474.04L677.45 474.29L677.95 474.37L678.70 474.26L679.45 473.96L680.20 473.49L681.20 472.70L685.45 468.91L689.95 464.00L690.95 463.07L691.95 462.32L692.70 461.93L693.45 461.67L694.45 461.44L695.45 461.31L697.45 461.34L698.45 461.49L699.20 461.69L700.20 462.17L701.20 462.83L703.70 464.94L704.95 466.44L707.95 470.76L708.70 471.60L709.45 472.20L710.20 472.49L710.70 472.49L711.20 472.37L711.95 472.00L713.95 470.77L714.45 470.57L714.95 470.47L715.45 470.51L715.95 470.69L716.95 471.36L717.70 472.10L718.45 472.99L720.70 476.13L721.70 478.05L723.95 483.08L724.70 484.32L725.20 484.86L725.95 485.20L726.95 485.26L727.95 485.03L730.20 484.27L730.95 484.15L731.70 484.22L732.20 484.44L732.95 485.02L735.45 487.59L736.20 488.09L736.70 488.24L737.20 488.22L737.70 488.06L738.70 487.42L739.70 486.48L742.45 483.46L743.70 482.45L745.45 481.67L747.20 481.03L748.70 480.63L750.20 480.41L751.45 480.40L752.45 480.52L752.95 480.68L753.45 481.04L754.45 482.26L756.45 485.48L757.20 486.53L757.95 487.28L758.70 487.59L759.70 487.70L760.95 487.60L764.95 486.61L766.45 486.38L767.70 486.35L770.95 486.50L772.20 486.45L773.45 486.22L774.70 485.74L775.20 484.96L775.70 483.61L776.95 479.43L780.95 467.87L783.45 459.64L784.45 455.82L785.20 452.55L788.45 436.91L789.20 433.81L789.70 432.09L790.45 430.20L790.95 429.31L791.45 428.62L792.20 427.86L794.20 426.36L795.20 425.17L795.95 423.78L796.45 422.33L797.20 418.50L798.70 408.10L800.45 392.92L801.20 387.17L801.70 384.16L802.45 380.51L803.20 377.48L803.70 375.84L804.70 373.21L805.20 372.20L805.70 371.49L806.20 371.14L806.45 371.11L806.70 371.20L806.95 371.51L807.20 372.13L807.95 375.39L809.70 386.05L811.20 397.16L811.70 399.37L811.95 399.71L812.20 399.36L812.45 398.13L812.70 396.13L814.20 377.31L814.70 372.50L815.45 367.47L815.95 364.73L816.45 362.78L816.70 362.18L816.95 361.88L817.20 361.91L817.45 362.30L817.95 364.11L818.45 366.93L819.70 375.45L820.20 378.27L821.45 383.56L822.20 385.72L822.45 386.10L822.70 386.28L822.95 386.30L823.45 386.13L823.95 385.75L824.45 385.20L826.45 382.35L827.20 381.48L827.70 381.10L828.20 380.94L828.70 381.05L828.95 381.30L829.45 382.39L829.95 384.10L834.95 405.72L835.95 409.10L836.95 411.67L837.45 412.63L837.95 413.30L838.45 413.62L838.95 413.64L839.45 413.41L840.20 412.76L842.20 410.25L843.20 409.30L843.70 409.07L843.95 409.04L844.45 409.19L844.70 409.47L845.20 410.46L845.70 411.92L850.20 429.01L852.70 436.82L853.45 438.83L854.20 440.22L854.70 440.64L854.95 440.66L855.20 440.52L855.45 440.18L855.95 438.91L856.45 436.96L856.95 434.39L857.95 427.77L858.70 420.61L860.45 398.26L862.20 367.96L862.70 361.12L863.20 356.20L863.95 350.76L864.45 348.75L864.70 348.08L865.20 347.12L865.70 346.58L866.20 346.35L866.95 346.33L867.70 346.57L868.45 347.12L868.95 347.68L869.70 348.83L870.20 349.82L870.70 351.09L870.95 352.14L871.70 357.00L872.45 363.89L873.70 382.35L874.45 391.00L874.70 393.10L875.20 396.09L875.70 398.14L876.20 399.33L876.45 399.61L876.95 399.90L877.70 399.96L878.45 399.71L879.70 399.02L880.45 398.71L880.95 398.64L881.45 398.73L882.20 399.21L882.95 399.99L884.95 402.71L886.45 404.90L886.95 405.29L887.20 405.33L887.45 405.24L887.70 404.75L887.95 403.80L888.20 402.31L888.45 400.12L889.70 385.80L891.45 369.59L891.95 366.37L892.20 365.31L892.45 364.71L892.70 364.55L892.95 364.67L893.20 365.04L893.45 365.61L893.95 367.26L896.20 377.11L897.70 384.21L898.45 387.22L899.20 389.71L900.45 393.37L901.20 395.28L901.95 396.77L902.45 397.45L902.95 397.81L903.20 397.86L903.45 397.77L903.70 397.57L904.45 396.37L906.45 392.00L907.70 389.85L908.20 389.29L908.70 389.02L908.95 389.01L909.45 389.32L909.95 390.01L910.45 390.98L913.70 398.71L914.95 401.32L918.45 407.13L920.95 410.99L922.20 413.28L923.45 415.98L923.95 416.71L924.20 416.88L924.45 416.89L924.70 416.70L924.95 416.04L925.20 414.76L926.70 402.05L927.20 399.31L927.70 397.76L928.45 396.01L929.20 394.88L929.95 394.30L930.45 394.25L930.70 394.38L931.20 394.91L931.70 395.72L933.20 398.81L933.95 400.13L936.70 403.79L937.70 404.89L938.45 405.57L939.20 406.09L940.70 406.94L942.70 407.79L943.70 408.02L947.95 408.65L949.20 408.68L950.20 408.43L950.95 408.03L951.45 407.64L951.70 407.40L951.95 406.93L952.45 404.91L953.70 397.52L954.20 395.33L955.45 391.80L955.95 390.77L956.45 390.14L956.70 390.01L956.95 390.02L957.20 390.13L957.70 390.58L958.20 391.26L960.95 395.72L962.45 397.69L963.45 398.62L964.45 399.21L965.20 399.33L965.95 399.11L966.70 398.50L967.20 397.87L967.70 396.89L968.20 395.22L968.70 392.42L970.20 382.18L971.70 373.90L972.45 370.43L972.95 369.13L973.20 368.90L973.45 369.01L973.70 369.46L974.20 371.19L976.45 383.93L978.70 393.69L979.95 398.17L981.45 402.07L982.95 405.03L983.70 406.23L986.20 409.82L987.45 411.34L987.95 411.73L988.45 411.92L988.95 411.89L989.20 411.78L989.45 411.60L989.70 411.08L989.95 409.79L990.45 405.59L992.45 385.09L992.95 380.78L993.45 377.36L993.95 374.92L994.20 374.18L994.45 373.82L994.70 373.93L994.95 374.53L995.20 375.53L996.45 382.65L997.95 388.95L998.70 391.70L999.20 392.96L999.45 393.35L999.95 393.69L1000.45 393.89L1000.95 393.99L1001.70 393.96L1002.95 393.59L1004.95 392.54L1005.45 392.08L1006.20 391.12L1008.20 387.88L1009.20 386.50L1009.95 385.82L1010.45 385.62L1010.70 385.62L1010.95 385.81L1011.45 386.74L1012.20 389.08L1013.45 393.78L1014.95 401.77L1015.45 403.39L1015.70 403.70L1015.95 403.77L1016.45 403.71L1016.95 403.42L1017.45 402.94L1018.20 401.96L1020.20 398.87L1021.70 397.04L1024.45 393.19L1025.45 392.07L1026.20 391.49L1026.95 391.20L1027.45 391.23L1027.95 391.65L1028.70 393.05L1030.95 399.37L1031.70 401.19L1032.70 403.31L1035.20 408.14L1036.20 409.78L1037.70 411.94L1038.70 413.86L1039.70 416.81L1041.70 425.22L1042.95 428.95L1044.20 432.09L1045.20 434.13L1046.70 436.69L1047.45 437.54L1047.95 437.77L1048.20 437.75L1048.70 437.50L1049.20 437.04L1049.70 436.42L1050.45 435.25L1052.70 431.34L1056.95 425.32L1058.70 422.33L1061.95 415.39L1063.20 413.05L1063.95 411.89L1064.70 410.90L1066.95 408.53L1067.95 407.69L1068.95 407.10L1069.70 406.89L1070.45 407.01L1070.95 407.34L1071.45 407.81L1073.20 409.84L1073.45 410.18L1074.45 412.12L1074.70 412.42L1074.95 412.50L1075.20 412.30L1075.45 411.70L1075.95 409.37L1077.20 401.02L1078.95 390.54L1079.45 388.57L1079.70 388.08L1080.20 387.60L1080.70 387.38L1081.20 387.31L1081.95 387.43L1083.95 388.24L1084.95 388.45L1086.20 388.23L1088.95 387.10L1089.95 386.84L1090.70 386.81L1091.20 386.91L1091.70 387.29L1091.95 387.59L1092.45 388.44L1092.95 389.61L1093.70 392.09L1095.70 405.49L1096.20 408.01L1096.45 408.63L1096.70 408.60L1096.95 407.87L1097.20 406.58L1098.20 399.15L1098.70 396.41L1099.20 394.82L1099.70 393.55L1100.45 392.15L1100.95 391.56L1101.45 391.24L1101.70 391.19L1101.95 391.20L1102.45 391.40L1103.20 392.01L1105.20 394.09L1107.70 395.84L1108.95 396.57L1110.20 397.00L1111.20 397.10L1112.20 397.06L1112.95 396.88L1113.45 396.66L1113.95 396.34L1114.45 395.83L1115.20 394.62L1117.20 389.87L1117.70 389.12L1117.95 388.91L1118.20 388.84L1118.45 388.95L1118.95 389.60L1119.45 390.67L1120.95 394.36L1122.20 398.06L1122.70 399.18L1122.95 399.53L1123.70 399.92L1124.45 400.10L1125.45 400.13L1127.70 400.00L1128.45 400.10L1129.20 400.35L1129.70 400.75L1130.20 401.37L1132.20 404.62L1133.95 407.16L1134.70 408.05L1135.20 408.43L1135.70 408.68L1138.20 409.33L1138.95 409.78L1139.45 410.29L1139.95 411.11L1140.45 412.18L1141.95 416.28L1142.70 418.78L1143.95 423.81L1144.45 425.43L1144.70 425.99L1144.95 426.32L1145.20 426.41L1145.45 426.31L1145.70 426.09L1146.45 424.75L1149.70 416.04L1150.45 413.55L1152.45 405.28L1153.45 402.36L1154.20 400.79L1154.70 400.11L1155.20 399.62L1155.95 399.11L1156.95 398.67L1157.70 398.47L1158.70 398.36L1161.20 398.36" fill="none" stroke="#b8addf" stroke-width="1.3" stroke-linejoin="round"/>
<path d="M93.20 498.37L99.95 492.29L106.20 486.84L112.45 480.60L113.95 479.35L115.45 478.38L116.45 477.92L117.20 477.70L118.20 477.54L119.20 477.49L121.20 477.63L125.70 478.42L127.45 478.61L129.45 478.54L130.45 478.35L130.95 478.17L131.45 477.50L131.95 476.33L133.70 470.73L134.20 469.40L134.70 468.51L134.95 468.28L135.70 468.09L136.20 468.14L136.95 468.40L139.45 469.97L140.20 470.31L140.70 470.43L141.45 470.42L142.20 470.26L144.95 469.18L146.20 468.89L147.45 469.00L148.95 469.54L149.95 470.10L150.95 470.79L152.95 472.50L153.70 473.56L155.95 477.72L156.70 478.59L157.20 478.80L157.45 478.76L157.70 478.60L158.20 477.93L158.70 476.95L160.20 473.49L160.70 472.63L161.20 472.15L163.20 471.30L164.95 470.89L165.70 470.86L166.45 470.93L167.70 471.34L168.20 471.70L168.45 472.17L168.95 473.72L169.45 475.88L170.70 482.35L172.20 493.61L172.70 496.17L172.95 496.79L173.45 497.15L173.95 497.23L174.45 497.08L174.95 496.74L175.70 495.99L177.45 493.83L178.95 492.28L181.95 488.52L182.95 487.69L183.45 487.46L183.95 487.40L184.70 487.66L185.20 488.06L185.70 488.61L186.45 489.62L188.70 493.09L189.70 494.27L191.70 495.88L192.70 496.55L193.70 496.91L194.45 496.88L195.20 496.51L195.70 495.94L196.45 494.63L197.20 492.88L198.20 490.08L200.70 482.51L203.45 472.33L204.45 469.11L205.20 467.29L206.20 465.37L207.20 463.71L208.20 462.42L208.95 461.77L209.45 461.51L210.20 461.44L210.70 461.67L211.20 462.27L211.70 463.14L213.95 468.42L214.45 469.43L214.95 470.21L215.45 470.68L216.45 471.21L217.20 471.45L218.20 471.55L218.95 471.47L219.95 471.16L220.70 470.74L221.20 470.26L222.20 468.86L224.45 464.80L225.45 463.19L225.95 462.56L226.45 462.09L226.95 461.81L227.45 461.76L227.95 461.93L228.45 462.29L229.45 463.49L230.45 465.13L232.45 468.88L233.45 471.42L235.95 479.09L236.70 480.74L237.20 481.43L237.70 481.78L238.20 481.98L239.20 482.11L240.20 481.96L242.45 481.34L243.70 481.27L244.95 481.55L247.70 482.49L248.45 482.64L249.20 482.65L249.70 482.53L250.45 482.12L252.95 480.08L253.70 479.74L254.20 479.69L254.70 479.82L255.45 480.31L256.20 481.04L258.20 483.32L259.20 484.10L259.70 484.29L260.20 484.36L260.95 484.31L262.95 483.94L263.70 484.00L264.20 484.17L264.70 484.48L265.20 484.99L265.70 486.34L266.20 488.54L267.45 495.13L267.95 497.19L268.20 497.91L268.45 498.35L268.95 498.74L269.45 499.02L270.20 499.25L270.95 499.31L273.95 498.93L275.20 499.02L275.70 499.20L276.45 499.64L278.70 501.49L279.70 502.16L280.20 502.38L280.70 502.48L281.45 502.38L282.45 501.84L283.70 500.69L284.95 499.19L287.70 495.55L288.95 494.17L289.70 493.54L290.20 493.22L290.95 492.94L291.45 492.90L291.95 492.98L292.45 493.18L292.95 493.47L293.70 494.06L294.95 495.36L297.95 498.96L298.95 499.94L299.70 500.50L300.70 500.92L302.95 501.40L304.70 501.52L306.20 501.38L307.20 501.13L307.95 500.84L308.45 500.54L308.70 500.24L309.45 498.79L311.70 492.82L312.20 491.91L312.45 491.60L312.70 491.41L312.95 491.35L313.20 491.43L313.45 491.64L313.70 491.99L314.20 492.99L314.95 495.07L316.70 500.68L317.45 502.49L317.95 503.22L318.20 503.40L318.45 503.45L318.95 503.34L319.45 503.07L319.95 502.65L320.95 501.44L322.20 499.45L325.20 494.11L326.20 492.67L327.20 491.66L327.95 491.26L328.45 491.17L328.95 491.20L329.95 491.49L331.95 492.37L332.95 492.58L333.45 492.54L333.95 492.37L334.45 492.04L334.70 491.71L334.95 491.02L335.45 488.59L335.95 484.92L336.45 480.17L336.70 477.08L337.45 459.10L337.95 451.49L338.70 442.02L338.95 439.78L339.20 438.15L339.45 437.13L339.95 435.55L340.70 433.94L341.45 432.96L343.20 431.31L343.95 430.13L345.20 427.16L347.95 419.67L348.70 417.98L349.70 416.22L351.45 413.58L352.70 412.20L353.45 411.68L353.95 411.49L355.20 411.44L355.70 411.57L355.95 411.76L356.45 412.53L356.70 413.17L357.20 415.10L357.45 416.45L357.95 420.51L358.45 428.32L360.20 465.09L360.95 474.76L361.20 476.53L361.45 476.89L361.70 475.74L362.20 471.01L363.45 452.91L363.95 446.68L365.20 434.57L365.70 430.94L365.95 429.66L366.20 428.82L366.45 428.49L366.70 428.56L366.95 428.96L367.20 429.62L367.70 431.57L368.95 437.79L371.20 447.83L371.95 450.24L372.20 450.68L372.45 450.89L372.70 450.87L372.95 450.68L373.20 450.34L373.70 449.29L376.20 441.47L376.70 440.42L377.20 439.87L377.45 439.81L377.95 440.02L378.70 440.94L379.45 442.36L381.20 446.22L381.95 447.51L382.45 448.05L382.70 448.20L382.95 448.26L383.20 448.21L383.45 448.03L383.95 447.27L384.45 446.09L386.45 439.70L387.20 437.69L387.70 436.80L387.95 436.54L388.20 436.42L388.45 436.45L388.70 436.68L388.95 437.09L389.70 439.27L390.45 442.53L391.20 446.47L391.70 449.36L392.20 453.06L393.70 466.61L394.45 472.54L395.45 478.24L396.20 481.90L396.95 484.72L397.45 485.96L397.70 486.34L397.95 486.55L398.45 486.70L398.95 486.64L399.45 486.40L399.95 486.05L401.95 484.28L402.45 483.99L402.95 483.85L403.45 483.88L404.20 484.08L405.45 484.76L406.70 485.77L407.70 486.78L408.20 487.54L409.70 490.33L410.45 491.39L411.70 492.37L414.70 493.88L415.45 494.43L415.95 494.92L416.70 496.19L417.95 499.07L418.70 500.54L419.20 501.14L419.45 501.28L419.70 501.30L419.95 501.16L420.20 500.73L420.70 498.95L422.20 490.31L422.70 487.81L423.20 486.25L423.95 485.18L424.45 484.81L424.95 484.63L425.70 484.61L426.70 484.78L427.45 485.29L429.45 487.50L430.20 488.10L430.70 488.28L430.95 488.27L431.45 488.05L431.70 487.81L431.95 487.08L432.20 485.58L433.70 471.54L434.95 465.04L435.70 461.90L436.20 460.16L436.95 458.12L437.70 456.56L438.45 455.26L439.45 453.83L440.45 452.65L442.45 450.61L443.20 450.13L444.45 449.60L445.20 449.09L445.95 448.14L446.45 447.17L446.70 446.48L447.20 444.27L448.95 433.00L449.45 430.37L450.70 425.82L451.45 423.99L451.70 423.65L451.95 423.49L452.20 423.52L452.45 423.72L452.95 424.50L453.70 426.39L455.95 433.59L456.45 434.75L456.95 435.50L457.70 436.11L458.45 436.55L459.20 436.82L459.95 436.94L460.70 436.91L461.45 436.75L462.45 436.34L462.95 435.99L463.95 434.90L465.20 432.92L466.45 430.37L467.70 427.39L468.20 425.93L468.95 423.25L471.70 411.94L472.45 409.43L473.20 407.53L474.70 404.46L475.45 403.22L476.20 402.19L476.95 401.40L477.45 401.01L478.20 400.65L478.70 400.57L479.20 400.66L479.45 400.78L480.20 401.53L480.95 402.99L481.45 404.46L481.95 406.65L482.45 409.48L484.70 425.01L485.20 427.89L485.70 430.15L486.95 434.67L488.20 438.24L488.95 439.90L489.45 440.81L490.70 442.51L491.70 443.56L492.95 444.61L496.45 446.86L497.95 447.55L500.95 448.53L502.45 449.30L502.95 449.75L503.45 450.42L505.45 453.64L505.95 454.15L506.45 454.37L506.70 454.35L506.95 454.20L507.45 453.52L508.20 451.81L509.95 447.02L510.45 446.09L510.70 445.78L511.20 445.49L511.95 445.36L512.70 445.42L515.95 446.44L519.20 446.94L520.45 446.99L522.45 446.73L523.20 446.75L524.45 447.12L525.45 447.66L526.20 448.30L526.95 449.21L527.70 450.45L528.20 451.63L528.70 453.70L530.20 462.38L530.95 465.90L531.45 467.32L532.20 469.03L532.95 470.48L533.70 471.68L534.95 473.18L535.70 473.80L536.45 474.26L537.95 474.83L541.20 475.60L541.95 475.89L542.70 476.31L543.95 477.41L546.70 480.34L547.45 480.94L548.20 481.34L548.70 481.45L549.20 481.41L549.45 481.27L549.95 480.70L550.70 479.29L552.20 475.73L552.95 474.23L553.45 473.56L553.70 473.35L553.95 473.26L554.20 473.27L554.45 473.38L554.95 473.86L555.70 475.09L557.95 480.29L558.95 482.16L559.45 482.74L559.70 482.91L559.95 483.00L560.45 482.88L561.20 482.16L561.95 480.91L562.70 479.30L564.70 474.47L565.70 472.47L567.45 469.89L568.20 468.92L568.95 468.15L569.70 467.71L570.20 467.65L570.45 467.69L571.20 468.08L571.95 468.77L574.20 471.28L574.70 471.69L575.20 471.97L577.95 473.02L579.45 473.40L580.70 473.39L581.45 473.18L581.95 472.94L582.20 472.77L582.45 472.42L582.70 471.90L583.20 470.40L584.95 463.18L585.70 460.61L586.20 459.58L586.45 459.34L586.70 459.31L586.95 459.47L587.20 459.79L587.70 460.85L588.45 463.19L590.45 470.54L591.20 472.33L591.45 472.67L591.70 472.85L591.95 472.91L592.45 472.82L593.20 472.27L593.95 471.34L595.95 468.12L596.95 466.77L599.20 464.88L600.70 463.92L601.45 463.59L602.20 463.41L602.95 463.41L603.45 463.52L604.45 464.09L604.95 464.54L605.70 465.41L606.70 466.95L607.45 468.39L607.95 469.63L608.70 471.98L611.95 484.84L614.20 494.99L614.95 497.54L615.95 499.92L616.70 501.29L617.20 502.00L617.70 502.51L618.45 502.90L618.95 502.95L619.70 502.86L620.45 502.62L622.95 501.53L623.70 501.36L624.45 501.36L625.45 501.70L628.20 503.62L629.20 504.06L629.70 504.13L630.45 504.10L633.20 503.50L634.45 503.45L634.95 503.57L635.70 503.90L638.45 505.77L639.45 506.24L640.20 506.36L640.70 506.28L641.20 506.02L641.45 505.78L642.20 504.67L643.20 502.34L644.20 499.19L644.95 496.25L645.70 491.64L647.45 478.69L648.20 474.98L648.95 472.58L649.45 471.41L649.95 470.59L650.20 470.32L650.70 470.04L650.95 470.05L651.20 470.17L651.45 470.44L651.95 471.30L654.20 477.09L655.70 481.51L656.20 482.39L656.45 482.55L656.70 482.52L657.20 482.25L657.95 481.42L660.45 477.22L660.95 476.53L661.45 476.02L662.95 475.09L664.45 474.44L665.70 474.15L666.95 474.15L667.95 474.43L668.45 474.78L669.20 475.55L671.95 479.42L673.45 481.37L675.20 483.90L676.20 485.10L676.70 485.54L677.20 485.83L677.70 485.95L678.45 485.84L679.45 485.34L680.70 484.29L683.45 481.35L685.70 479.16L689.95 474.31L691.70 472.72L692.95 471.98L694.70 471.39L696.45 471.12L697.95 471.16L698.95 471.37L700.20 472.01L701.45 472.98L703.45 474.85L704.70 476.29L707.95 480.93L708.70 481.76L709.45 482.35L710.20 482.64L710.70 482.65L711.20 482.52L711.95 482.16L713.95 480.94L714.95 480.63L715.45 480.66L715.95 480.82L716.45 481.07L717.20 481.63L718.70 483.20L720.70 485.81L721.45 487.13L723.45 491.48L724.20 492.91L724.95 493.94L725.20 494.17L725.70 494.42L726.45 494.54L727.20 494.46L730.20 493.40L730.95 493.26L731.70 493.32L732.20 493.53L732.95 494.09L734.95 496.15L735.70 496.81L736.45 497.22L737.20 497.28L737.95 497.05L738.95 496.45L739.95 495.61L742.45 493.27L743.70 492.41L745.70 491.67L747.70 491.09L749.45 490.77L750.95 490.69L752.70 490.87L753.45 491.31L754.45 492.44L756.95 496.09L757.70 496.88L758.45 497.29L759.45 497.39L760.70 497.27L761.95 496.95L764.95 495.96L766.20 495.70L767.70 495.60L771.20 495.67L772.70 495.52L773.70 495.27L774.70 494.83L775.20 494.06L775.70 492.74L776.95 488.71L780.45 479.28L782.95 472.16L783.70 469.78L784.45 467.05L786.20 459.00L788.20 450.37L789.20 446.43L789.95 444.07L790.70 442.37L791.45 441.13L792.20 440.18L793.95 438.30L794.70 437.30L795.45 435.97L796.20 434.14L796.70 432.04L797.20 429.14L800.45 407.69L801.45 402.02L801.95 399.92L803.20 395.83L803.95 393.69L804.70 391.93L805.20 391.03L805.70 390.38L806.20 390.03L806.45 389.97L806.70 390.00L806.95 390.25L807.45 391.69L808.20 395.50L809.70 404.74L811.20 415.52L811.70 417.67L811.95 418.00L812.20 417.68L812.45 416.54L812.95 412.26L814.20 396.94L814.70 392.15L815.95 383.48L816.45 381.10L816.70 380.33L816.95 379.90L817.20 379.86L817.45 380.22L817.95 382.06L818.45 384.98L819.70 393.75L820.20 396.58L821.20 400.63L821.95 402.80L822.20 403.24L822.45 403.49L822.95 403.52L823.45 403.28L823.95 402.82L824.45 402.22L826.45 399.25L827.20 398.36L827.70 397.97L828.20 397.80L828.70 397.90L828.95 398.17L829.20 398.72L829.70 400.46L831.45 409.13L834.20 420.57L836.20 427.48L837.20 430.29L837.70 431.26L837.95 431.60L838.20 431.82L838.45 431.91L838.95 431.87L839.45 431.63L839.95 431.24L842.20 428.68L842.95 428.00L843.45 427.72L843.95 427.63L844.45 427.79L844.70 428.07L845.20 429.09L845.70 430.56L849.70 445.33L850.95 449.34L852.70 454.10L853.70 456.34L854.20 457.04L854.45 457.25L854.70 457.34L854.95 457.32L855.20 457.14L855.45 456.74L855.95 455.36L856.70 452.01L857.70 445.71L858.45 439.38L859.20 431.09L860.45 415.19L862.20 387.38L862.70 380.90L863.45 372.91L863.95 369.14L864.20 368.00L864.45 367.37L864.95 366.62L865.20 366.42L865.70 366.27L866.95 366.58L868.20 366.77L868.95 367.10L869.45 367.53L869.95 368.21L870.45 369.18L870.70 369.96L870.95 371.27L871.45 375.18L872.20 382.98L873.70 406.57L873.95 408.78L874.45 411.73L875.20 414.57L875.70 415.73L876.20 416.56L876.70 417.16L877.20 417.57L877.70 417.82L878.20 417.93L879.95 417.91L880.70 417.99L881.45 418.32L882.45 419.12L883.45 420.11L884.95 421.82L885.45 422.65L886.45 424.72L886.95 425.48L887.20 425.69L887.45 425.74L887.70 425.60L887.95 425.25L888.20 424.38L888.70 419.99L889.95 404.43L891.20 392.82L891.95 387.54L892.20 386.49L892.45 385.90L892.70 385.75L892.95 385.84L893.20 386.12L893.45 386.58L893.95 387.94L898.95 407.15L901.20 413.95L901.95 415.79L902.45 416.72L902.95 417.32L903.20 417.47L903.45 417.48L903.70 417.33L903.95 417.04L904.45 416.17L905.70 413.49L906.95 411.82L907.70 410.99L908.20 410.62L908.70 410.48L909.20 410.64L909.70 411.11L910.20 411.82L912.20 415.65L914.45 421.34L915.20 422.77L916.20 424.01L917.45 425.31L920.70 428.11L922.70 431.05L923.20 431.67L923.70 432.07L924.20 432.19L924.70 431.95L924.95 431.41L925.20 430.33L925.70 427.03L926.70 419.24L927.20 416.66L927.95 414.22L928.70 412.26L929.45 410.87L929.95 410.33L930.20 410.19L930.45 410.19L930.70 410.30L930.95 410.51L931.45 411.18L933.70 415.77L935.45 418.27L937.70 421.04L940.70 424.19L942.20 425.63L943.45 426.53L946.20 427.66L947.70 428.15L948.95 428.37L950.20 428.30L951.45 427.85L951.70 427.70L951.95 427.35L952.45 425.73L953.70 419.62L954.20 417.82L955.45 414.89L955.95 414.01L956.45 413.45L956.70 413.32L956.95 413.31L957.20 413.39L957.70 413.82L961.20 418.65L961.70 419.28L962.20 419.74L962.70 419.97L963.45 419.95L964.20 419.65L964.70 419.28L965.45 418.41L966.20 417.15L966.95 415.54L967.45 414.10L968.20 411.01L969.70 403.45L971.95 392.90L972.70 390.27L972.95 389.80L973.20 389.60L973.45 389.70L973.70 390.10L974.20 391.64L976.45 402.95L978.70 411.63L979.45 414.18L980.20 416.36L981.70 419.86L982.45 421.32L983.45 423.01L986.70 427.55L987.45 428.37L988.20 428.90L988.70 429.04L988.95 429.03L989.45 428.83L989.70 428.49L990.20 426.47L991.95 413.95L993.70 398.76L994.20 396.10L994.45 395.46L994.70 395.44L994.95 396.09L995.20 397.27L996.20 404.18L996.70 406.81L997.45 409.30L998.20 411.44L998.70 412.54L999.20 413.31L999.45 413.55L1000.20 413.85L1000.95 413.99L1001.70 413.97L1002.45 413.83L1003.20 413.58L1004.20 413.10L1004.95 412.62L1005.45 412.09L1006.20 410.96L1008.20 407.16L1009.20 405.53L1009.95 404.72L1010.45 404.47L1010.70 404.47L1010.95 404.70L1011.20 405.17L1011.70 406.65L1013.45 413.34L1014.95 419.79L1015.45 421.05L1015.70 421.30L1016.20 421.37L1016.70 421.25L1017.20 420.96L1017.70 420.54L1020.20 417.59L1021.70 416.04L1024.45 412.58L1025.45 411.58L1026.20 411.07L1026.70 410.88L1027.20 410.85L1027.45 410.93L1027.70 411.14L1028.20 411.87L1028.70 412.91L1030.70 418.06L1034.20 425.18L1035.45 427.39L1037.45 429.95L1038.45 431.76L1039.45 434.67L1041.70 443.00L1043.95 449.67L1044.95 452.15L1046.45 455.27L1047.20 456.51L1047.70 457.03L1047.95 457.16L1048.45 457.16L1048.95 456.94L1049.95 456.07L1052.70 452.43L1055.45 449.25L1056.95 447.28L1057.95 445.70L1058.70 444.26L1061.70 436.86L1062.70 434.75L1063.95 432.89L1064.70 432.04L1065.45 431.33L1066.95 430.23L1068.45 429.42L1069.45 429.14L1069.95 429.12L1070.45 429.22L1070.95 429.48L1071.45 429.88L1073.20 431.69L1073.45 432.01L1074.45 433.85L1074.70 434.14L1074.95 434.24L1075.20 434.10L1075.45 433.63L1075.70 432.86L1076.45 429.23L1077.70 421.99L1078.70 414.82L1079.20 412.03L1079.45 411.21L1079.70 410.87L1080.45 410.39L1080.95 410.28L1081.70 410.34L1083.95 411.20L1084.95 411.40L1086.20 411.18L1088.95 410.07L1089.95 409.80L1090.95 409.79L1091.20 409.86L1091.70 410.23L1092.20 410.91L1092.70 411.86L1093.20 413.08L1093.70 414.61L1094.20 416.96L1095.70 425.55L1096.20 427.39L1096.45 427.85L1096.70 427.91L1096.95 427.38L1097.20 426.31L1098.70 416.63L1098.95 415.73L1099.70 413.87L1100.20 412.95L1100.95 412.06L1101.20 411.89L1101.70 411.74L1102.45 411.92L1103.20 412.44L1105.20 414.22L1107.70 415.76L1108.95 416.39L1110.20 416.72L1110.95 416.72L1111.70 416.61L1112.70 416.29L1113.45 415.90L1114.45 415.15L1114.95 414.62L1115.70 413.06L1117.20 409.20L1117.70 408.38L1117.95 408.16L1118.20 408.10L1118.45 408.23L1118.70 408.54L1119.20 409.54L1120.95 414.06L1122.20 417.59L1122.70 418.64L1122.95 418.98L1123.70 419.40L1124.45 419.60L1125.45 419.69L1127.70 419.66L1128.45 419.78L1129.20 420.05L1129.70 420.45L1130.20 421.03L1132.20 423.96L1133.70 425.67L1134.45 426.36L1134.95 426.68L1135.70 426.90L1137.45 426.96L1138.20 427.07L1138.95 427.41L1139.45 427.87L1140.20 429.15L1141.20 431.68L1142.70 436.14L1144.45 443.24L1144.70 443.88L1144.95 444.24L1145.20 444.29L1145.45 444.14L1145.95 443.45L1146.70 441.62L1153.20 421.39L1153.70 420.00L1154.20 418.90L1154.70 418.15L1155.45 417.28L1156.20 416.64L1156.95 416.20L1157.70 415.94L1158.70 415.80L1161.20 415.88" fill="none" stroke="#ef476f" stroke-width="1.5" stroke-linejoin="round"/>
</g>
<path d="M89.7 589.55H1164" stroke="#585858" stroke-width="2.3" fill="none"/>
<text class="wm" transform="translate(0 349.9) scale(0.860 1)" x="344.5 397.8 457.9 483.4 546.4 606.5 635.2 696.5 745.7 803.4 830.8 882.2 947.5" y="0">coinglass.com</text>
<path d="M258.6 643.7h17.6" stroke="#2b2360" stroke-width="2.5" fill="none"/><circle cx="267.4" cy="643.7" r="2.45" fill="#fff" stroke="#2b2360" stroke-width="2.5"/>
<path d="M356.2 643.7h17.6" stroke="#ef476f" stroke-width="2.5" fill="none"/><circle cx="365.0" cy="643.7" r="2.45" fill="#fff" stroke="#ef476f" stroke-width="2.5"/>
<path d="M446.6 643.7h17.6" stroke="#b8addf" stroke-width="2.5" fill="none"/><circle cx="455.4" cy="643.7" r="2.45" fill="#fff" stroke="#b8addf" stroke-width="2.5"/>
<path d="M524.2 643.7h17.6" stroke="#00c2f3" stroke-width="2.5" fill="none"/><circle cx="533.0" cy="643.7" r="2.45" fill="#fff" stroke="#00c2f3" stroke-width="2.5"/>
<path d="M601.5 643.7h17.6" stroke="#93552b" stroke-width="2.5" fill="none"/><circle cx="610.3" cy="643.7" r="2.45" fill="#fff" stroke="#93552b" stroke-width="2.5"/>
<path d="M669.1 643.7h17.6" stroke="#f4a9c4" stroke-width="2.5" fill="none"/><circle cx="677.9" cy="643.7" r="2.45" fill="#fff" stroke="#f4a9c4" stroke-width="2.5"/>
<path d="M759.7 643.7h17.6" stroke="#4a9d93" stroke-width="2.5" fill="none"/><circle cx="768.5" cy="643.7" r="2.45" fill="#fff" stroke="#4a9d93" stroke-width="2.5"/>
<path d="M840.7 643.7h17.6" stroke="#7ed9a4" stroke-width="2.5" fill="none"/><circle cx="849.5" cy="643.7" r="2.45" fill="#fff" stroke="#7ed9a4" stroke-width="2.5"/>
<text class="ax" x="25.39" y="22.9" textLength="59.88" lengthAdjust="spacingAndGlyphs">$800M</text>
<text class="ax" x="25.39" y="165.9" textLength="59.88" lengthAdjust="spacingAndGlyphs">$600M</text>
<text class="ax" x="25.39" y="308.9" textLength="59.88" lengthAdjust="spacingAndGlyphs">$400M</text>
<text class="ax" x="25.39" y="451.9" textLength="59.88" lengthAdjust="spacingAndGlyphs">$200M</text>
<text class="ax" x="38.96" y="593.0" textLength="46.41" lengthAdjust="spacingAndGlyphs">$0.00</text>
<text class="ax" x="133.25" y="614.6" textLength="58.36" lengthAdjust="spacingAndGlyphs">25 Oct</text>
<text class="ax" x="217.06" y="614.6" textLength="63.17" lengthAdjust="spacingAndGlyphs">12 Nov</text>
<text class="ax" x="303.58" y="614.6" textLength="62.27" lengthAdjust="spacingAndGlyphs">29 Nov</text>
<text class="ax" x="390.87" y="614.6" textLength="59.50" lengthAdjust="spacingAndGlyphs">15 Dec</text>
<text class="ax" x="476.44" y="614.6" textLength="59.93" lengthAdjust="spacingAndGlyphs">31 Dec</text>
<text class="ax" x="564.30" y="614.6" textLength="56.02" lengthAdjust="spacingAndGlyphs">17 Jan</text>
<text class="ax" x="654.58" y="614.6" textLength="47.03" lengthAdjust="spacingAndGlyphs">2 Feb</text>
<text class="ax" x="734.68" y="614.6" textLength="57.55" lengthAdjust="spacingAndGlyphs">18 Feb</text>
<text class="ax" x="824.01" y="614.6" textLength="51.03" lengthAdjust="spacingAndGlyphs">6 Mar</text>
<text class="ax" x="905.01" y="614.6" textLength="61.60" lengthAdjust="spacingAndGlyphs">22 Mar</text>
<text class="ax" x="998.01" y="614.6" textLength="47.41" lengthAdjust="spacingAndGlyphs">7 Apr</text>
<text class="ax" x="1078.58" y="614.6" textLength="56.32" lengthAdjust="spacingAndGlyphs">23 Apr</text>
<text class="lg" x="282.82" y="647.9" textLength="56.55" lengthAdjust="spacingAndGlyphs">Binance</text>
<text class="lg" x="379.87" y="647.9" textLength="49.93" lengthAdjust="spacingAndGlyphs">Bitmex</text>
<text class="lg" x="470.06" y="647.9" textLength="36.98" lengthAdjust="spacingAndGlyphs">Bybit</text>
<text class="lg" x="547.82" y="647.9" textLength="36.84" lengthAdjust="spacingAndGlyphs">Okex</text>
<text class="lg" x="624.87" y="647.9" textLength="27.93" lengthAdjust="spacingAndGlyphs">FTX</text>
<text class="lg" x="693.20" y="647.9" textLength="49.74" lengthAdjust="spacingAndGlyphs">Kraken</text>
<text class="lg" x="783.25" y="647.9" textLength="44.36" lengthAdjust="spacingAndGlyphs">Huobi</text>
<text class="lg" x="864.39" y="647.9" textLength="36.46" lengthAdjust="spacingAndGlyphs">dYdX</text>
</svg>
</body>
</html>
